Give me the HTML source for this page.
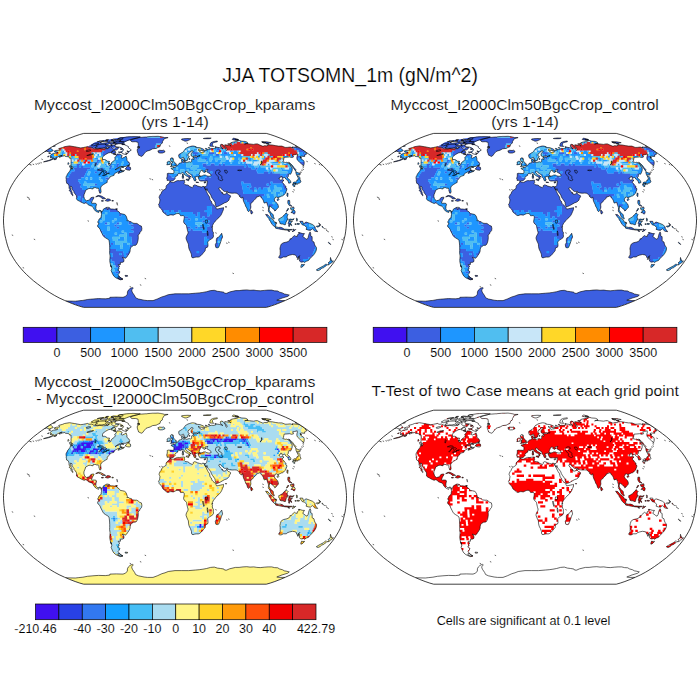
<!DOCTYPE html>
<html><head><meta charset="utf-8"><title>JJA TOTSOMN_1m</title>
<style>html,body{margin:0;padding:0;background:#fff}svg{display:block}</style></head>
<body><svg width="700" height="700" viewBox="0 0 700 700">
<rect width="700" height="700" fill="#fff"/>
<defs><clipPath id="lc"><path d="M-120.8 -69.3L-118.5 -70.0L-115.4 -70.2L-115.6 -70.8L-116.3 -71.8L-112.3 -72.9L-110.5 -73.7L-105.5 -74.5L-103.1 -74.1L-100.8 -73.7L-99.9 -73.6L-98.9 -73.4L-98.0 -73.2L-97.0 -73.0L-94.2 -72.5L-91.6 -72.9L-87.1 -73.8L-86.1 -72.9L-83.1 -73.1L-80.6 -71.6L-77.2 -71.4L-75.2 -72.0L-73.6 -71.6L-71.6 -71.4L-68.5 -71.7L-67.3 -71.6L-65.7 -73.4L-63.1 -75.2L-63.0 -73.8L-63.4 -72.9L-62.7 -72.0L-61.7 -71.6L-60.9 -71.1L-58.8 -73.0L-56.4 -73.0L-56.6 -72.0L-58.1 -70.6L-61.3 -70.1L-63.0 -68.8L-64.2 -68.0L-66.8 -67.4L-69.4 -65.9L-72.1 -63.9L-72.5 -62.7L-72.5 -60.9L-70.4 -60.9L-69.1 -60.4L-67.5 -59.2L-65.4 -59.0L-66.5 -56.8L-65.9 -55.1L-64.6 -55.3L-63.4 -57.9L-60.7 -59.9L-59.6 -61.4L-60.4 -62.7L-59.0 -63.9L-58.0 -66.3L-55.1 -66.2L-52.8 -64.9L-53.9 -62.7L-52.6 -62.2L-50.1 -63.4L-48.9 -64.3L-48.1 -61.9L-48.1 -59.9L-46.3 -58.4L-45.3 -56.8L-45.4 -55.8L-46.7 -55.2L-49.5 -53.9L-54.5 -53.9L-57.0 -52.7L-59.9 -50.6L-58.4 -51.3L-55.4 -52.7L-53.7 -52.7L-54.5 -51.6L-54.6 -50.6L-54.3 -49.5L-51.9 -49.1L-50.7 -50.4L-51.0 -49.2L-52.5 -48.6L-54.9 -47.7L-56.9 -46.9L-56.5 -47.9L-54.9 -49.0L-57.2 -48.5L-59.3 -47.4L-60.9 -46.3L-60.9 -45.1L-61.9 -44.7L-64.6 -43.9L-65.2 -42.6L-66.6 -41.4L-67.7 -39.9L-67.8 -38.8L-67.8 -38.0L-69.3 -37.2L-71.4 -35.9L-73.6 -34.3L-74.4 -32.4L-74.1 -30.2L-73.9 -28.6L-74.5 -27.2L-75.2 -27.2L-75.6 -28.4L-76.2 -30.2L-76.0 -31.3L-76.8 -32.4L-78.1 -32.0L-79.0 -32.8L-80.4 -32.7L-81.8 -32.6L-81.9 -31.5L-83.0 -31.5L-84.3 -31.9L-86.1 -31.9L-87.2 -31.3L-89.3 -30.2L-90.0 -28.0L-90.9 -25.9L-91.2 -24.1L-90.7 -22.1L-90.0 -20.7L-89.1 -20.1L-88.5 -19.6L-86.8 -20.1L-85.3 -20.5L-84.6 -22.1L-84.1 -22.7L-82.1 -23.2L-81.2 -23.2L-81.1 -22.4L-82.0 -21.0L-82.6 -20.0L-83.0 -18.9L-83.5 -17.3L-82.9 -17.0L-81.0 -17.2L-79.1 -17.0L-78.5 -16.2L-79.0 -14.0L-79.2 -11.9L-78.7 -10.8L-77.8 -9.7L-76.9 -9.5L-75.9 -9.9L-75.0 -10.2L-73.6 -9.4L-73.1 -8.6L-73.7 -7.8L-74.3 -9.1L-75.5 -9.6L-76.0 -8.8L-76.3 -7.9L-77.4 -8.3L-78.6 -8.8L-79.3 -9.2L-80.4 -10.6L-81.3 -11.3L-81.3 -12.1L-82.7 -13.9L-83.0 -14.3L-84.1 -14.5L-85.5 -15.0L-86.8 -15.6L-88.4 -17.3L-89.5 -17.5L-90.9 -16.9L-92.7 -17.7L-94.0 -18.3L-95.8 -19.4L-97.1 -20.0L-98.3 -21.0L-98.6 -22.1L-98.3 -23.2L-98.7 -24.8L-99.8 -26.4L-100.9 -27.6L-101.1 -28.8L-101.8 -29.7L-102.4 -30.7L-103.1 -31.8L-103.0 -33.4L-104.3 -34.2L-104.7 -32.9L-104.1 -31.3L-103.7 -29.7L-102.9 -28.0L-102.7 -26.4L-101.9 -25.0L-102.4 -24.7L-102.8 -25.4L-103.9 -26.6L-103.9 -28.0L-105.2 -29.1L-105.9 -30.0L-104.9 -30.7L-105.9 -32.1L-106.0 -34.0L-106.2 -35.2L-106.9 -36.5L-108.4 -37.2L-108.5 -38.3L-108.8 -39.7L-108.7 -40.8L-109.0 -42.6L-108.9 -43.6L-107.9 -45.3L-107.6 -46.3L-105.9 -48.5L-105.0 -49.8L-104.2 -52.1L-102.9 -52.0L-103.1 -50.9L-102.1 -52.7L-102.5 -53.7L-104.3 -54.8L-103.9 -56.3L-104.0 -58.2L-103.8 -59.4L-104.0 -60.9L-104.0 -62.2L-105.5 -62.2L-105.8 -63.1L-106.7 -63.7L-109.6 -63.9L-110.2 -64.7L-112.7 -64.2L-114.7 -63.4L-116.0 -63.2L-114.5 -64.5L-112.8 -65.1L-115.5 -64.4L-117.6 -63.2L-119.2 -62.4L-122.2 -61.1L-125.0 -59.9L-127.9 -59.1L-129.9 -58.7L-131.5 -58.5L-128.6 -59.5L-126.6 -59.9L-124.0 -60.9L-121.5 -62.4L-122.3 -62.6L-123.5 -62.7L-124.8 -62.6L-123.5 -63.7L-124.8 -63.9L-124.6 -64.9L-123.9 -65.9L-121.5 -67.0L-118.7 -67.3L-117.1 -68.3L-118.6 -68.2L-120.1 -68.3L-120.5 -68.8zM-44.5 -80.4L-40.3 -81.7L-35.6 -83.0L-34.4 -83.1L-33.2 -83.1L-32.0 -83.2L-30.8 -83.3L-29.6 -83.4L-28.4 -83.4L-27.2 -83.6L-26.0 -83.7L-24.8 -83.8L-23.6 -83.9L-22.4 -84.0L-21.3 -84.0L-20.1 -84.0L-19.0 -84.0L-17.9 -84.1L-16.8 -84.1L-15.7 -83.9L-14.6 -83.8L-13.6 -83.6L-12.5 -83.4L-10.4 -82.8L-6.9 -82.8L-10.7 -81.7L-11.6 -80.2L-12.6 -78.6L-12.6 -77.3L-14.5 -76.0L-15.0 -73.8L-17.2 -72.9L-18.8 -72.0L-22.4 -71.6L-24.9 -70.2L-27.3 -69.5L-29.0 -68.8L-30.7 -66.8L-32.6 -64.4L-33.9 -63.9L-34.8 -64.6L-36.4 -65.2L-36.9 -66.8L-37.5 -68.3L-37.8 -70.2L-37.5 -71.6L-35.1 -72.9L-36.8 -73.8L-36.7 -75.2L-36.8 -76.9L-37.2 -78.2L-39.7 -78.7L-43.0 -78.6L-44.2 -79.4zM-43.7 -70.4L-44.9 -71.4L-46.6 -72.8L-46.6 -73.8L-48.4 -74.7L-50.9 -75.9L-52.9 -76.6L-56.1 -76.7L-59.4 -76.0L-60.2 -74.3L-58.2 -73.4L-54.9 -73.2L-53.5 -72.3L-52.4 -71.8L-51.5 -70.9L-52.2 -69.2L-53.7 -68.5L-56.7 -68.4L-55.6 -67.8L-53.2 -68.1L-52.5 -66.8L-50.6 -66.2L-48.6 -65.7L-48.0 -66.8L-49.6 -67.4L-47.3 -66.8L-46.7 -68.8L-48.0 -69.7L-47.8 -68.8L-45.8 -69.0zM-79.3 -74.7L-75.2 -76.0L-74.0 -76.1L-72.7 -76.1L-71.5 -76.1L-70.3 -76.2L-69.1 -76.2L-68.7 -74.3L-70.2 -72.9L-72.9 -72.3L-76.5 -72.1L-78.7 -72.0L-80.2 -72.7L-77.6 -73.8zM-83.8 -75.2L-80.3 -77.1L-76.6 -77.1L-76.2 -76.3L-79.2 -75.4L-81.6 -74.5zM-50.4 -78.7L-51.5 -78.8L-52.6 -78.8L-53.6 -78.9L-54.7 -78.9L-55.8 -79.0L-53.9 -80.2L-54.7 -80.4L-55.5 -80.6L-56.4 -80.8L-57.2 -81.0L-56.4 -82.1L-52.0 -82.8L-48.3 -83.4L-47.0 -83.5L-45.8 -83.6L-44.6 -83.7L-43.4 -83.7L-42.2 -83.8L-41.1 -83.8L-40.0 -83.7L-38.9 -83.7L-37.8 -83.7L-36.7 -83.6L-34.7 -83.3L-37.8 -82.4L-41.4 -81.7L-43.9 -81.0L-46.5 -80.2L-48.5 -79.4zM-51.6 -77.4L-52.9 -77.4L-54.2 -77.4L-55.5 -77.4L-56.8 -77.4L-58.1 -77.4L-59.4 -77.4L-61.0 -78.2L-57.6 -79.1L-56.6 -79.0L-55.5 -79.0L-54.5 -78.9L-53.5 -78.8L-50.8 -78.3zM-63.8 -75.2L-59.7 -75.6L-58.6 -76.9L-62.1 -76.9zM-68.1 -75.2L-65.2 -74.7L-63.5 -76.5L-65.9 -76.7zM-75.0 -77.7L-72.5 -77.2L-68.0 -77.7L-66.8 -78.7L-68.9 -79.1L-72.8 -78.9zM-66.5 -77.9L-65.5 -77.9L-64.5 -77.8L-63.5 -77.8L-62.5 -77.7L-60.8 -79.0L-64.3 -79.2zM-77.7 -78.6L-73.9 -78.6L-71.2 -79.6L-74.3 -79.6zM-69.3 -72.5L-66.8 -72.1L-65.9 -73.2L-67.8 -73.4zM-62.6 -69.3L-60.2 -69.7L-59.1 -68.0L-61.3 -66.8L-63.9 -67.4zM-49.8 -51.3L-47.1 -54.6L-45.6 -55.4L-46.3 -53.7L-44.5 -53.0L-44.3 -51.1L-45.2 -50.2L-47.3 -50.4zM-105.6 -54.6L-103.2 -53.9L-103.2 -52.1L-104.7 -52.4zM-106.7 -57.9L-106.1 -56.8L-106.9 -55.8L-107.1 -56.8zM-120.3 -61.4L-118.1 -61.8L-119.3 -60.9L-121.0 -60.7zM-79.3 -23.6L-77.3 -24.8L-75.4 -24.9L-73.6 -24.3L-71.9 -23.3L-70.1 -22.3L-69.4 -21.8L-72.5 -21.5L-72.9 -22.3L-74.6 -23.4L-76.4 -24.2L-78.3 -23.7zM-69.8 -19.8L-68.1 -21.5L-65.5 -21.4L-64.2 -20.1L-65.7 -19.6L-67.2 -19.1zM-73.5 -19.8L-71.6 -19.7L-71.7 -19.2L-73.5 -19.2zM-63.0 -20.0L-61.6 -19.8L-61.7 -19.3L-63.1 -19.3zM-73.1 -8.6L-72.1 -10.0L-71.4 -11.5L-70.1 -12.1L-68.6 -12.9L-67.7 -13.4L-67.8 -11.9L-67.3 -10.8L-66.6 -12.3L-66.3 -13.2L-64.9 -12.1L-64.5 -11.3L-62.6 -11.4L-60.7 -11.1L-58.8 -11.5L-58.6 -10.8L-57.9 -10.2L-57.4 -9.2L-56.0 -8.6L-54.7 -6.8L-52.3 -6.4L-50.4 -5.9L-49.0 -4.7L-48.1 -2.2L-47.6 -0.5L-48.1 0.3L-46.2 0.3L-45.7 1.1L-43.8 1.3L-42.4 2.7L-40.0 3.0L-38.1 3.0L-36.6 4.0L-35.2 5.2L-33.6 5.7L-33.1 8.1L-33.4 10.2L-34.9 11.9L-35.5 13.5L-36.9 14.6L-36.7 17.3L-36.9 19.4L-37.4 21.6L-38.2 23.7L-39.1 24.8L-41.4 25.0L-43.2 26.1L-44.4 27.5L-44.8 29.1L-45.0 31.3L-46.0 33.4L-47.2 35.1L-48.2 36.7L-49.4 37.8L-50.8 37.5L-51.7 37.2L-52.7 36.9L-51.2 38.8L-51.0 41.0L-52.1 41.8L-54.7 42.1L-54.5 44.0L-56.8 44.2L-55.9 45.6L-55.2 46.0L-56.3 46.9L-55.9 48.5L-57.3 49.5L-55.7 50.6L-55.1 51.6L-56.0 53.2L-56.9 54.3L-55.7 56.1L-55.4 56.8L-53.5 58.4L-52.0 58.7L-52.8 59.1L-54.7 59.4L-57.1 58.4L-59.2 57.4L-61.1 55.8L-62.4 53.7L-63.3 51.6L-63.9 50.1L-63.2 48.5L-63.5 46.3L-64.3 45.3L-64.8 43.1L-65.2 41.0L-65.2 39.9L-65.1 38.3L-64.9 35.6L-65.4 32.4L-65.3 30.2L-65.3 27.5L-65.4 24.8L-65.7 21.6L-66.1 19.8L-67.2 18.7L-69.2 17.6L-71.2 16.2L-72.1 14.9L-73.1 12.9L-74.2 10.8L-75.0 8.8L-76.0 7.3L-77.2 6.5L-77.4 4.9L-76.4 3.7L-76.2 2.7L-77.1 2.4L-77.1 1.1L-76.3 0.0L-76.2 -0.9L-75.3 -1.3L-75.1 -2.2L-73.8 -2.8L-73.8 -4.3L-73.5 -5.9L-73.7 -7.6L-74.0 -7.9zM-50.0 55.0L-47.5 55.1L-47.3 55.8L-49.5 56.0zM-58.7 -11.7L-57.7 -11.7L-57.8 -10.9L-58.7 -10.9zM-5.3 -38.6L-4.7 -38.7L-2.7 -38.1L-1.8 -37.9L0.0 -38.7L1.3 -39.4L2.7 -39.8L4.5 -39.7L6.2 -39.9L8.0 -40.1L8.9 -40.2L9.8 -39.9L9.4 -38.8L9.7 -37.8L9.0 -37.0L9.9 -35.9L10.9 -35.5L12.2 -35.5L13.9 -34.8L14.3 -34.0L16.0 -33.3L17.4 -32.7L18.2 -33.4L18.2 -34.7L19.5 -35.5L20.9 -35.2L22.7 -34.3L24.6 -33.8L26.4 -33.3L27.8 -34.0L29.1 -33.8L29.7 -32.4L29.9 -31.8L30.8 -30.2L31.4 -28.9L32.4 -27.0L33.2 -25.4L34.4 -23.7L34.8 -22.1L35.0 -20.5L36.2 -19.4L37.0 -17.0L37.7 -16.2L39.2 -14.9L40.4 -13.7L41.0 -12.8L40.9 -12.4L41.7 -11.3L43.6 -11.7L45.5 -12.1L47.4 -12.5L48.5 -12.8L48.5 -11.3L48.2 -10.2L47.5 -8.6L46.6 -6.5L45.7 -4.9L43.8 -2.7L41.9 -1.1L40.5 0.5L39.5 1.9L38.6 2.8L38.1 3.8L37.4 5.4L36.9 7.0L37.5 8.1L37.3 9.7L37.7 11.1L38.4 11.9L38.3 14.0L38.5 16.0L38.0 17.3L36.2 18.7L34.7 19.4L33.2 21.0L32.6 21.6L32.9 23.2L33.0 25.4L32.5 26.8L30.6 27.5L30.3 28.6L30.2 30.2L29.4 31.3L28.4 32.4L27.3 33.8L25.8 35.3L24.4 36.4L23.2 36.7L21.2 36.7L19.8 36.9L18.0 37.5L16.9 37.0L16.5 35.9L16.5 34.5L16.0 32.9L15.4 31.3L14.5 29.7L13.9 28.0L13.5 25.9L13.4 23.7L12.6 22.1L11.7 20.0L11.1 18.3L11.1 17.0L11.8 15.1L12.8 13.5L13.1 11.9L12.5 10.2L12.3 9.2L11.7 6.5L11.6 5.4L10.8 4.3L9.0 2.7L8.6 1.1L8.9 -0.5L9.1 -1.6L9.3 -3.2L9.0 -4.2L8.4 -4.9L6.7 -4.7L5.7 -4.6L4.8 -5.9L4.3 -6.8L2.9 -6.9L1.4 -6.7L0.0 -6.1L-1.9 -5.2L-2.9 -5.5L-4.3 -5.6L-5.7 -5.2L-7.1 -4.7L-8.6 -5.4L-10.0 -6.7L-10.9 -7.4L-11.9 -8.1L-12.5 -9.2L-12.8 -10.2L-13.9 -11.7L-14.7 -12.4L-15.8 -13.5L-15.9 -14.6L-16.5 -15.9L-15.5 -17.3L-15.3 -18.9L-15.0 -20.5L-15.4 -21.6L-15.9 -22.7L-15.7 -23.9L-14.9 -25.6L-13.9 -26.8L-13.4 -28.3L-12.3 -29.7L-11.8 -30.2L-10.1 -31.1L-9.2 -31.8L-8.9 -32.9L-8.9 -34.0L-8.3 -35.1L-7.2 -36.1L-6.1 -36.9L-5.4 -38.1zM46.7 12.9L47.6 16.7L46.5 18.9L45.9 21.0L44.7 24.3L43.6 27.0L42.1 27.5L40.8 27.0L40.3 24.3L41.4 22.1L41.3 19.4L41.9 17.5L43.8 16.7L45.4 14.6zM-5.0 -38.8L-5.6 -39.6L-6.6 -40.1L-7.9 -39.9L-7.8 -41.5L-8.4 -41.8L-7.7 -44.2L-7.7 -45.8L-7.9 -46.6L-6.9 -47.1L-5.2 -47.0L-3.0 -46.9L-1.6 -46.8L-1.1 -47.9L-1.0 -49.5L-1.9 -50.8L-3.6 -51.4L-3.9 -52.2L-2.5 -52.5L-1.3 -52.4L-1.5 -53.4L-0.9 -53.1L0.2 -53.2L1.2 -53.9L1.4 -54.8L2.9 -55.2L3.4 -56.0L3.9 -56.8L4.8 -57.3L5.6 -57.5L6.8 -57.7L7.0 -58.4L6.5 -59.4L6.4 -60.9L7.4 -61.1L8.2 -61.6L8.1 -60.4L8.5 -60.2L7.9 -59.4L7.7 -58.9L8.0 -58.4L8.8 -57.9L9.6 -58.1L10.8 -58.3L11.5 -57.8L12.8 -58.2L14.3 -58.7L15.0 -58.3L15.8 -58.3L16.7 -58.9L16.6 -59.9L16.6 -60.9L16.9 -61.5L17.6 -61.6L18.2 -60.9L19.0 -61.1L18.9 -62.2L18.1 -62.6L18.0 -63.2L19.1 -63.4L21.4 -63.4L23.0 -63.8L21.6 -64.4L19.7 -64.3L17.5 -63.8L16.3 -64.4L16.0 -65.4L16.0 -66.4L16.5 -67.3L17.8 -68.6L18.2 -69.2L17.2 -69.5L16.0 -69.4L15.5 -68.3L14.0 -67.1L13.0 -66.4L13.0 -64.9L13.3 -64.4L14.3 -63.9L13.8 -62.9L13.0 -62.4L12.8 -61.4L12.6 -60.2L11.4 -59.9L11.3 -59.3L10.3 -59.3L10.0 -60.1L9.2 -61.4L8.6 -62.9L8.1 -63.2L7.7 -62.9L6.2 -62.0L5.0 -62.0L4.2 -62.7L3.8 -63.9L3.7 -65.4L4.1 -66.1L5.2 -66.6L6.2 -67.3L7.3 -67.8L8.3 -68.8L9.0 -69.7L9.9 -70.9L10.5 -71.8L11.8 -72.5L13.0 -73.2L14.3 -73.6L15.9 -74.1L17.4 -74.4L18.9 -74.3L21.1 -73.7L20.6 -73.1L22.8 -72.8L24.9 -72.7L28.1 -71.4L29.3 -70.5L28.6 -69.8L26.4 -69.9L24.6 -70.2L23.0 -70.7L24.8 -69.2L25.3 -68.3L26.7 -67.8L27.6 -68.3L29.5 -68.3L28.8 -69.2L30.0 -70.1L31.4 -69.9L31.0 -71.1L30.3 -72.0L32.2 -71.6L32.7 -70.5L33.8 -71.2L35.0 -71.6L36.9 -72.0L38.1 -71.7L39.7 -72.1L40.9 -72.5L41.5 -73.2L44.2 -72.8L46.6 -72.2L47.9 -71.7L46.1 -72.9L45.3 -74.3L45.5 -75.6L46.0 -76.2L48.1 -75.6L49.0 -74.3L50.4 -72.5L51.0 -70.6L51.5 -69.9L52.2 -70.5L51.6 -72.0L49.7 -74.3L49.8 -75.6L52.0 -75.3L54.3 -75.0L56.1 -74.3L54.8 -75.6L52.7 -76.5L56.0 -76.9L55.8 -77.7L58.3 -78.4L61.6 -78.8L64.0 -80.0L66.8 -79.2L70.2 -79.0L72.3 -78.2L72.9 -76.9L70.9 -76.9L69.6 -76.3L71.8 -76.7L74.4 -76.5L78.5 -76.0L80.9 -76.5L82.5 -76.5L84.3 -75.6L87.3 -74.3L88.6 -74.3L89.4 -74.7L92.3 -74.5L92.9 -75.6L97.2 -75.4L100.8 -74.7L103.5 -74.3L106.9 -74.3L110.1 -73.0L112.1 -73.0L115.2 -73.3L118.1 -72.5L117.1 -73.4L120.9 -73.1L124.8 -72.4L130.3 -68.8L129.9 -68.3L131.8 -66.4L130.6 -65.9L129.7 -65.4L129.7 -63.9L126.7 -64.2L125.0 -63.7L126.1 -62.1L125.8 -61.7L128.6 -59.9L129.1 -58.7L129.2 -57.0L129.0 -55.8L128.7 -54.8L126.6 -56.3L124.4 -58.4L122.3 -60.4L121.9 -61.7L121.9 -63.4L122.3 -64.4L122.3 -65.7L122.2 -66.4L119.6 -65.7L117.7 -65.4L118.5 -63.4L116.7 -62.9L114.6 -63.5L111.1 -63.2L109.2 -63.1L108.8 -61.6L108.5 -59.9L107.8 -58.7L110.3 -57.9L111.7 -58.1L114.1 -57.0L114.9 -55.8L115.8 -54.3L117.2 -52.2L117.2 -50.1L116.5 -47.9L115.5 -46.1L113.9 -46.6L113.4 -45.6L113.3 -44.2L113.1 -43.5L112.2 -42.6L113.7 -41.5L115.2 -39.9L116.0 -38.3L115.9 -37.8L114.7 -37.4L113.8 -37.1L113.2 -38.8L112.8 -39.9L111.4 -40.8L110.6 -41.5L110.3 -42.6L109.2 -43.0L107.7 -42.1L107.3 -41.8L106.9 -43.7L105.8 -44.1L104.9 -42.3L103.9 -42.1L104.6 -41.0L105.8 -40.2L107.2 -40.8L109.0 -40.1L108.0 -39.4L107.2 -38.1L108.4 -37.0L109.7 -35.1L110.9 -34.0L111.1 -33.3L110.5 -32.9L111.7 -32.1L111.8 -30.5L111.2 -29.1L110.8 -27.5L109.5 -26.3L108.8 -25.4L107.6 -24.5L106.2 -24.2L105.4 -23.7L104.1 -23.2L103.2 -22.9L103.2 -21.9L102.4 -23.2L101.2 -23.4L100.0 -22.7L99.7 -21.6L99.2 -20.5L100.1 -18.9L101.2 -17.8L102.6 -16.5L103.3 -14.6L103.4 -12.9L102.3 -11.9L101.4 -11.2L101.0 -10.2L99.7 -9.4L99.4 -10.8L98.1 -11.4L97.0 -12.9L95.5 -13.7L95.0 -14.6L94.5 -14.3L94.5 -12.9L94.1 -11.3L94.4 -9.9L95.2 -9.0L95.5 -7.8L96.5 -7.3L97.3 -6.7L98.3 -5.4L98.4 -3.8L99.1 -2.2L99.3 -1.5L98.6 -1.4L97.6 -2.2L96.5 -3.1L95.9 -4.3L95.4 -5.9L94.8 -7.3L93.6 -8.6L93.3 -9.7L93.5 -11.3L93.4 -12.9L92.6 -15.1L91.9 -17.3L91.2 -18.3L90.0 -17.3L89.0 -17.5L88.5 -19.4L87.9 -21.0L86.4 -22.4L85.6 -24.1L84.3 -24.3L83.0 -23.7L81.2 -23.2L81.2 -22.1L80.1 -21.3L78.8 -20.0L77.4 -18.1L75.8 -17.0L75.7 -15.1L75.9 -13.5L75.6 -11.9L75.1 -11.1L74.5 -9.7L73.6 -8.7L72.6 -9.7L71.8 -12.4L70.7 -14.0L70.0 -16.2L68.9 -18.3L68.2 -20.5L67.9 -22.7L67.6 -23.5L67.3 -22.7L66.2 -22.4L64.3 -24.1L65.2 -24.6L63.7 -25.4L62.5 -26.4L61.8 -27.2L59.8 -27.3L57.0 -27.2L54.6 -27.5L52.9 -28.0L52.4 -29.1L50.8 -28.8L49.4 -28.9L47.9 -30.0L46.6 -31.3L45.7 -32.6L44.8 -32.8L43.9 -32.4L44.0 -31.3L44.9 -30.2L45.6 -29.3L46.4 -28.6L46.8 -27.5L47.3 -27.0L47.4 -28.0L47.9 -26.4L49.2 -26.1L50.6 -26.2L51.4 -27.5L52.0 -28.3L52.4 -26.8L53.4 -25.7L54.6 -25.4L55.7 -24.3L55.1 -22.7L54.2 -22.0L54.1 -20.5L53.1 -19.4L51.7 -18.3L49.4 -17.5L47.2 -16.2L45.3 -15.1L42.7 -13.9L41.1 -13.7L40.6 -14.9L40.2 -16.7L40.0 -18.3L38.6 -20.2L37.4 -21.9L36.4 -23.5L35.8 -25.4L34.5 -27.2L33.3 -28.6L32.2 -30.2L31.9 -31.8L31.6 -30.1L30.6 -30.7L29.8 -32.4L29.6 -33.7L31.0 -33.8L31.6 -34.7L32.0 -36.5L32.3 -38.3L32.3 -39.6L31.2 -39.5L29.9 -39.1L28.6 -39.4L27.2 -39.4L25.9 -39.3L24.5 -39.9L23.9 -41.2L23.4 -42.4L23.1 -43.2L24.1 -43.6L25.4 -43.7L25.3 -44.3L27.1 -44.4L28.7 -45.3L30.4 -45.3L31.8 -44.5L33.6 -44.2L34.9 -44.2L36.2 -44.7L36.0 -45.8L34.5 -46.9L33.0 -47.8L31.8 -48.5L32.2 -50.1L32.9 -50.8L31.6 -50.6L30.0 -50.1L29.8 -49.1L31.1 -48.8L30.3 -48.5L29.1 -47.8L28.5 -48.5L27.7 -48.9L28.4 -49.6L27.1 -50.1L26.1 -50.1L25.3 -48.8L24.7 -47.4L24.2 -46.3L24.0 -45.8L24.4 -45.1L25.3 -44.4L24.3 -44.2L23.2 -43.7L22.7 -44.0L21.4 -44.0L20.9 -43.1L19.9 -43.7L20.1 -42.6L20.6 -41.8L21.3 -41.0L20.4 -40.8L20.7 -39.4L20.0 -39.4L19.3 -39.7L18.8 -40.8L18.5 -42.1L17.6 -42.8L17.0 -43.7L17.0 -45.0L16.0 -45.8L14.7 -46.6L13.3 -47.4L12.4 -48.7L11.7 -49.1L10.5 -48.8L10.6 -47.7L11.7 -46.9L12.3 -45.7L13.7 -45.2L14.1 -45.0L15.8 -43.8L16.2 -43.2L14.9 -43.7L14.6 -42.8L15.1 -42.1L14.6 -41.4L13.9 -41.0L14.1 -41.8L13.8 -43.1L12.7 -43.9L11.3 -44.5L10.4 -45.2L9.5 -45.8L8.9 -46.9L8.4 -47.5L7.5 -47.8L6.4 -47.2L5.6 -46.6L4.3 -46.8L3.4 -46.9L2.7 -46.3L2.8 -45.2L1.7 -44.5L0.7 -44.0L0.0 -42.8L-0.3 -42.4L0.2 -41.8L-0.5 -41.0L-1.4 -40.2L-2.0 -39.7L-3.9 -39.6zM-124.8 -72.4L-123.7 -71.7L-122.6 -70.6L-121.8 -69.7L-125.5 -68.3L-126.9 -68.6L-128.2 -69.2L-130.3 -68.8zM-4.7 -53.8L-2.9 -54.0L-0.8 -54.5L1.1 -55.0L1.4 -56.5L0.2 -56.8L-0.2 -57.9L-1.2 -58.9L-1.6 -59.9L-1.9 -61.4L-1.4 -61.5L-2.7 -61.6L-2.3 -62.5L-3.9 -62.5L-4.7 -61.4L-4.3 -59.9L-3.8 -58.9L-2.5 -58.8L-2.4 -57.4L-3.6 -57.2L-3.7 -55.8L-4.2 -55.6L-2.9 -55.2L-3.7 -54.8zM-8.2 -55.6L-5.1 -56.0L-4.8 -57.4L-4.5 -58.4L-5.2 -59.1L-6.5 -59.1L-8.0 -58.1L-7.7 -56.8zM-17.3 -69.2L-15.7 -70.1L-12.9 -69.9L-11.4 -70.2L-10.1 -69.2L-10.2 -68.3L-12.5 -67.4L-14.7 -67.3L-16.5 -67.7L-16.0 -68.5zM6.6 -81.4L8.9 -81.7L9.9 -81.8L10.9 -81.8L11.9 -81.9L13.0 -81.9L16.0 -81.7L14.6 -80.6L11.8 -79.4L10.0 -79.2L8.6 -79.8L6.7 -80.6zM34.8 -74.3L35.0 -76.0L35.9 -77.7L38.4 -78.8L39.4 -79.0L40.3 -79.1L41.3 -79.3L42.3 -79.4L42.3 -78.6L41.4 -78.4L40.4 -78.2L39.5 -78.0L38.5 -77.7L37.3 -76.5L37.4 -75.2L38.7 -74.0L36.6 -74.1zM57.2 -81.0L58.4 -82.3L63.2 -81.0L63.0 -80.2L60.6 -80.2zM28.3 -81.9L29.2 -82.1L30.2 -82.2L31.1 -82.3L32.0 -82.4L33.1 -82.4L34.1 -82.4L35.2 -82.3L36.2 -82.3L34.3 -81.7L33.1 -81.7L32.0 -81.7L30.8 -81.7L29.6 -81.7zM87.2 -78.2L88.3 -78.3L89.4 -78.4L90.5 -78.5L91.6 -78.6L96.2 -77.7L95.4 -77.6L94.5 -77.4L93.7 -77.2L92.8 -77.1L89.2 -77.3zM120.0 -74.7L121.0 -74.7L122.1 -74.1L121.0 -74.1zM-121.0 -74.7L-119.6 -74.5L-120.2 -74.2L-122.1 -74.1zM113.6 -58.2L115.6 -56.8L117.6 -54.8L118.8 -53.0L121.0 -50.6L120.5 -49.5L119.0 -51.6L117.3 -53.7L115.5 -55.8zM122.0 -44.7L121.2 -46.3L120.7 -48.9L122.5 -47.9L125.3 -46.7L124.7 -45.3L122.6 -45.8zM123.4 -44.5L125.0 -42.6L125.0 -41.0L125.9 -38.8L125.6 -38.1L124.8 -37.4L123.2 -37.3L122.7 -36.1L121.5 -37.2L119.8 -37.0L118.1 -36.7L117.9 -37.3L118.8 -38.3L120.9 -38.5L121.8 -39.4L122.0 -40.5L123.1 -40.5L123.4 -41.5L122.9 -43.1L122.3 -44.4zM117.5 -36.1L118.8 -36.2L119.9 -34.0L118.9 -33.7L117.6 -35.4zM119.5 -36.6L121.1 -37.0L121.3 -35.9L120.5 -35.4zM112.1 -27.2L113.1 -27.0L112.7 -23.7L111.9 -24.8zM101.9 -20.7L103.4 -21.7L104.0 -21.0L102.8 -19.6zM112.9 -20.0L114.6 -20.0L114.8 -17.8L114.6 -16.2L116.2 -14.9L117.3 -13.8L115.8 -14.6L114.3 -14.8L113.5 -16.0L112.8 -17.3zM116.0 -7.6L117.3 -9.3L119.0 -10.6L120.2 -8.6L119.8 -6.8L119.2 -6.3L117.9 -7.0L117.3 -8.1zM115.5 -12.7L117.0 -12.4L118.7 -13.5L119.1 -11.9L118.4 -10.8L117.2 -10.2L116.2 -10.6L115.7 -11.3zM111.4 -9.2L113.2 -12.2L113.6 -11.3L112.0 -9.2zM103.8 -1.6L104.8 -1.9L106.0 -2.7L107.6 -3.5L108.5 -4.9L109.9 -5.9L111.0 -7.6L112.0 -6.8L113.2 -5.6L112.3 -4.6L112.1 -3.2L112.4 -2.2L113.4 -1.1L112.2 -0.9L111.9 0.5L111.0 1.6L110.7 3.2L110.4 4.3L109.0 4.3L108.1 3.6L106.4 3.6L104.9 3.0L104.8 1.6L103.8 0.3zM90.6 -6.0L92.8 -5.6L94.0 -4.0L95.7 -2.4L97.2 -1.1L98.6 0.0L99.5 1.6L100.9 3.2L100.6 6.3L99.4 6.3L97.4 4.3L96.2 2.7L95.5 1.1L94.3 -0.5L93.8 -1.9L92.4 -3.5zM100.0 7.2L101.3 6.5L103.2 7.0L105.3 6.9L107.1 7.4L108.8 8.4L108.6 9.4L106.4 9.0L103.5 8.4L101.2 8.0zM109.2 8.8L111.1 8.8L113.0 9.0L114.9 9.1L116.8 9.0L116.8 9.6L113.9 9.7L111.1 9.7L109.2 9.5zM117.1 11.1L118.6 9.7L120.8 9.1L120.0 9.9L118.0 11.1zM114.1 -0.9L115.1 -1.4L117.2 -1.0L119.1 -1.7L118.1 -0.4L115.3 -0.4L114.6 1.0L115.7 1.0L117.5 1.0L116.2 1.9L115.7 3.0L116.9 4.9L116.3 5.4L115.2 3.6L115.0 2.9L114.5 5.2L114.5 6.0L113.7 5.9L113.8 3.8L113.1 2.9L113.8 1.1zM121.4 -2.2L122.4 -1.6L122.2 0.0L121.9 0.9L121.5 -0.5zM121.9 3.2L124.5 3.2L124.2 4.0L121.9 3.8zM124.8 0.9L127.7 0.9L128.5 3.6L131.0 1.6L134.3 2.8L137.6 4.1L140.3 6.5L139.9 7.6L141.0 9.2L142.7 11.3L139.9 10.8L137.3 8.3L135.7 9.9L133.8 9.8L131.1 9.0L131.7 7.0L129.4 5.0L127.1 4.3L126.2 3.0zM141.3 5.9L143.7 5.4L145.0 4.5L144.6 5.9L142.6 6.7zM75.7 -10.5L77.1 -9.2L77.7 -7.6L77.0 -6.7L76.1 -6.5L75.7 -8.6zM135.1 11.5L135.8 13.5L135.5 15.4L137.1 16.2L137.2 18.9L137.1 20.5L139.0 21.6L139.4 23.7L140.2 25.4L141.4 27.0L141.5 28.6L141.0 30.7L139.5 33.4L137.9 35.4L136.3 36.7L134.9 38.3L133.5 40.1L131.3 40.9L129.3 42.1L128.4 41.3L126.8 41.8L125.3 41.3L124.4 40.5L124.8 38.8L124.1 38.3L124.3 37.0L123.4 38.0L123.5 36.7L124.9 35.3L122.3 37.5L121.8 37.2L121.4 35.4L119.9 34.5L117.4 34.1L114.4 34.8L112.2 35.6L111.4 36.6L108.3 36.6L106.0 37.8L104.3 37.5L103.6 37.0L105.1 34.5L105.2 32.4L105.2 30.2L104.9 28.4L105.3 26.4L106.0 24.3L106.5 23.5L108.4 22.4L110.4 21.9L111.8 21.6L113.8 20.8L114.8 19.4L115.0 18.3L116.1 18.7L116.7 17.6L117.9 16.5L119.5 15.1L120.8 16.0L122.2 16.1L122.4 14.6L123.5 13.5L125.0 12.3L125.9 12.7L127.8 13.2L129.5 13.2L128.5 14.6L127.8 16.2L129.1 17.0L130.7 18.3L132.0 19.0L133.1 17.3L133.6 15.1L134.1 13.5zM126.6 43.9L127.9 44.3L129.6 44.1L128.2 45.8L126.6 46.9L125.8 46.9L126.0 45.5zM155.5 37.1L156.0 39.1L156.7 39.7L156.6 40.8L158.5 40.7L156.7 42.3L155.8 42.6L154.2 44.2L152.5 44.7L153.8 43.1L153.1 42.4L154.9 41.0L155.4 39.9L155.4 37.8zM151.3 43.7L152.0 44.4L151.2 45.3L149.3 46.6L148.5 47.3L146.8 47.8L145.1 49.4L143.3 50.2L142.1 50.1L141.3 49.5L143.2 48.3L145.4 47.1L148.3 45.6L150.4 44.0zM153.4 21.8L154.6 22.7L155.7 24.1L154.8 23.7L153.5 22.4zM-109.3 80.6L-108.1 80.6L-106.8 80.7L-105.6 80.7L-104.4 80.7L-103.2 80.7L-102.0 80.8L-100.8 80.8L-99.7 80.8L-98.8 80.7L-97.9 80.6L-97.1 80.5L-96.2 80.4L-95.2 80.3L-94.2 80.2L-93.1 80.1L-92.1 80.0L-91.2 79.9L-90.3 79.7L-89.5 79.5L-88.5 79.3L-87.6 79.1L-86.5 79.0L-85.5 78.9L-84.4 78.8L-83.2 78.7L-82.1 78.6L-81.0 78.5L-79.9 78.4L-78.7 78.3L-77.6 78.2L-76.4 78.2L-75.1 78.2L-73.7 78.3L-72.4 78.3L-71.0 78.4L-69.7 78.4L-68.6 78.3L-67.5 78.2L-66.4 78.0L-65.2 77.9L-65.1 76.9L-63.8 76.9L-62.5 76.8L-61.3 76.8L-60.0 76.8L-58.7 76.7L-57.4 76.8L-56.0 76.8L-54.7 76.8L-53.4 76.9L-52.0 76.9L-49.5 76.0L-47.6 73.8L-47.6 71.6L-46.6 69.7L-45.1 68.3L-42.7 67.1L-41.7 67.8L-43.2 69.2L-43.2 70.6L-42.3 72.5L-40.4 75.2L-39.4 77.3L-36.6 78.6L-35.2 78.9L-33.7 79.2L-32.3 79.5L-30.9 79.8L-27.5 80.2L-26.4 80.2L-25.3 80.2L-24.2 80.2L-23.1 80.2L-22.0 80.2L-21.0 79.8L-19.9 79.4L-18.8 79.0L-17.7 78.6L-16.6 78.1L-15.4 77.5L-14.3 77.0L-13.1 76.5L-10.0 75.6L-6.8 74.3L-5.4 74.1L-4.1 73.9L-2.7 73.7L-1.4 73.6L0.0 73.4L1.4 73.4L2.7 73.4L4.1 73.4L5.5 73.4L6.8 73.4L8.2 73.4L9.6 73.4L11.0 73.4L12.3 73.4L13.7 73.4L15.1 73.3L16.5 73.1L17.9 73.0L19.3 72.9L20.7 72.8L24.2 72.5L27.9 72.0L31.6 71.3L35.6 70.2L39.3 69.9L42.4 70.9L45.7 71.3L48.9 71.8L49.6 72.9L51.7 72.9L54.6 71.6L56.1 71.2L57.6 70.9L59.1 70.5L60.5 70.2L64.1 70.2L68.0 69.7L71.8 69.5L75.0 69.9L78.8 69.7L81.9 70.2L85.3 70.4L89.2 70.0L93.1 69.7L96.7 69.7L99.5 70.4L102.7 70.6L104.7 71.8L107.4 72.5L109.3 73.6L111.9 74.1L114.3 74.7L112.8 76.0L107.1 77.7L101.8 79.8L104.0 80.2L105.3 80.2L106.5 80.2L107.7 80.2L108.9 80.2L110.2 80.2L106.6 81.7L103.0 83.1L99.7 84.4L96.6 85.4L93.8 86.3L91.3 87.0L90.3 87.0L89.2 87.0L88.2 87.0L87.2 87.0L86.2 87.0L85.2 87.0L84.2 87.0L83.2 87.0L82.1 87.0L81.1 87.0L80.1 87.0L79.1 87.0L78.1 87.0L77.1 87.0L76.1 87.0L75.0 87.0L74.0 87.0L73.0 87.0L72.0 87.0L71.0 87.0L70.0 87.0L69.0 87.0L67.9 87.0L66.9 87.0L65.9 87.0L64.9 87.0L63.9 87.0L62.9 87.0L61.9 87.0L60.8 87.0L59.8 87.0L58.8 87.0L57.8 87.0L56.8 87.0L55.8 87.0L54.8 87.0L53.7 87.0L52.7 87.0L51.7 87.0L50.7 87.0L49.7 87.0L48.7 87.0L47.7 87.0L46.7 87.0L45.6 87.0L44.6 87.0L43.6 87.0L42.6 87.0L41.6 87.0L40.6 87.0L39.6 87.0L38.5 87.0L37.5 87.0L36.5 87.0L35.5 87.0L34.5 87.0L33.5 87.0L32.5 87.0L31.4 87.0L30.4 87.0L29.4 87.0L28.4 87.0L27.4 87.0L26.4 87.0L25.4 87.0L24.3 87.0L23.3 87.0L22.3 87.0L21.3 87.0L20.3 87.0L19.3 87.0L18.3 87.0L17.2 87.0L16.2 87.0L15.2 87.0L14.2 87.0L13.2 87.0L12.2 87.0L11.2 87.0L10.1 87.0L9.1 87.0L8.1 87.0L7.1 87.0L6.1 87.0L5.1 87.0L4.1 87.0L3.0 87.0L2.0 87.0L1.0 87.0L0.0 87.0L-1.0 87.0L-2.0 87.0L-3.0 87.0L-4.1 87.0L-5.1 87.0L-6.1 87.0L-7.1 87.0L-8.1 87.0L-9.1 87.0L-10.1 87.0L-11.2 87.0L-12.2 87.0L-13.2 87.0L-14.2 87.0L-15.2 87.0L-16.2 87.0L-17.2 87.0L-18.3 87.0L-19.3 87.0L-20.3 87.0L-21.3 87.0L-22.3 87.0L-23.3 87.0L-24.3 87.0L-25.4 87.0L-26.4 87.0L-27.4 87.0L-28.4 87.0L-29.4 87.0L-30.4 87.0L-31.4 87.0L-32.5 87.0L-33.5 87.0L-34.5 87.0L-35.5 87.0L-36.5 87.0L-37.5 87.0L-38.5 87.0L-39.6 87.0L-40.6 87.0L-41.6 87.0L-42.6 87.0L-43.6 87.0L-44.6 87.0L-45.6 87.0L-46.7 87.0L-47.7 87.0L-48.7 87.0L-49.7 87.0L-50.7 87.0L-51.7 87.0L-52.7 87.0L-53.7 87.0L-54.8 87.0L-55.8 87.0L-56.8 87.0L-57.8 87.0L-58.8 87.0L-59.8 87.0L-60.8 87.0L-61.9 87.0L-62.9 87.0L-63.9 87.0L-64.9 87.0L-65.9 87.0L-66.9 87.0L-67.9 87.0L-69.0 87.0L-70.0 87.0L-71.0 87.0L-72.0 87.0L-73.0 87.0L-74.0 87.0L-75.0 87.0L-76.1 87.0L-77.1 87.0L-78.1 87.0L-79.1 87.0L-80.1 87.0L-81.1 87.0L-82.1 87.0L-83.2 87.0L-84.2 87.0L-85.2 87.0L-86.2 87.0L-87.2 87.0L-88.2 87.0L-89.2 87.0L-90.3 87.0L-91.3 87.0L-93.7 86.4L-96.4 85.5L-99.3 84.5L-102.5 83.3L-105.8 82.0zM-54.6 -71.6L-52.4 -71.7L-52.6 -70.9L-54.4 -70.8zM-53.2 -76.3L-50.4 -76.6L-50.3 -75.9L-53.0 -75.7zM-61.9 -77.7L-59.8 -77.9L-60.3 -77.4L-61.9 -77.4zM-57.9 -80.4L-54.6 -80.6L-51.9 -81.4L-52.4 -82.4L-54.5 -82.6L-56.8 -81.7zM-64.0 -80.4L-61.2 -80.2L-59.6 -81.0L-61.7 -81.2zM-60.0 -80.2L-58.9 -80.0L-58.0 -80.8L-59.2 -80.8zM-68.9 -80.4L-67.1 -80.4L-66.4 -80.8L-68.2 -80.8zM-70.1 -79.6L-68.1 -79.6L-67.4 -80.1L-69.3 -80.1zM-63.6 -79.8L-61.7 -79.8L-61.2 -80.2L-63.0 -80.2zM-69.6 -76.3L-68.5 -76.5L-68.9 -76.0L-69.7 -75.9zM-61.5 -66.6L-59.2 -66.6L-59.5 -66.2L-61.8 -66.2zM-59.9 -66.2L-59.1 -66.1L-59.6 -65.5L-60.3 -65.6zM-66.3 -56.9L-65.0 -56.9L-65.2 -56.6L-66.4 -56.6zM-53.4 -53.6L-51.4 -53.2L-51.4 -52.8L-53.4 -53.2zM-54.3 -50.5L-52.5 -50.1L-52.9 -49.5L-54.4 -49.8zM-37.5 -73.7L-35.5 -73.7L-35.9 -72.8L-37.6 -72.8zM-126.9 -64.2L-125.8 -64.2L-126.4 -63.7L-127.5 -63.7zM-126.0 -67.5L-124.3 -67.1L-125.0 -66.8L-126.3 -67.1zM33.3 -72.9L34.5 -72.8L34.4 -72.2L33.7 -72.3zM39.9 -73.7L41.3 -73.4L40.9 -73.0L40.1 -73.2zM60.0 -81.1L63.4 -80.8L63.6 -80.2L60.9 -80.4zM86.6 -78.6L88.2 -78.7L91.0 -78.2L90.2 -77.5L88.2 -77.7zM91.2 -76.8L93.6 -76.7L94.1 -76.2L92.0 -76.3zM125.2 -63.1L126.3 -62.9L126.7 -62.3L125.9 -62.5zM14.1 -61.8L14.9 -61.8L14.7 -60.8L14.1 -61.0zM8.7 -59.8L9.9 -59.9L9.9 -58.9L8.7 -59.0zM7.2 -44.4L8.5 -44.4L8.6 -42.2L7.4 -42.1zM7.4 -46.3L8.2 -46.3L8.3 -44.6L7.6 -44.7zM11.0 -41.1L13.8 -41.3L13.6 -39.6L11.1 -40.6zM21.1 -38.4L23.6 -38.1L23.5 -37.8L21.1 -38.0zM29.0 -37.9L31.0 -38.5L30.6 -37.7L29.2 -37.3zM50.4 -13.7L51.6 -13.6L51.6 -13.3L50.4 -13.3zM117.8 8.8L118.7 8.7L118.7 9.1L117.7 9.2zM112.9 10.1L114.6 10.5L114.5 11.1L112.9 10.6zM120.0 3.3L121.1 3.5L121.1 4.1L119.9 3.9zM100.2 1.7L101.6 2.2L101.6 3.2L100.5 2.4zM143.5 2.8L145.2 3.8L145.6 5.0L144.9 4.0zM147.1 5.8L148.1 6.7L148.1 7.4L147.2 6.5zM122.4 38.4L123.6 38.5L123.4 38.8L122.2 38.8zM123.4 12.2L124.6 12.2L124.5 12.7L123.4 12.7zM-64.5 45.1L-63.9 45.1L-63.4 46.8L-64.2 46.6zM-57.1 56.5L-55.6 56.4L-52.3 58.5L-54.5 58.9L-57.0 57.9zM37.3 6.3L37.7 6.3L37.6 6.9L37.3 6.9zM-87.6 -73.4L-81.4 -77.3L-75.3 -79.8L-73.7 -80.0L-72.2 -80.2L-70.7 -80.4L-69.2 -80.6L-67.7 -80.8L-66.2 -81.0L-64.7 -81.2L-63.2 -81.4L-61.7 -81.7L-60.2 -81.9L-58.7 -82.1L-54.4 -83.1L-53.2 -83.2L-52.0 -83.3L-50.8 -83.4L-49.6 -83.5L-48.4 -83.6L-47.2 -83.7L-46.1 -83.8L-44.9 -83.9L-43.8 -83.9L-42.7 -83.9L-41.6 -83.8L-40.5 -83.8L-39.4 -83.8L-38.2 -83.8L-37.1 -83.8L-36.0 -83.8L-34.9 -83.8L-34.9 -83.1L-36.2 -82.8L-37.5 -82.4L-38.9 -82.1L-40.3 -81.7L-44.3 -80.6L-48.9 -79.0L-51.7 -77.3L-50.8 -76.0L-50.0 -75.6L-49.1 -75.2L-48.2 -74.7L-47.4 -74.3L-46.4 -72.5L-43.9 -70.6L-44.4 -69.7L-47.3 -66.8L-49.3 -65.9L-52.5 -66.8L-55.4 -68.1L-52.3 -69.7L-51.8 -71.6L-54.1 -73.4L-58.2 -73.4L-61.7 -72.5L-64.4 -73.4L-68.0 -71.6L-69.3 -71.7L-70.6 -71.8L-71.9 -71.9L-73.2 -72.0L-74.5 -72.0L-75.9 -72.0L-77.3 -72.0L-78.7 -72.0L-80.1 -72.0L-81.0 -72.4L-81.8 -72.7L-82.7 -73.0L-83.5 -73.4zM-146.5 -21.8h1.8v1.4h-1.8zM-147.1 -23.1h1.8v1.4h-1.8zM-148.3 -23.8h1.8v1.4h-1.8zM-87.6 -0.1h1.8v1.4h-1.8z"/></clipPath><clipPath id="fc"><path d="M91.3 87.0L95.2 85.9L99.9 84.3L105.1 82.3L110.5 80.0L115.9 77.5L120.7 74.9L125.2 72.2L129.5 69.3L133.6 66.4L137.6 63.4L141.5 60.4L145.1 57.2L148.5 54.1L151.6 50.9L154.4 47.7L157.1 44.4L159.5 41.1L161.6 37.8L163.5 34.6L165.2 31.3L166.5 28.0L167.6 24.7L168.5 21.4L169.3 18.1L170.1 14.8L170.6 11.5L171.0 8.2L171.3 4.9L171.5 1.6L171.5 -1.6L171.3 -4.9L171.0 -8.2L170.6 -11.5L170.1 -14.8L169.3 -18.1L168.5 -21.4L167.6 -24.7L166.5 -28.0L165.2 -31.3L163.5 -34.6L161.6 -37.8L159.5 -41.1L157.1 -44.4L154.4 -47.7L151.6 -50.9L148.5 -54.1L145.1 -57.2L141.5 -60.4L137.6 -63.4L133.6 -66.4L129.5 -69.3L125.2 -72.2L120.7 -74.9L115.9 -77.5L110.5 -80.0L105.1 -82.3L99.9 -84.3L95.2 -85.9L91.3 -87.0L-91.3 -87.0L-95.2 -85.9L-99.9 -84.3L-105.1 -82.3L-110.5 -80.0L-115.9 -77.5L-120.7 -74.9L-125.2 -72.2L-129.5 -69.3L-133.6 -66.4L-137.6 -63.4L-141.5 -60.4L-145.1 -57.2L-148.5 -54.1L-151.6 -50.9L-154.4 -47.7L-157.1 -44.4L-159.5 -41.1L-161.6 -37.8L-163.5 -34.6L-165.2 -31.3L-166.5 -28.0L-167.6 -24.7L-168.5 -21.4L-169.3 -18.1L-170.1 -14.8L-170.6 -11.5L-171.0 -8.2L-171.3 -4.9L-171.5 -1.6L-171.5 1.6L-171.3 4.9L-171.0 8.2L-170.6 11.5L-170.1 14.8L-169.3 18.1L-168.5 21.4L-167.6 24.7L-166.5 28.0L-165.2 31.3L-163.5 34.6L-161.6 37.8L-159.5 41.1L-157.1 44.4L-154.4 47.7L-151.6 50.9L-148.5 54.1L-145.1 57.2L-141.5 60.4L-137.6 63.4L-133.6 66.4L-129.5 69.3L-125.2 72.2L-120.7 74.9L-115.9 77.5L-110.5 80.0L-105.1 82.3L-99.9 84.3L-95.2 85.9L-91.3 87.0z"/></clipPath><path id="coast" fill="none" stroke="#000" stroke-width="0.6" stroke-linejoin="round" d="M-120.8 -69.3L-118.5 -70.0L-115.4 -70.2L-115.6 -70.8L-116.3 -71.8L-112.3 -72.9L-110.5 -73.7L-105.5 -74.5L-103.1 -74.1L-100.8 -73.7L-99.9 -73.6L-98.9 -73.4L-98.0 -73.2L-97.0 -73.0L-94.2 -72.5L-91.6 -72.9L-87.1 -73.8L-86.1 -72.9L-83.1 -73.1L-80.6 -71.6L-77.2 -71.4L-75.2 -72.0L-73.6 -71.6L-71.6 -71.4L-68.5 -71.7L-67.3 -71.6L-65.7 -73.4L-63.1 -75.2L-63.0 -73.8L-63.4 -72.9L-62.7 -72.0L-61.7 -71.6L-60.9 -71.1L-58.8 -73.0L-56.4 -73.0L-56.6 -72.0L-58.1 -70.6L-61.3 -70.1L-63.0 -68.8L-64.2 -68.0L-66.8 -67.4L-69.4 -65.9L-72.1 -63.9L-72.5 -62.7L-72.5 -60.9L-70.4 -60.9L-69.1 -60.4L-67.5 -59.2L-65.4 -59.0L-66.5 -56.8L-65.9 -55.1L-64.6 -55.3L-63.4 -57.9L-60.7 -59.9L-59.6 -61.4L-60.4 -62.7L-59.0 -63.9L-58.0 -66.3L-55.1 -66.2L-52.8 -64.9L-53.9 -62.7L-52.6 -62.2L-50.1 -63.4L-48.9 -64.3L-48.1 -61.9L-48.1 -59.9L-46.3 -58.4L-45.3 -56.8L-45.4 -55.8L-46.7 -55.2L-49.5 -53.9L-54.5 -53.9L-57.0 -52.7L-59.9 -50.6L-58.4 -51.3L-55.4 -52.7L-53.7 -52.7L-54.5 -51.6L-54.6 -50.6L-54.3 -49.5L-51.9 -49.1L-50.7 -50.4L-51.0 -49.2L-52.5 -48.6L-54.9 -47.7L-56.9 -46.9L-56.5 -47.9L-54.9 -49.0L-57.2 -48.5L-59.3 -47.4L-60.9 -46.3L-60.9 -45.1L-61.9 -44.7L-64.6 -43.9L-65.2 -42.6L-66.6 -41.4L-67.7 -39.9L-67.8 -38.8L-67.8 -38.0L-69.3 -37.2L-71.4 -35.9L-73.6 -34.3L-74.4 -32.4L-74.1 -30.2L-73.9 -28.6L-74.5 -27.2L-75.2 -27.2L-75.6 -28.4L-76.2 -30.2L-76.0 -31.3L-76.8 -32.4L-78.1 -32.0L-79.0 -32.8L-80.4 -32.7L-81.8 -32.6L-81.9 -31.5L-83.0 -31.5L-84.3 -31.9L-86.1 -31.9L-87.2 -31.3L-89.3 -30.2L-90.0 -28.0L-90.9 -25.9L-91.2 -24.1L-90.7 -22.1L-90.0 -20.7L-89.1 -20.1L-88.5 -19.6L-86.8 -20.1L-85.3 -20.5L-84.6 -22.1L-84.1 -22.7L-82.1 -23.2L-81.2 -23.2L-81.1 -22.4L-82.0 -21.0L-82.6 -20.0L-83.0 -18.9L-83.5 -17.3L-82.9 -17.0L-81.0 -17.2L-79.1 -17.0L-78.5 -16.2L-79.0 -14.0L-79.2 -11.9L-78.7 -10.8L-77.8 -9.7L-76.9 -9.5L-75.9 -9.9L-75.0 -10.2L-73.6 -9.4L-73.1 -8.6L-73.7 -7.8L-74.3 -9.1L-75.5 -9.6L-76.0 -8.8L-76.3 -7.9L-77.4 -8.3L-78.6 -8.8L-79.3 -9.2L-80.4 -10.6L-81.3 -11.3L-81.3 -12.1L-82.7 -13.9L-83.0 -14.3L-84.1 -14.5L-85.5 -15.0L-86.8 -15.6L-88.4 -17.3L-89.5 -17.5L-90.9 -16.9L-92.7 -17.7L-94.0 -18.3L-95.8 -19.4L-97.1 -20.0L-98.3 -21.0L-98.6 -22.1L-98.3 -23.2L-98.7 -24.8L-99.8 -26.4L-100.9 -27.6L-101.1 -28.8L-101.8 -29.7L-102.4 -30.7L-103.1 -31.8L-103.0 -33.4L-104.3 -34.2L-104.7 -32.9L-104.1 -31.3L-103.7 -29.7L-102.9 -28.0L-102.7 -26.4L-101.9 -25.0L-102.4 -24.7L-102.8 -25.4L-103.9 -26.6L-103.9 -28.0L-105.2 -29.1L-105.9 -30.0L-104.9 -30.7L-105.9 -32.1L-106.0 -34.0L-106.2 -35.2L-106.9 -36.5L-108.4 -37.2L-108.5 -38.3L-108.8 -39.7L-108.7 -40.8L-109.0 -42.6L-108.9 -43.6L-107.9 -45.3L-107.6 -46.3L-105.9 -48.5L-105.0 -49.8L-104.2 -52.1L-102.9 -52.0L-103.1 -50.9L-102.1 -52.7L-102.5 -53.7L-104.3 -54.8L-103.9 -56.3L-104.0 -58.2L-103.8 -59.4L-104.0 -60.9L-104.0 -62.2L-105.5 -62.2L-105.8 -63.1L-106.7 -63.7L-109.6 -63.9L-110.2 -64.7L-112.7 -64.2L-114.7 -63.4L-116.0 -63.2L-114.5 -64.5L-112.8 -65.1L-115.5 -64.4L-117.6 -63.2L-119.2 -62.4L-122.2 -61.1L-125.0 -59.9L-127.9 -59.1L-129.9 -58.7L-131.5 -58.5L-128.6 -59.5L-126.6 -59.9L-124.0 -60.9L-121.5 -62.4L-122.3 -62.6L-123.5 -62.7L-124.8 -62.6L-123.5 -63.7L-124.8 -63.9L-124.6 -64.9L-123.9 -65.9L-121.5 -67.0L-118.7 -67.3L-117.1 -68.3L-118.6 -68.2L-120.1 -68.3L-120.5 -68.8zM-44.5 -80.4L-40.3 -81.7L-35.6 -83.0L-34.4 -83.1L-33.2 -83.1L-32.0 -83.2L-30.8 -83.3L-29.6 -83.4L-28.4 -83.4L-27.2 -83.6L-26.0 -83.7L-24.8 -83.8L-23.6 -83.9L-22.4 -84.0L-21.3 -84.0L-20.1 -84.0L-19.0 -84.0L-17.9 -84.1L-16.8 -84.1L-15.7 -83.9L-14.6 -83.8L-13.6 -83.6L-12.5 -83.4L-10.4 -82.8L-6.9 -82.8L-10.7 -81.7L-11.6 -80.2L-12.6 -78.6L-12.6 -77.3L-14.5 -76.0L-15.0 -73.8L-17.2 -72.9L-18.8 -72.0L-22.4 -71.6L-24.9 -70.2L-27.3 -69.5L-29.0 -68.8L-30.7 -66.8L-32.6 -64.4L-33.9 -63.9L-34.8 -64.6L-36.4 -65.2L-36.9 -66.8L-37.5 -68.3L-37.8 -70.2L-37.5 -71.6L-35.1 -72.9L-36.8 -73.8L-36.7 -75.2L-36.8 -76.9L-37.2 -78.2L-39.7 -78.7L-43.0 -78.6L-44.2 -79.4zM-43.7 -70.4L-44.9 -71.4L-46.6 -72.8L-46.6 -73.8L-48.4 -74.7L-50.9 -75.9L-52.9 -76.6L-56.1 -76.7L-59.4 -76.0L-60.2 -74.3L-58.2 -73.4L-54.9 -73.2L-53.5 -72.3L-52.4 -71.8L-51.5 -70.9L-52.2 -69.2L-53.7 -68.5L-56.7 -68.4L-55.6 -67.8L-53.2 -68.1L-52.5 -66.8L-50.6 -66.2L-48.6 -65.7L-48.0 -66.8L-49.6 -67.4L-47.3 -66.8L-46.7 -68.8L-48.0 -69.7L-47.8 -68.8L-45.8 -69.0zM-79.3 -74.7L-75.2 -76.0L-74.0 -76.1L-72.7 -76.1L-71.5 -76.1L-70.3 -76.2L-69.1 -76.2L-68.7 -74.3L-70.2 -72.9L-72.9 -72.3L-76.5 -72.1L-78.7 -72.0L-80.2 -72.7L-77.6 -73.8zM-83.8 -75.2L-80.3 -77.1L-76.6 -77.1L-76.2 -76.3L-79.2 -75.4L-81.6 -74.5zM-50.4 -78.7L-51.5 -78.8L-52.6 -78.8L-53.6 -78.9L-54.7 -78.9L-55.8 -79.0L-53.9 -80.2L-54.7 -80.4L-55.5 -80.6L-56.4 -80.8L-57.2 -81.0L-56.4 -82.1L-52.0 -82.8L-48.3 -83.4L-47.0 -83.5L-45.8 -83.6L-44.6 -83.7L-43.4 -83.7L-42.2 -83.8L-41.1 -83.8L-40.0 -83.7L-38.9 -83.7L-37.8 -83.7L-36.7 -83.6L-34.7 -83.3L-37.8 -82.4L-41.4 -81.7L-43.9 -81.0L-46.5 -80.2L-48.5 -79.4zM-51.6 -77.4L-52.9 -77.4L-54.2 -77.4L-55.5 -77.4L-56.8 -77.4L-58.1 -77.4L-59.4 -77.4L-61.0 -78.2L-57.6 -79.1L-56.6 -79.0L-55.5 -79.0L-54.5 -78.9L-53.5 -78.8L-50.8 -78.3zM-63.8 -75.2L-59.7 -75.6L-58.6 -76.9L-62.1 -76.9zM-68.1 -75.2L-65.2 -74.7L-63.5 -76.5L-65.9 -76.7zM-75.0 -77.7L-72.5 -77.2L-68.0 -77.7L-66.8 -78.7L-68.9 -79.1L-72.8 -78.9zM-66.5 -77.9L-65.5 -77.9L-64.5 -77.8L-63.5 -77.8L-62.5 -77.7L-60.8 -79.0L-64.3 -79.2zM-77.7 -78.6L-73.9 -78.6L-71.2 -79.6L-74.3 -79.6zM-69.3 -72.5L-66.8 -72.1L-65.9 -73.2L-67.8 -73.4zM-62.6 -69.3L-60.2 -69.7L-59.1 -68.0L-61.3 -66.8L-63.9 -67.4zM-49.8 -51.3L-47.1 -54.6L-45.6 -55.4L-46.3 -53.7L-44.5 -53.0L-44.3 -51.1L-45.2 -50.2L-47.3 -50.4zM-105.6 -54.6L-103.2 -53.9L-103.2 -52.1L-104.7 -52.4zM-106.7 -57.9L-106.1 -56.8L-106.9 -55.8L-107.1 -56.8zM-120.3 -61.4L-118.1 -61.8L-119.3 -60.9L-121.0 -60.7zM-79.3 -23.6L-77.3 -24.8L-75.4 -24.9L-73.6 -24.3L-71.9 -23.3L-70.1 -22.3L-69.4 -21.8L-72.5 -21.5L-72.9 -22.3L-74.6 -23.4L-76.4 -24.2L-78.3 -23.7zM-69.8 -19.8L-68.1 -21.5L-65.5 -21.4L-64.2 -20.1L-65.7 -19.6L-67.2 -19.1zM-73.5 -19.8L-71.6 -19.7L-71.7 -19.2L-73.5 -19.2zM-63.0 -20.0L-61.6 -19.8L-61.7 -19.3L-63.1 -19.3zM-73.1 -8.6L-72.1 -10.0L-71.4 -11.5L-70.1 -12.1L-68.6 -12.9L-67.7 -13.4L-67.8 -11.9L-67.3 -10.8L-66.6 -12.3L-66.3 -13.2L-64.9 -12.1L-64.5 -11.3L-62.6 -11.4L-60.7 -11.1L-58.8 -11.5L-58.6 -10.8L-57.9 -10.2L-57.4 -9.2L-56.0 -8.6L-54.7 -6.8L-52.3 -6.4L-50.4 -5.9L-49.0 -4.7L-48.1 -2.2L-47.6 -0.5L-48.1 0.3L-46.2 0.3L-45.7 1.1L-43.8 1.3L-42.4 2.7L-40.0 3.0L-38.1 3.0L-36.6 4.0L-35.2 5.2L-33.6 5.7L-33.1 8.1L-33.4 10.2L-34.9 11.9L-35.5 13.5L-36.9 14.6L-36.7 17.3L-36.9 19.4L-37.4 21.6L-38.2 23.7L-39.1 24.8L-41.4 25.0L-43.2 26.1L-44.4 27.5L-44.8 29.1L-45.0 31.3L-46.0 33.4L-47.2 35.1L-48.2 36.7L-49.4 37.8L-50.8 37.5L-51.7 37.2L-52.7 36.9L-51.2 38.8L-51.0 41.0L-52.1 41.8L-54.7 42.1L-54.5 44.0L-56.8 44.2L-55.9 45.6L-55.2 46.0L-56.3 46.9L-55.9 48.5L-57.3 49.5L-55.7 50.6L-55.1 51.6L-56.0 53.2L-56.9 54.3L-55.7 56.1L-55.4 56.8L-53.5 58.4L-52.0 58.7L-52.8 59.1L-54.7 59.4L-57.1 58.4L-59.2 57.4L-61.1 55.8L-62.4 53.7L-63.3 51.6L-63.9 50.1L-63.2 48.5L-63.5 46.3L-64.3 45.3L-64.8 43.1L-65.2 41.0L-65.2 39.9L-65.1 38.3L-64.9 35.6L-65.4 32.4L-65.3 30.2L-65.3 27.5L-65.4 24.8L-65.7 21.6L-66.1 19.8L-67.2 18.7L-69.2 17.6L-71.2 16.2L-72.1 14.9L-73.1 12.9L-74.2 10.8L-75.0 8.8L-76.0 7.3L-77.2 6.5L-77.4 4.9L-76.4 3.7L-76.2 2.7L-77.1 2.4L-77.1 1.1L-76.3 0.0L-76.2 -0.9L-75.3 -1.3L-75.1 -2.2L-73.8 -2.8L-73.8 -4.3L-73.5 -5.9L-73.7 -7.6L-74.0 -7.9zM-50.0 55.0L-47.5 55.1L-47.3 55.8L-49.5 56.0zM-58.7 -11.7L-57.7 -11.7L-57.8 -10.9L-58.7 -10.9zM-5.3 -38.6L-4.7 -38.7L-2.7 -38.1L-1.8 -37.9L0.0 -38.7L1.3 -39.4L2.7 -39.8L4.5 -39.7L6.2 -39.9L8.0 -40.1L8.9 -40.2L9.8 -39.9L9.4 -38.8L9.7 -37.8L9.0 -37.0L9.9 -35.9L10.9 -35.5L12.2 -35.5L13.9 -34.8L14.3 -34.0L16.0 -33.3L17.4 -32.7L18.2 -33.4L18.2 -34.7L19.5 -35.5L20.9 -35.2L22.7 -34.3L24.6 -33.8L26.4 -33.3L27.8 -34.0L29.1 -33.8L29.7 -32.4L29.9 -31.8L30.8 -30.2L31.4 -28.9L32.4 -27.0L33.2 -25.4L34.4 -23.7L34.8 -22.1L35.0 -20.5L36.2 -19.4L37.0 -17.0L37.7 -16.2L39.2 -14.9L40.4 -13.7L41.0 -12.8L40.9 -12.4L41.7 -11.3L43.6 -11.7L45.5 -12.1L47.4 -12.5L48.5 -12.8L48.5 -11.3L48.2 -10.2L47.5 -8.6L46.6 -6.5L45.7 -4.9L43.8 -2.7L41.9 -1.1L40.5 0.5L39.5 1.9L38.6 2.8L38.1 3.8L37.4 5.4L36.9 7.0L37.5 8.1L37.3 9.7L37.7 11.1L38.4 11.9L38.3 14.0L38.5 16.0L38.0 17.3L36.2 18.7L34.7 19.4L33.2 21.0L32.6 21.6L32.9 23.2L33.0 25.4L32.5 26.8L30.6 27.5L30.3 28.6L30.2 30.2L29.4 31.3L28.4 32.4L27.3 33.8L25.8 35.3L24.4 36.4L23.2 36.7L21.2 36.7L19.8 36.9L18.0 37.5L16.9 37.0L16.5 35.9L16.5 34.5L16.0 32.9L15.4 31.3L14.5 29.7L13.9 28.0L13.5 25.9L13.4 23.7L12.6 22.1L11.7 20.0L11.1 18.3L11.1 17.0L11.8 15.1L12.8 13.5L13.1 11.9L12.5 10.2L12.3 9.2L11.7 6.5L11.6 5.4L10.8 4.3L9.0 2.7L8.6 1.1L8.9 -0.5L9.1 -1.6L9.3 -3.2L9.0 -4.2L8.4 -4.9L6.7 -4.7L5.7 -4.6L4.8 -5.9L4.3 -6.8L2.9 -6.9L1.4 -6.7L0.0 -6.1L-1.9 -5.2L-2.9 -5.5L-4.3 -5.6L-5.7 -5.2L-7.1 -4.7L-8.6 -5.4L-10.0 -6.7L-10.9 -7.4L-11.9 -8.1L-12.5 -9.2L-12.8 -10.2L-13.9 -11.7L-14.7 -12.4L-15.8 -13.5L-15.9 -14.6L-16.5 -15.9L-15.5 -17.3L-15.3 -18.9L-15.0 -20.5L-15.4 -21.6L-15.9 -22.7L-15.7 -23.9L-14.9 -25.6L-13.9 -26.8L-13.4 -28.3L-12.3 -29.7L-11.8 -30.2L-10.1 -31.1L-9.2 -31.8L-8.9 -32.9L-8.9 -34.0L-8.3 -35.1L-7.2 -36.1L-6.1 -36.9L-5.4 -38.1zM46.7 12.9L47.6 16.7L46.5 18.9L45.9 21.0L44.7 24.3L43.6 27.0L42.1 27.5L40.8 27.0L40.3 24.3L41.4 22.1L41.3 19.4L41.9 17.5L43.8 16.7L45.4 14.6zM-5.0 -38.8L-5.6 -39.6L-6.6 -40.1L-7.9 -39.9L-7.8 -41.5L-8.4 -41.8L-7.7 -44.2L-7.7 -45.8L-7.9 -46.6L-6.9 -47.1L-5.2 -47.0L-3.0 -46.9L-1.6 -46.8L-1.1 -47.9L-1.0 -49.5L-1.9 -50.8L-3.6 -51.4L-3.9 -52.2L-2.5 -52.5L-1.3 -52.4L-1.5 -53.4L-0.9 -53.1L0.2 -53.2L1.2 -53.9L1.4 -54.8L2.9 -55.2L3.4 -56.0L3.9 -56.8L4.8 -57.3L5.6 -57.5L6.8 -57.7L7.0 -58.4L6.5 -59.4L6.4 -60.9L7.4 -61.1L8.2 -61.6L8.1 -60.4L8.5 -60.2L7.9 -59.4L7.7 -58.9L8.0 -58.4L8.8 -57.9L9.6 -58.1L10.8 -58.3L11.5 -57.8L12.8 -58.2L14.3 -58.7L15.0 -58.3L15.8 -58.3L16.7 -58.9L16.6 -59.9L16.6 -60.9L16.9 -61.5L17.6 -61.6L18.2 -60.9L19.0 -61.1L18.9 -62.2L18.1 -62.6L18.0 -63.2L19.1 -63.4L21.4 -63.4L23.0 -63.8L21.6 -64.4L19.7 -64.3L17.5 -63.8L16.3 -64.4L16.0 -65.4L16.0 -66.4L16.5 -67.3L17.8 -68.6L18.2 -69.2L17.2 -69.5L16.0 -69.4L15.5 -68.3L14.0 -67.1L13.0 -66.4L13.0 -64.9L13.3 -64.4L14.3 -63.9L13.8 -62.9L13.0 -62.4L12.8 -61.4L12.6 -60.2L11.4 -59.9L11.3 -59.3L10.3 -59.3L10.0 -60.1L9.2 -61.4L8.6 -62.9L8.1 -63.2L7.7 -62.9L6.2 -62.0L5.0 -62.0L4.2 -62.7L3.8 -63.9L3.7 -65.4L4.1 -66.1L5.2 -66.6L6.2 -67.3L7.3 -67.8L8.3 -68.8L9.0 -69.7L9.9 -70.9L10.5 -71.8L11.8 -72.5L13.0 -73.2L14.3 -73.6L15.9 -74.1L17.4 -74.4L18.9 -74.3L21.1 -73.7L20.6 -73.1L22.8 -72.8L24.9 -72.7L28.1 -71.4L29.3 -70.5L28.6 -69.8L26.4 -69.9L24.6 -70.2L23.0 -70.7L24.8 -69.2L25.3 -68.3L26.7 -67.8L27.6 -68.3L29.5 -68.3L28.8 -69.2L30.0 -70.1L31.4 -69.9L31.0 -71.1L30.3 -72.0L32.2 -71.6L32.7 -70.5L33.8 -71.2L35.0 -71.6L36.9 -72.0L38.1 -71.7L39.7 -72.1L40.9 -72.5L41.5 -73.2L44.2 -72.8L46.6 -72.2L47.9 -71.7L46.1 -72.9L45.3 -74.3L45.5 -75.6L46.0 -76.2L48.1 -75.6L49.0 -74.3L50.4 -72.5L51.0 -70.6L51.5 -69.9L52.2 -70.5L51.6 -72.0L49.7 -74.3L49.8 -75.6L52.0 -75.3L54.3 -75.0L56.1 -74.3L54.8 -75.6L52.7 -76.5L56.0 -76.9L55.8 -77.7L58.3 -78.4L61.6 -78.8L64.0 -80.0L66.8 -79.2L70.2 -79.0L72.3 -78.2L72.9 -76.9L70.9 -76.9L69.6 -76.3L71.8 -76.7L74.4 -76.5L78.5 -76.0L80.9 -76.5L82.5 -76.5L84.3 -75.6L87.3 -74.3L88.6 -74.3L89.4 -74.7L92.3 -74.5L92.9 -75.6L97.2 -75.4L100.8 -74.7L103.5 -74.3L106.9 -74.3L110.1 -73.0L112.1 -73.0L115.2 -73.3L118.1 -72.5L117.1 -73.4L120.9 -73.1L124.8 -72.4L130.3 -68.8L129.9 -68.3L131.8 -66.4L130.6 -65.9L129.7 -65.4L129.7 -63.9L126.7 -64.2L125.0 -63.7L126.1 -62.1L125.8 -61.7L128.6 -59.9L129.1 -58.7L129.2 -57.0L129.0 -55.8L128.7 -54.8L126.6 -56.3L124.4 -58.4L122.3 -60.4L121.9 -61.7L121.9 -63.4L122.3 -64.4L122.3 -65.7L122.2 -66.4L119.6 -65.7L117.7 -65.4L118.5 -63.4L116.7 -62.9L114.6 -63.5L111.1 -63.2L109.2 -63.1L108.8 -61.6L108.5 -59.9L107.8 -58.7L110.3 -57.9L111.7 -58.1L114.1 -57.0L114.9 -55.8L115.8 -54.3L117.2 -52.2L117.2 -50.1L116.5 -47.9L115.5 -46.1L113.9 -46.6L113.4 -45.6L113.3 -44.2L113.1 -43.5L112.2 -42.6L113.7 -41.5L115.2 -39.9L116.0 -38.3L115.9 -37.8L114.7 -37.4L113.8 -37.1L113.2 -38.8L112.8 -39.9L111.4 -40.8L110.6 -41.5L110.3 -42.6L109.2 -43.0L107.7 -42.1L107.3 -41.8L106.9 -43.7L105.8 -44.1L104.9 -42.3L103.9 -42.1L104.6 -41.0L105.8 -40.2L107.2 -40.8L109.0 -40.1L108.0 -39.4L107.2 -38.1L108.4 -37.0L109.7 -35.1L110.9 -34.0L111.1 -33.3L110.5 -32.9L111.7 -32.1L111.8 -30.5L111.2 -29.1L110.8 -27.5L109.5 -26.3L108.8 -25.4L107.6 -24.5L106.2 -24.2L105.4 -23.7L104.1 -23.2L103.2 -22.9L103.2 -21.9L102.4 -23.2L101.2 -23.4L100.0 -22.7L99.7 -21.6L99.2 -20.5L100.1 -18.9L101.2 -17.8L102.6 -16.5L103.3 -14.6L103.4 -12.9L102.3 -11.9L101.4 -11.2L101.0 -10.2L99.7 -9.4L99.4 -10.8L98.1 -11.4L97.0 -12.9L95.5 -13.7L95.0 -14.6L94.5 -14.3L94.5 -12.9L94.1 -11.3L94.4 -9.9L95.2 -9.0L95.5 -7.8L96.5 -7.3L97.3 -6.7L98.3 -5.4L98.4 -3.8L99.1 -2.2L99.3 -1.5L98.6 -1.4L97.6 -2.2L96.5 -3.1L95.9 -4.3L95.4 -5.9L94.8 -7.3L93.6 -8.6L93.3 -9.7L93.5 -11.3L93.4 -12.9L92.6 -15.1L91.9 -17.3L91.2 -18.3L90.0 -17.3L89.0 -17.5L88.5 -19.4L87.9 -21.0L86.4 -22.4L85.6 -24.1L84.3 -24.3L83.0 -23.7L81.2 -23.2L81.2 -22.1L80.1 -21.3L78.8 -20.0L77.4 -18.1L75.8 -17.0L75.7 -15.1L75.9 -13.5L75.6 -11.9L75.1 -11.1L74.5 -9.7L73.6 -8.7L72.6 -9.7L71.8 -12.4L70.7 -14.0L70.0 -16.2L68.9 -18.3L68.2 -20.5L67.9 -22.7L67.6 -23.5L67.3 -22.7L66.2 -22.4L64.3 -24.1L65.2 -24.6L63.7 -25.4L62.5 -26.4L61.8 -27.2L59.8 -27.3L57.0 -27.2L54.6 -27.5L52.9 -28.0L52.4 -29.1L50.8 -28.8L49.4 -28.9L47.9 -30.0L46.6 -31.3L45.7 -32.6L44.8 -32.8L43.9 -32.4L44.0 -31.3L44.9 -30.2L45.6 -29.3L46.4 -28.6L46.8 -27.5L47.3 -27.0L47.4 -28.0L47.9 -26.4L49.2 -26.1L50.6 -26.2L51.4 -27.5L52.0 -28.3L52.4 -26.8L53.4 -25.7L54.6 -25.4L55.7 -24.3L55.1 -22.7L54.2 -22.0L54.1 -20.5L53.1 -19.4L51.7 -18.3L49.4 -17.5L47.2 -16.2L45.3 -15.1L42.7 -13.9L41.1 -13.7L40.6 -14.9L40.2 -16.7L40.0 -18.3L38.6 -20.2L37.4 -21.9L36.4 -23.5L35.8 -25.4L34.5 -27.2L33.3 -28.6L32.2 -30.2L31.9 -31.8L31.6 -30.1L30.6 -30.7L29.8 -32.4L29.6 -33.7L31.0 -33.8L31.6 -34.7L32.0 -36.5L32.3 -38.3L32.3 -39.6L31.2 -39.5L29.9 -39.1L28.6 -39.4L27.2 -39.4L25.9 -39.3L24.5 -39.9L23.9 -41.2L23.4 -42.4L23.1 -43.2L24.1 -43.6L25.4 -43.7L25.3 -44.3L27.1 -44.4L28.7 -45.3L30.4 -45.3L31.8 -44.5L33.6 -44.2L34.9 -44.2L36.2 -44.7L36.0 -45.8L34.5 -46.9L33.0 -47.8L31.8 -48.5L32.2 -50.1L32.9 -50.8L31.6 -50.6L30.0 -50.1L29.8 -49.1L31.1 -48.8L30.3 -48.5L29.1 -47.8L28.5 -48.5L27.7 -48.9L28.4 -49.6L27.1 -50.1L26.1 -50.1L25.3 -48.8L24.7 -47.4L24.2 -46.3L24.0 -45.8L24.4 -45.1L25.3 -44.4L24.3 -44.2L23.2 -43.7L22.7 -44.0L21.4 -44.0L20.9 -43.1L19.9 -43.7L20.1 -42.6L20.6 -41.8L21.3 -41.0L20.4 -40.8L20.7 -39.4L20.0 -39.4L19.3 -39.7L18.8 -40.8L18.5 -42.1L17.6 -42.8L17.0 -43.7L17.0 -45.0L16.0 -45.8L14.7 -46.6L13.3 -47.4L12.4 -48.7L11.7 -49.1L10.5 -48.8L10.6 -47.7L11.7 -46.9L12.3 -45.7L13.7 -45.2L14.1 -45.0L15.8 -43.8L16.2 -43.2L14.9 -43.7L14.6 -42.8L15.1 -42.1L14.6 -41.4L13.9 -41.0L14.1 -41.8L13.8 -43.1L12.7 -43.9L11.3 -44.5L10.4 -45.2L9.5 -45.8L8.9 -46.9L8.4 -47.5L7.5 -47.8L6.4 -47.2L5.6 -46.6L4.3 -46.8L3.4 -46.9L2.7 -46.3L2.8 -45.2L1.7 -44.5L0.7 -44.0L0.0 -42.8L-0.3 -42.4L0.2 -41.8L-0.5 -41.0L-1.4 -40.2L-2.0 -39.7L-3.9 -39.6zM-124.8 -72.4L-123.7 -71.7L-122.6 -70.6L-121.8 -69.7L-125.5 -68.3L-126.9 -68.6L-128.2 -69.2L-130.3 -68.8zM-4.7 -53.8L-2.9 -54.0L-0.8 -54.5L1.1 -55.0L1.4 -56.5L0.2 -56.8L-0.2 -57.9L-1.2 -58.9L-1.6 -59.9L-1.9 -61.4L-1.4 -61.5L-2.7 -61.6L-2.3 -62.5L-3.9 -62.5L-4.7 -61.4L-4.3 -59.9L-3.8 -58.9L-2.5 -58.8L-2.4 -57.4L-3.6 -57.2L-3.7 -55.8L-4.2 -55.6L-2.9 -55.2L-3.7 -54.8zM-8.2 -55.6L-5.1 -56.0L-4.8 -57.4L-4.5 -58.4L-5.2 -59.1L-6.5 -59.1L-8.0 -58.1L-7.7 -56.8zM-17.3 -69.2L-15.7 -70.1L-12.9 -69.9L-11.4 -70.2L-10.1 -69.2L-10.2 -68.3L-12.5 -67.4L-14.7 -67.3L-16.5 -67.7L-16.0 -68.5zM6.6 -81.4L8.9 -81.7L9.9 -81.8L10.9 -81.8L11.9 -81.9L13.0 -81.9L16.0 -81.7L14.6 -80.6L11.8 -79.4L10.0 -79.2L8.6 -79.8L6.7 -80.6zM34.8 -74.3L35.0 -76.0L35.9 -77.7L38.4 -78.8L39.4 -79.0L40.3 -79.1L41.3 -79.3L42.3 -79.4L42.3 -78.6L41.4 -78.4L40.4 -78.2L39.5 -78.0L38.5 -77.7L37.3 -76.5L37.4 -75.2L38.7 -74.0L36.6 -74.1zM57.2 -81.0L58.4 -82.3L63.2 -81.0L63.0 -80.2L60.6 -80.2zM28.3 -81.9L29.2 -82.1L30.2 -82.2L31.1 -82.3L32.0 -82.4L33.1 -82.4L34.1 -82.4L35.2 -82.3L36.2 -82.3L34.3 -81.7L33.1 -81.7L32.0 -81.7L30.8 -81.7L29.6 -81.7zM87.2 -78.2L88.3 -78.3L89.4 -78.4L90.5 -78.5L91.6 -78.6L96.2 -77.7L95.4 -77.6L94.5 -77.4L93.7 -77.2L92.8 -77.1L89.2 -77.3zM120.0 -74.7L121.0 -74.7L122.1 -74.1L121.0 -74.1zM-121.0 -74.7L-119.6 -74.5L-120.2 -74.2L-122.1 -74.1zM113.6 -58.2L115.6 -56.8L117.6 -54.8L118.8 -53.0L121.0 -50.6L120.5 -49.5L119.0 -51.6L117.3 -53.7L115.5 -55.8zM122.0 -44.7L121.2 -46.3L120.7 -48.9L122.5 -47.9L125.3 -46.7L124.7 -45.3L122.6 -45.8zM123.4 -44.5L125.0 -42.6L125.0 -41.0L125.9 -38.8L125.6 -38.1L124.8 -37.4L123.2 -37.3L122.7 -36.1L121.5 -37.2L119.8 -37.0L118.1 -36.7L117.9 -37.3L118.8 -38.3L120.9 -38.5L121.8 -39.4L122.0 -40.5L123.1 -40.5L123.4 -41.5L122.9 -43.1L122.3 -44.4zM117.5 -36.1L118.8 -36.2L119.9 -34.0L118.9 -33.7L117.6 -35.4zM119.5 -36.6L121.1 -37.0L121.3 -35.9L120.5 -35.4zM112.1 -27.2L113.1 -27.0L112.7 -23.7L111.9 -24.8zM101.9 -20.7L103.4 -21.7L104.0 -21.0L102.8 -19.6zM112.9 -20.0L114.6 -20.0L114.8 -17.8L114.6 -16.2L116.2 -14.9L117.3 -13.8L115.8 -14.6L114.3 -14.8L113.5 -16.0L112.8 -17.3zM116.0 -7.6L117.3 -9.3L119.0 -10.6L120.2 -8.6L119.8 -6.8L119.2 -6.3L117.9 -7.0L117.3 -8.1zM115.5 -12.7L117.0 -12.4L118.7 -13.5L119.1 -11.9L118.4 -10.8L117.2 -10.2L116.2 -10.6L115.7 -11.3zM111.4 -9.2L113.2 -12.2L113.6 -11.3L112.0 -9.2zM103.8 -1.6L104.8 -1.9L106.0 -2.7L107.6 -3.5L108.5 -4.9L109.9 -5.9L111.0 -7.6L112.0 -6.8L113.2 -5.6L112.3 -4.6L112.1 -3.2L112.4 -2.2L113.4 -1.1L112.2 -0.9L111.9 0.5L111.0 1.6L110.7 3.2L110.4 4.3L109.0 4.3L108.1 3.6L106.4 3.6L104.9 3.0L104.8 1.6L103.8 0.3zM90.6 -6.0L92.8 -5.6L94.0 -4.0L95.7 -2.4L97.2 -1.1L98.6 0.0L99.5 1.6L100.9 3.2L100.6 6.3L99.4 6.3L97.4 4.3L96.2 2.7L95.5 1.1L94.3 -0.5L93.8 -1.9L92.4 -3.5zM100.0 7.2L101.3 6.5L103.2 7.0L105.3 6.9L107.1 7.4L108.8 8.4L108.6 9.4L106.4 9.0L103.5 8.4L101.2 8.0zM109.2 8.8L111.1 8.8L113.0 9.0L114.9 9.1L116.8 9.0L116.8 9.6L113.9 9.7L111.1 9.7L109.2 9.5zM117.1 11.1L118.6 9.7L120.8 9.1L120.0 9.9L118.0 11.1zM114.1 -0.9L115.1 -1.4L117.2 -1.0L119.1 -1.7L118.1 -0.4L115.3 -0.4L114.6 1.0L115.7 1.0L117.5 1.0L116.2 1.9L115.7 3.0L116.9 4.9L116.3 5.4L115.2 3.6L115.0 2.9L114.5 5.2L114.5 6.0L113.7 5.9L113.8 3.8L113.1 2.9L113.8 1.1zM121.4 -2.2L122.4 -1.6L122.2 0.0L121.9 0.9L121.5 -0.5zM121.9 3.2L124.5 3.2L124.2 4.0L121.9 3.8zM124.8 0.9L127.7 0.9L128.5 3.6L131.0 1.6L134.3 2.8L137.6 4.1L140.3 6.5L139.9 7.6L141.0 9.2L142.7 11.3L139.9 10.8L137.3 8.3L135.7 9.9L133.8 9.8L131.1 9.0L131.7 7.0L129.4 5.0L127.1 4.3L126.2 3.0zM141.3 5.9L143.7 5.4L145.0 4.5L144.6 5.9L142.6 6.7zM75.7 -10.5L77.1 -9.2L77.7 -7.6L77.0 -6.7L76.1 -6.5L75.7 -8.6zM135.1 11.5L135.8 13.5L135.5 15.4L137.1 16.2L137.2 18.9L137.1 20.5L139.0 21.6L139.4 23.7L140.2 25.4L141.4 27.0L141.5 28.6L141.0 30.7L139.5 33.4L137.9 35.4L136.3 36.7L134.9 38.3L133.5 40.1L131.3 40.9L129.3 42.1L128.4 41.3L126.8 41.8L125.3 41.3L124.4 40.5L124.8 38.8L124.1 38.3L124.3 37.0L123.4 38.0L123.5 36.7L124.9 35.3L122.3 37.5L121.8 37.2L121.4 35.4L119.9 34.5L117.4 34.1L114.4 34.8L112.2 35.6L111.4 36.6L108.3 36.6L106.0 37.8L104.3 37.5L103.6 37.0L105.1 34.5L105.2 32.4L105.2 30.2L104.9 28.4L105.3 26.4L106.0 24.3L106.5 23.5L108.4 22.4L110.4 21.9L111.8 21.6L113.8 20.8L114.8 19.4L115.0 18.3L116.1 18.7L116.7 17.6L117.9 16.5L119.5 15.1L120.8 16.0L122.2 16.1L122.4 14.6L123.5 13.5L125.0 12.3L125.9 12.7L127.8 13.2L129.5 13.2L128.5 14.6L127.8 16.2L129.1 17.0L130.7 18.3L132.0 19.0L133.1 17.3L133.6 15.1L134.1 13.5zM126.6 43.9L127.9 44.3L129.6 44.1L128.2 45.8L126.6 46.9L125.8 46.9L126.0 45.5zM155.5 37.1L156.0 39.1L156.7 39.7L156.6 40.8L158.5 40.7L156.7 42.3L155.8 42.6L154.2 44.2L152.5 44.7L153.8 43.1L153.1 42.4L154.9 41.0L155.4 39.9L155.4 37.8zM151.3 43.7L152.0 44.4L151.2 45.3L149.3 46.6L148.5 47.3L146.8 47.8L145.1 49.4L143.3 50.2L142.1 50.1L141.3 49.5L143.2 48.3L145.4 47.1L148.3 45.6L150.4 44.0zM153.4 21.8L154.6 22.7L155.7 24.1L154.8 23.7L153.5 22.4zM-54.6 -71.6L-52.4 -71.7L-52.6 -70.9L-54.4 -70.8zM-53.2 -76.3L-50.4 -76.6L-50.3 -75.9L-53.0 -75.7zM-61.9 -77.7L-59.8 -77.9L-60.3 -77.4L-61.9 -77.4zM-57.9 -80.4L-54.6 -80.6L-51.9 -81.4L-52.4 -82.4L-54.5 -82.6L-56.8 -81.7zM-64.0 -80.4L-61.2 -80.2L-59.6 -81.0L-61.7 -81.2zM-60.0 -80.2L-58.9 -80.0L-58.0 -80.8L-59.2 -80.8zM-68.9 -80.4L-67.1 -80.4L-66.4 -80.8L-68.2 -80.8zM-70.1 -79.6L-68.1 -79.6L-67.4 -80.1L-69.3 -80.1zM-63.6 -79.8L-61.7 -79.8L-61.2 -80.2L-63.0 -80.2zM-69.6 -76.3L-68.5 -76.5L-68.9 -76.0L-69.7 -75.9zM-61.5 -66.6L-59.2 -66.6L-59.5 -66.2L-61.8 -66.2zM-59.9 -66.2L-59.1 -66.1L-59.6 -65.5L-60.3 -65.6zM-66.3 -56.9L-65.0 -56.9L-65.2 -56.6L-66.4 -56.6zM-53.4 -53.6L-51.4 -53.2L-51.4 -52.8L-53.4 -53.2zM-54.3 -50.5L-52.5 -50.1L-52.9 -49.5L-54.4 -49.8zM-37.5 -73.7L-35.5 -73.7L-35.9 -72.8L-37.6 -72.8zM-126.9 -64.2L-125.8 -64.2L-126.4 -63.7L-127.5 -63.7zM-126.0 -67.5L-124.3 -67.1L-125.0 -66.8L-126.3 -67.1zM33.3 -72.9L34.5 -72.8L34.4 -72.2L33.7 -72.3zM39.9 -73.7L41.3 -73.4L40.9 -73.0L40.1 -73.2zM60.0 -81.1L63.4 -80.8L63.6 -80.2L60.9 -80.4zM86.6 -78.6L88.2 -78.7L91.0 -78.2L90.2 -77.5L88.2 -77.7zM91.2 -76.8L93.6 -76.7L94.1 -76.2L92.0 -76.3zM125.2 -63.1L126.3 -62.9L126.7 -62.3L125.9 -62.5zM14.1 -61.8L14.9 -61.8L14.7 -60.8L14.1 -61.0zM8.7 -59.8L9.9 -59.9L9.9 -58.9L8.7 -59.0zM7.2 -44.4L8.5 -44.4L8.6 -42.2L7.4 -42.1zM7.4 -46.3L8.2 -46.3L8.3 -44.6L7.6 -44.7zM11.0 -41.1L13.8 -41.3L13.6 -39.6L11.1 -40.6zM21.1 -38.4L23.6 -38.1L23.5 -37.8L21.1 -38.0zM29.0 -37.9L31.0 -38.5L30.6 -37.7L29.2 -37.3zM50.4 -13.7L51.6 -13.6L51.6 -13.3L50.4 -13.3zM117.8 8.8L118.7 8.7L118.7 9.1L117.7 9.2zM112.9 10.1L114.6 10.5L114.5 11.1L112.9 10.6zM120.0 3.3L121.1 3.5L121.1 4.1L119.9 3.9zM100.2 1.7L101.6 2.2L101.6 3.2L100.5 2.4zM143.5 2.8L145.2 3.8L145.6 5.0L144.9 4.0zM147.1 5.8L148.1 6.7L148.1 7.4L147.2 6.5zM122.4 38.4L123.6 38.5L123.4 38.8L122.2 38.8zM123.4 12.2L124.6 12.2L124.5 12.7L123.4 12.7zM-64.5 45.1L-63.9 45.1L-63.4 46.8L-64.2 46.6zM-57.1 56.5L-55.6 56.4L-52.3 58.5L-54.5 58.9L-57.0 57.9zM37.3 6.3L37.7 6.3L37.6 6.9L37.3 6.9zM-109.3 80.6L-99.7 80.8L-96.2 80.4L-92.1 80.0L-87.6 79.1L-82.1 78.6L-76.4 78.2L-69.7 78.4L-65.2 77.9L-65.1 76.9L-58.7 76.7L-52.0 76.9L-49.5 76.0L-47.6 73.8L-47.6 71.6L-46.6 69.7L-45.1 68.3L-42.7 67.1L-41.7 67.8L-43.2 69.2L-43.2 70.6L-42.3 72.5L-40.4 75.2L-39.4 77.3L-36.6 78.6L-30.9 79.8L-27.5 80.2L-22.0 80.2L-17.7 78.6L-13.1 76.5L-10.0 75.6L-6.8 74.3L0.0 73.4L6.8 73.4L13.7 73.4L20.7 72.8L24.2 72.5L27.9 72.0L31.6 71.3L35.6 70.2L39.3 69.9L42.4 70.9L45.7 71.3L48.9 71.8L49.6 72.9L51.7 72.9L54.6 71.6L60.5 70.2L64.1 70.2L68.0 69.7L71.8 69.5L75.0 69.9L78.8 69.7L81.9 70.2L85.3 70.4L89.2 70.0L93.1 69.7L96.7 69.7L99.5 70.4L102.7 70.6L104.7 71.8L107.4 72.5L109.3 73.6L111.9 74.1L114.3 74.7L112.8 76.0L107.1 77.7L101.8 79.8L104.0 80.2L110.2 80.2M41.5 -50.1L43.5 -50.4L44.8 -50.1L45.3 -48.5L43.7 -47.9L43.6 -46.3L45.6 -45.3L46.9 -43.7L46.8 -42.1L48.0 -40.5L46.4 -39.7L44.5 -40.2L43.3 -41.5L43.4 -43.5L41.7 -45.3L40.5 -46.9L40.6 -48.5zM49.5 -50.1L51.6 -50.1L52.5 -48.5L51.6 -47.1L50.1 -47.9zM85.1 -55.3L86.0 -56.3L87.0 -57.9L86.8 -59.6L86.4 -59.4L86.6 -57.4L86.0 -55.8zM62.6 -50.1L64.2 -50.4L66.8 -50.1L64.4 -49.7zM30.5 -0.3L32.4 -0.3L32.4 2.2L30.9 3.0L30.3 1.1zM27.9 3.8L28.4 5.4L29.3 8.6L28.8 9.2L27.8 5.9zM32.3 10.5L32.9 12.4L33.1 15.1L32.6 15.1L32.2 12.4zM-77.7 -50.4L-74.6 -51.6L-72.3 -51.1L-71.5 -50.4L-73.6 -50.1L-76.1 -50.3zM-76.3 -45.3L-74.9 -46.9L-73.2 -49.0L-72.2 -49.3L-74.3 -46.9L-75.4 -45.3zM-71.7 -49.5L-69.6 -49.5L-68.3 -48.5L-69.8 -47.9L-70.8 -46.6L-71.4 -47.2L-71.3 -48.5zM-72.5 -45.0L-70.2 -45.8L-68.3 -46.1L-68.4 -45.8L-71.0 -44.7zM-68.7 -46.7L-67.1 -47.1L-65.5 -47.4L-65.9 -46.9L-67.7 -46.7zM-79.6 -57.6L-78.8 -56.8L-79.5 -54.3L-80.1 -54.3L-79.9 -56.1zM-88.8 -69.7L-85.7 -70.6L-84.1 -70.2L-86.2 -69.0L-88.5 -68.9zM-88.2 -64.9L-84.8 -66.2L-81.4 -66.6L-83.4 -65.7L-86.8 -64.8zM23.2 -64.1L24.4 -65.4L25.0 -64.4L24.0 -63.9zM-146.3 -21.4l1.4 0.6M-146.9 -22.7l1.4 0.6M-148.1 -23.4l1.4 0.6M-87.4 0.3l1.4 0.6M-163.2 14.5l1.4 0.6M-141.2 18.7l1.4 0.6M166.5 18.9l1.4 0.6M168.1 17.5l1.4 0.6M156.3 16.2l1.4 0.6M157.4 18.8l1.4 0.6M151.1 9.9l1.4 0.6M150.3 8.3l1.4 0.6M152.4 10.9l1.4 0.6M148.5 7.8l1.4 0.6M-152.3 47.1l1.4 0.6M-23.3 -41.1l1.4 0.6M-25.5 -41.8l1.4 0.6M-15.9 -30.8l1.4 0.6M-13.6 -31.0l1.4 0.6M-30.3 57.9l1.4 0.6M-35.1 64.3l1.4 0.6M-45.3 66.1l1.4 0.6M53.1 21.6l1.4 0.6M51.1 22.5l1.4 0.6M57.5 52.7l1.4 0.6M40.3 12.3l1.4 0.6M87.3 -13.2l1.4 0.6M87.4 -10.2l1.4 0.6M-6.1 -74.6l1.4 0.6M11.6 -77.5l1.4 0.6M117.4 -28.9l1.4 0.6M118.4 -30.8l1.4 0.6M-58.3 -15.9l1.4 0.6M-58.5 -16.9l1.4 0.6M-58.6 -17.8l1.4 0.6M-145.8 -56.1l1.4 0.6M-144.8 -55.9l1.4 0.6M-142.3 -56.3l1.4 0.6M-139.5 -56.6l1.4 0.6M-137.6 -56.9l1.4 0.6M-136.2 -57.5l1.4 0.6M-134.5 -58.0l1.4 0.6M139.3 -57.0l1.4 0.6M143.9 -56.1l1.4 0.6M146.2 -55.5l1.4 0.6M131.4 -59.2l1.4 0.6M-133.6 -61.4l1.4 0.6M126.2 -50.4l1.4 0.6M127.5 -51.4l1.4 0.6M127.5 -53.5l1.4 0.6M125.4 -48.6l1.4 0.6M124.6 -47.9l1.4 0.6M127.7 -54.7l1.4 0.6"/><path id="frame" fill="none" stroke="#000" stroke-width="0.75" d="M91.3 87.0L95.2 85.9L99.9 84.3L105.1 82.3L110.5 80.0L115.9 77.5L120.7 74.9L125.2 72.2L129.5 69.3L133.6 66.4L137.6 63.4L141.5 60.4L145.1 57.2L148.5 54.1L151.6 50.9L154.4 47.7L157.1 44.4L159.5 41.1L161.6 37.8L163.5 34.6L165.2 31.3L166.5 28.0L167.6 24.7L168.5 21.4L169.3 18.1L170.1 14.8L170.6 11.5L171.0 8.2L171.3 4.9L171.5 1.6L171.5 -1.6L171.3 -4.9L171.0 -8.2L170.6 -11.5L170.1 -14.8L169.3 -18.1L168.5 -21.4L167.6 -24.7L166.5 -28.0L165.2 -31.3L163.5 -34.6L161.6 -37.8L159.5 -41.1L157.1 -44.4L154.4 -47.7L151.6 -50.9L148.5 -54.1L145.1 -57.2L141.5 -60.4L137.6 -63.4L133.6 -66.4L129.5 -69.3L125.2 -72.2L120.7 -74.9L115.9 -77.5L110.5 -80.0L105.1 -82.3L99.9 -84.3L95.2 -85.9L91.3 -87.0L-91.3 -87.0L-95.2 -85.9L-99.9 -84.3L-105.1 -82.3L-110.5 -80.0L-115.9 -77.5L-120.7 -74.9L-125.2 -72.2L-129.5 -69.3L-133.6 -66.4L-137.6 -63.4L-141.5 -60.4L-145.1 -57.2L-148.5 -54.1L-151.6 -50.9L-154.4 -47.7L-157.1 -44.4L-159.5 -41.1L-161.6 -37.8L-163.5 -34.6L-165.2 -31.3L-166.5 -28.0L-167.6 -24.7L-168.5 -21.4L-169.3 -18.1L-170.1 -14.8L-170.6 -11.5L-171.0 -8.2L-171.3 -4.9L-171.5 -1.6L-171.5 1.6L-171.3 4.9L-171.0 8.2L-170.6 11.5L-170.1 14.8L-169.3 18.1L-168.5 21.4L-167.6 24.7L-166.5 28.0L-165.2 31.3L-163.5 34.6L-161.6 37.8L-159.5 41.1L-157.1 44.4L-154.4 47.7L-151.6 50.9L-148.5 54.1L-145.1 57.2L-141.5 60.4L-137.6 63.4L-133.6 66.4L-129.5 69.3L-125.2 72.2L-120.7 74.9L-115.9 77.5L-110.5 80.0L-105.1 82.3L-99.9 84.3L-95.2 85.9L-91.3 87.0z"/></defs>
<g transform="translate(175.0 220.4)"><g clip-path="url(#fc)"><g clip-path="url(#lc)"><g id="som"><path fill="#4010F0" d="M128.9 -55.1H133.3V-52.8H128.9zM129.0 -62.8H131.2V-60.6H129.0zM117.2 -64.7H119.4V-62.5H117.2z"/>
<path fill="#3C5FE1" d="M90.5 86.6H91.4V87.1H90.5zM-91.4 86.6H90.8V87.1H-91.4zM92.9 85.9H93.8V86.8H92.9zM-93.8 85.9H93.1V86.8H-93.8zM95.5 84.9H96.4V86.1H95.5zM-96.4 84.9H95.7V86.1H-96.4zM98.4 83.9H99.3V85.2H98.4zM-99.3 83.9H98.6V85.2H-99.3zM101.5 82.6H102.5V84.1H101.5zM-102.5 82.6H101.7V84.1H-102.5zM104.8 81.3H105.7V82.9H104.8zM-105.7 81.3H105.0V82.9H-105.7zM108.1 79.8H109.1V81.5H108.1zM-109.1 79.8H108.4V81.5H-109.1zM111.5 78.3H112.6V80.1H111.5zM-112.6 78.3H111.8V80.1H-112.6zM-95.7 76.7H-31.2V78.5H-95.7zM-21.8 76.7H110.2V78.5H-21.8zM-81.8 75.0H-76.6V76.9H-81.8zM-71.9 75.0H-37.0V76.9H-71.9zM-19.1 75.0H114.8V76.9H-19.1zM-53.4 73.4H-37.9V75.3H-53.4zM-14.5 73.4H117.6V75.3H-14.5zM-51.1 71.6H-38.8V73.6H-51.1zM-9.6 71.6H118.5V73.6H-9.6zM-50.5 69.9H-39.6V71.9H-50.5zM14.9 69.9H112.3V71.9H14.9zM-49.7 68.1H-38.6V70.1H-49.7zM29.6 68.1H49.7V70.1H29.6zM54.9 68.1H107.4V70.1H54.9zM-48.8 66.3H-39.4V68.3H-48.8zM68.8 66.3H81.9V68.3H68.8zM92.7 66.3H100.3V68.3H92.7zM-46.0 64.4H-42.0V66.5H-46.0zM-55.4 60.6H-51.3V62.8H-55.4zM-56.4 58.7H-50.2V60.9H-56.4zM-57.3 56.8H-45.0V59.0H-57.3zM-64.2 54.8H-62.0V57.0H-64.2zM-56.1 54.8H-43.6V57.0H-56.1zM-54.8 52.8H-52.5V55.1H-54.8zM-50.7 52.8H-46.3V55.1H-50.7zM-59.7 50.9H-51.1V53.1H-59.7zM138.9 50.9H141.3V53.1H138.9zM-56.2 48.8H-51.7V51.1H-56.2zM-56.8 46.8H-52.3V49.1H-56.8zM123.0 46.8H127.5V49.1H123.0zM142.2 46.8H144.6V49.1H142.2zM-59.6 44.8H-52.9V47.1H-59.6zM122.2 44.8H124.6V47.1H122.2zM128.7 44.8H131.1V47.1H128.7zM143.8 44.8H146.2V47.1H143.8zM-60.3 42.8H-49.1V45.1H-60.3zM123.4 42.8H125.9V45.1H123.4zM130.0 42.8H132.4V45.1H130.0zM-60.8 40.8H-47.3V43.0H-60.8zM122.4 40.8H129.3V43.0H122.4zM159.1 38.7H160.5V41.0H159.1zM-160.5 38.7H-159.1V41.0H-160.5zM-63.6 38.7H-47.8V41.0H-63.6zM16.6 38.7H21.3V41.0H16.6zM101.2 38.7H108.1V41.0H101.2zM119.0 38.7H128.2V41.0H119.0zM160.4 36.7H161.8V39.0H160.4zM-161.8 36.7H-160.4V39.0H-161.8zM-68.6 36.7H-45.9V39.0H-68.6zM14.5 36.7H25.9V39.0H14.5zM99.8 36.7H113.5V39.0H99.8zM117.7 36.7H133.7V39.0H117.7zM135.7 36.7H138.2V39.0H135.7zM153.7 36.7H160.6V39.0H153.7zM-66.8 34.6H-64.3V36.9H-66.8zM-62.3 34.6H-50.8V36.9H-62.3zM-48.7 34.6H-44.0V36.9H-48.7zM12.3 34.6H28.4V36.9H12.3zM100.5 34.6H141.5V36.9H100.5zM-69.6 32.6H-67.1V34.9H-69.6zM-62.7 32.6H-55.7V34.9H-62.7zM-53.6 32.6H-51.1V34.9H-53.6zM-49.1 32.6H-42.0V34.9H-49.1zM12.4 32.6H30.9V34.9H12.4zM101.2 32.6H137.9V34.9H101.2zM139.9 32.6H142.4V34.9H139.9zM-70.0 30.5H-67.5V32.8H-70.0zM-65.4 30.5H-51.4V32.8H-65.4zM-47.1 30.5H-42.3V32.8H-47.1zM12.5 30.5H21.9V32.8H12.5zM23.9 30.5H31.1V32.8H23.9zM101.8 30.5H138.7V32.8H101.8zM-68.1 28.5H-58.6V30.8H-68.1zM-45.0 28.5H-40.2V30.8H-45.0zM10.2 28.5H33.5V30.8H10.2zM40.2 28.5H42.7V30.8H40.2zM102.4 28.5H139.5V30.8H102.4zM141.6 28.5H144.1V30.8H141.6zM-68.4 26.5H-65.8V28.7H-68.4zM-42.9 26.5H-38.1V28.7H-42.9zM10.3 26.5H36.0V28.7H10.3zM38.1 26.5H40.6V28.7H38.1zM45.0 26.5H47.6V28.7H45.0zM102.9 26.5H140.2V28.7H102.9zM142.2 26.5H144.8V28.7H142.2zM-68.7 24.4H-63.8V26.7H-68.7zM-45.4 24.4H-42.9V26.7H-45.4zM-40.8 24.4H-35.9V26.7H-40.8zM10.3 24.4H43.1V26.7H10.3zM103.3 24.4H140.7V26.7H103.3zM-64.3 22.4H-61.7V24.6H-64.3zM-43.3 22.4H-33.7V24.6H-43.3zM10.4 22.4H29.3V24.6H10.4zM33.7 22.4H43.3V24.6H33.7zM45.4 22.4H47.9V24.6H45.4zM103.7 22.4H141.2V24.6H103.7zM155.0 22.4H157.5V24.6H155.0zM-43.4 20.3H-33.8V22.6H-43.4zM8.1 20.3H29.4V22.6H8.1zM33.8 20.3H36.4V22.6H33.8zM38.5 20.3H41.1V22.6H38.5zM47.8 20.3H50.4V22.6H47.8zM106.3 20.3H141.7V22.6H106.3zM150.8 20.3H155.7V22.6H150.8zM-71.7 18.3H-66.8V20.6H-71.7zM-43.5 18.3H-33.9V20.6H-43.5zM8.1 18.3H29.5V20.6H8.1zM33.9 18.3H43.5V20.6H33.9zM48.0 18.3H50.6V20.6H48.0zM109.0 18.3H139.8V20.6H109.0zM-74.3 16.2H-69.3V18.5H-74.3zM-43.7 16.2H-34.0V18.5H-43.7zM8.1 16.2H29.6V18.5H8.1zM31.7 16.2H43.7V18.5H31.7zM45.8 16.2H50.7V18.5H45.8zM114.1 16.2H140.2V18.5H114.1zM-74.5 14.2H-69.5V16.5H-74.5zM-46.2 14.2H-34.1V16.5H-46.2zM8.1 14.2H43.8V16.5H8.1zM48.3 14.2H50.9V16.5H48.3zM114.4 14.2H140.6V16.5H114.4zM-77.0 12.1H-74.4V14.4H-77.0zM-46.3 12.1H-31.8V14.4H-46.3zM8.2 12.1H43.9V14.4H8.2zM46.0 12.1H51.0V14.4H46.0zM112.3 12.1H114.9V14.4H112.3zM117.0 12.1H143.2V14.4H117.0zM-77.1 10.1H-72.2V12.4H-77.1zM-41.6 10.1H-29.5V12.4H-41.6zM8.2 10.1H27.4V12.4H8.2zM31.9 10.1H41.6V12.4H31.9zM43.7 10.1H48.7V12.4H43.7zM103.0 10.1H145.9V12.4H103.0zM-79.6 8.1H-74.7V10.3H-79.6zM-44.0 8.1H-29.6V10.3H-44.0zM8.2 8.1H13.2V10.3H8.2zM15.3 8.1H17.9V10.3H15.3zM31.9 8.1H41.7V10.3H31.9zM98.4 8.1H110.5V10.3H98.4zM115.0 8.1H124.7V10.3H115.0zM129.2 8.1H131.9V10.3H129.2zM134.0 8.1H136.6V10.3H134.0zM141.1 8.1H148.5V10.3H141.1zM-79.7 6.0H-77.1V8.3H-79.7zM-58.3 6.0H-55.7V8.3H-58.3zM-41.7 6.0H-29.6V8.3H-41.7zM8.2 6.0H15.6V8.3H8.2zM20.1 6.0H22.7V8.3H20.1zM24.8 6.0H29.8V8.3H24.8zM32.0 6.0H41.7V8.3H32.0zM96.1 6.0H98.8V8.3H96.1zM103.3 6.0H108.3V8.3H103.3zM138.9 6.0H141.5V8.3H138.9zM143.7 6.0H146.3V8.3H143.7zM148.4 6.0H151.0V8.3H148.4zM-79.8 4.0H-77.2V6.3H-79.8zM-60.8 4.0H-58.2V6.3H-60.8zM-44.1 4.0H-29.6V6.3H-44.1zM8.2 4.0H10.8V6.3H8.2zM34.4 4.0H41.8V6.3H34.4zM96.2 4.0H98.8V6.3H96.2zM112.9 4.0H115.5V6.3H112.9zM143.8 4.0H148.8V6.3H143.8zM-70.3 1.9H-67.7V4.2H-70.3zM-58.4 1.9H-55.8V4.2H-58.4zM-46.5 1.9H-43.9V4.2H-46.5zM-41.8 1.9H-32.0V4.2H-41.8zM5.8 1.9H10.8V4.2H5.8zM32.0 1.9H41.8V4.2H32.0zM113.0 1.9H115.6V4.2H113.0zM129.6 1.9H132.2V4.2H129.6zM141.5 1.9H148.9V4.2H141.5zM-46.6 -0.1H-36.8V2.2H-46.6zM5.8 -0.1H8.5V2.2H5.8zM27.3 -0.1H29.9V2.2H27.3zM34.4 -0.1H44.2V2.2H34.4zM91.6 -0.1H94.2V2.2H91.6zM124.9 -0.1H132.3V2.2H124.9zM144.0 -0.1H146.6V2.2H144.0zM-44.2 -2.2H-41.6V0.1H-44.2zM5.8 -2.2H8.5V0.1H5.8zM13.0 -2.2H15.6V0.1H13.0zM32.0 -2.2H46.6V0.1H32.0zM124.9 -2.2H132.3V0.1H124.9zM-10.8 -4.2H1.3V-1.9H-10.8zM3.5 -4.2H13.2V-1.9H3.5zM24.9 -4.2H27.5V-1.9H24.9zM29.6 -4.2H48.9V-1.9H29.6zM113.0 -4.2H115.6V-1.9H113.0zM-77.4 -6.3H-74.8V-4.0H-77.4zM-56.0 -6.3H-53.4V-4.0H-56.0zM-13.2 -6.3H-8.2V-4.0H-13.2zM-6.1 -6.3H-1.1V-4.0H-6.1zM20.1 -6.3H22.7V-4.0H20.1zM24.9 -6.3H32.2V-4.0H24.9zM34.4 -6.3H48.9V-4.0H34.4zM74.8 -6.3H79.8V-4.0H74.8zM86.7 -6.3H96.5V-4.0H86.7zM-82.1 -8.3H-79.5V-6.0H-82.1zM-56.0 -8.3H-48.6V-6.0H-56.0zM-15.6 -8.3H-13.0V-6.0H-15.6zM-10.8 -8.3H-8.2V-6.0H-10.8zM17.7 -8.3H22.7V-6.0H17.7zM24.8 -8.3H32.2V-6.0H24.8zM36.7 -8.3H51.2V-6.0H36.7zM74.7 -8.3H82.1V-6.0H74.7zM89.0 -8.3H94.0V-6.0H89.0zM117.5 -8.3H122.5V-6.0H117.5zM-65.4 -10.3H-50.9V-8.1H-65.4zM-15.5 -10.3H-10.6V-8.1H-15.5zM-6.1 -10.3H-3.4V-8.1H-6.1zM-1.3 -10.3H3.7V-8.1H-1.3zM5.8 -10.3H29.8V-8.1H5.8zM36.7 -10.3H51.2V-8.1H36.7zM74.7 -10.3H79.6V-8.1H74.7zM91.3 -10.3H93.9V-8.1H91.3zM96.0 -10.3H103.4V-8.1H96.0zM107.9 -10.3H112.9V-8.1H107.9zM119.8 -10.3H122.4V-8.1H119.8zM-77.1 -12.4H-74.5V-10.1H-77.1zM-70.0 -12.4H-53.2V-10.1H-70.0zM-17.9 -12.4H32.1V-10.1H-17.9zM36.6 -12.4H53.4V-10.1H36.6zM67.4 -12.4H70.0V-10.1H67.4zM74.5 -12.4H79.5V-10.1H74.5zM91.1 -12.4H93.7V-10.1H91.1zM95.9 -12.4H98.5V-10.1H95.9zM107.7 -12.4H112.7V-10.1H107.7zM119.6 -12.4H122.2V-10.1H119.6zM-69.9 -14.4H-55.5V-12.1H-69.9zM-20.2 -14.4H32.1V-12.1H-20.2zM36.5 -14.4H55.7V-12.1H36.5zM67.3 -14.4H69.9V-12.1H67.3zM74.4 -14.4H79.4V-12.1H74.4zM109.9 -14.4H112.5V-12.1H109.9zM117.0 -14.4H122.0V-12.1H117.0zM-93.4 -16.5H-90.8V-14.2H-93.4zM-69.8 -16.5H-64.8V-14.2H-69.8zM-20.2 -16.5H53.2V-14.2H-20.2zM67.2 -16.5H69.8V-14.2H67.2zM74.2 -16.5H79.2V-14.2H74.2zM93.1 -16.5H98.1V-14.2H93.1zM102.6 -16.5H107.5V-14.2H102.6zM114.4 -16.5H119.3V-14.2H114.4zM-97.8 -18.5H-92.9V-16.2H-97.8zM-90.8 -18.5H-88.2V-16.2H-90.8zM-74.3 -18.5H-59.9V-16.2H-74.3zM-20.1 -18.5H55.4V-16.2H-20.1zM64.6 -18.5H69.6V-16.2H64.6zM74.0 -18.5H81.3V-16.2H74.0zM85.8 -18.5H88.4V-16.2H85.8zM90.5 -18.5H93.1V-16.2H90.5zM109.4 -18.5H112.0V-16.2H109.4zM116.4 -18.5H119.0V-16.2H116.4zM-95.2 -20.6H-92.6V-18.3H-95.2zM-85.8 -20.6H-83.2V-18.3H-85.8zM-76.4 -20.6H-57.4V-18.3H-76.4zM-17.7 -20.6H57.6V-18.3H-17.7zM64.4 -20.6H69.4V-18.3H64.4zM71.5 -20.6H83.5V-18.3H71.5zM85.6 -20.6H88.1V-18.3H85.6zM99.6 -20.6H104.6V-18.3H99.6zM109.0 -20.6H114.0V-18.3H109.0zM116.1 -20.6H118.7V-18.3H116.1zM-101.9 -22.6H-99.3V-20.3H-101.9zM-94.9 -22.6H-92.3V-20.3H-94.9zM-85.5 -22.6H-59.5V-20.3H-85.5zM-20.0 -22.6H57.4V-20.3H-20.0zM64.2 -22.6H87.9V-20.3H64.2zM111.0 -22.6H113.6V-20.3H111.0zM-106.2 -24.6H-96.7V-22.4H-106.2zM-94.6 -24.6H-64.0V-22.4H-94.6zM-19.9 -24.6H59.6V-22.4H-19.9zM61.7 -24.6H87.6V-22.4H61.7zM110.7 -24.6H113.2V-22.4H110.7zM-108.2 -26.7H-87.0V-24.4H-108.2zM-84.9 -26.7H-68.4V-24.4H-84.9zM-17.6 -26.7H89.6V-24.4H-17.6zM112.6 -26.7H117.5V-24.4H112.6zM-107.7 -28.7H-86.7V-26.5H-107.7zM-80.0 -28.7H-70.5V-26.5H-80.0zM-17.5 -28.7H68.4V-26.5H-17.5zM112.1 -28.7H117.0V-26.5H112.1zM-109.5 -30.8H-86.3V-28.5H-109.5zM-79.6 -30.8H-74.7V-28.5H-79.6zM-72.7 -30.8H-70.1V-28.5H-72.7zM-17.4 -30.8H68.1V-28.5H-17.4zM77.1 -30.8H79.6V-28.5H77.1zM113.9 -30.8H116.5V-28.5H113.9zM-109.0 -32.8H-92.7V-30.5H-109.0zM-15.0 -32.8H67.7V-30.5H-15.0zM74.3 -32.8H79.2V-30.5H74.3zM81.2 -32.8H83.7V-30.5H81.2zM85.8 -32.8H88.3V-30.5H85.8zM108.7 -32.8H115.8V-30.5H108.7zM-110.6 -34.9H-94.4V-32.6H-110.6zM-12.6 -34.9H67.3V-32.6H-12.6zM71.6 -34.9H74.1V-32.6H71.6zM76.2 -34.9H94.6V-32.6H76.2zM108.0 -34.9H112.8V-32.6H108.0zM-109.8 -36.9H-93.7V-34.6H-109.8zM-80.4 -36.9H-77.9V-34.6H-80.4zM-12.6 -36.9H66.8V-34.6H-12.6zM75.6 -36.9H91.7V-34.6H75.6zM93.7 -36.9H96.2V-34.6H93.7zM107.3 -36.9H112.1V-34.6H107.3zM-111.2 -39.0H-95.3V-36.7H-111.2zM-10.2 -39.0H14.7V-36.7H-10.2zM16.7 -39.0H66.3V-36.7H16.7zM68.4 -39.0H95.5V-36.7H68.4zM97.5 -39.0H109.0V-36.7H97.5zM111.0 -39.0H113.5V-36.7H111.0zM-112.6 -41.0H-96.8V-38.7H-112.6zM-10.1 -41.0H19.1V-38.7H-10.1zM23.3 -41.0H110.4V-38.7H23.3zM-111.6 -43.0H-93.7V-40.8H-111.6zM-69.7 -43.0H-65.0V-40.8H-69.7zM-12.3 -43.0H12.3V-40.8H-12.3zM14.2 -43.0H18.9V-40.8H14.2zM29.7 -43.0H109.4V-40.8H29.7zM126.8 -43.0H129.3V-40.8H126.8zM-106.2 -45.1H-90.6V-42.8H-106.2zM-12.1 -45.1H-3.2V-42.8H-12.1zM1.0 -45.1H3.4V-42.8H1.0zM11.9 -45.1H16.5V-42.8H11.9zM31.6 -45.1H34.0V-42.8H31.6zM36.0 -45.1H108.4V-42.8H36.0zM110.3 -45.1H112.7V-42.8H110.3zM123.4 -45.1H128.1V-42.8H123.4zM-111.6 -47.1H-109.2V-44.8H-111.6zM-105.1 -47.1H-89.7V-44.8H-105.1zM-57.5 -47.1H-55.1V-44.8H-57.5zM-12.0 -47.1H-5.3V-44.8H-12.0zM33.4 -47.1H105.1V-44.8H33.4zM111.3 -47.1H113.7V-44.8H111.3zM124.3 -47.1H128.9V-44.8H124.3zM-103.9 -49.1H-88.7V-46.8H-103.9zM-80.4 -49.1H-78.0V-46.8H-80.4zM-69.7 -49.1H-67.3V-46.8H-69.7zM-56.8 -49.1H-54.5V-46.8H-56.8zM-52.6 -49.1H-43.8V-46.8H-52.6zM-7.6 -49.1H-5.2V-46.8H-7.6zM33.1 -49.1H35.4V-46.8H33.1zM37.3 -49.1H82.5V-46.8H37.3zM88.7 -49.1H93.2V-46.8H88.7zM95.1 -49.1H97.5V-46.8H95.1zM123.0 -49.1H127.5V-46.8H123.0zM-100.6 -51.1H-87.7V-48.8H-100.6zM-77.4 -51.1H-72.9V-48.8H-77.4zM-56.2 -51.1H-53.8V-48.8H-56.2zM-49.9 -51.1H-41.1V-48.8H-49.9zM30.6 -51.1H81.6V-48.8H30.6zM-101.5 -53.1H-84.6V-50.9H-101.5zM-74.4 -53.1H-72.0V-50.9H-74.4zM-66.0 -53.1H-63.7V-50.9H-66.0zM-51.4 -53.1H-40.7V-50.9H-51.4zM30.2 -53.1H76.4V-50.9H30.2zM80.4 -53.1H82.7V-50.9H80.4zM118.0 -53.1H122.4V-50.9H118.0zM-110.6 -55.1H-106.2V-52.8H-110.6zM-98.2 -55.1H-95.9V-52.8H-98.2zM-94.0 -55.1H-91.7V-52.8H-94.0zM-65.1 -55.1H-62.8V-52.8H-65.1zM-59.0 -55.1H-56.6V-52.8H-59.0zM-48.6 -55.1H-42.2V-52.8H-48.6zM27.7 -55.1H69.3V-52.8H27.7zM71.1 -55.1H73.4V-52.8H71.1zM126.8 -55.1H129.1V-52.8H126.8zM-135.5 -57.0H-131.2V-54.8H-135.5zM-111.1 -57.0H-108.8V-54.8H-111.1zM-98.8 -57.0H-94.5V-54.8H-98.8zM-80.5 -57.0H-78.3V-54.8H-80.5zM-58.1 -57.0H-55.9V-54.8H-58.1zM-45.9 -57.0H-41.6V-54.8H-45.9zM27.4 -57.0H31.7V-54.8H27.4zM35.5 -57.0H39.8V-54.8H35.5zM43.6 -57.0H45.9V-54.8H43.6zM47.7 -57.0H50.0V-54.8H47.7zM70.1 -57.0H72.4V-54.8H70.1zM123.0 -57.0H131.4V-54.8H123.0zM-135.5 -59.0H-125.2V-56.8H-135.5zM-109.4 -59.0H-107.2V-56.8H-109.4zM-79.3 -59.0H-77.1V-56.8H-79.3zM-47.2 -59.0H-43.0V-56.8H-47.2zM6.9 -59.0H9.1V-56.8H6.9zM115.2 -59.0H117.4V-56.8H115.2zM121.2 -59.0H131.5V-56.8H121.2zM-131.4 -60.9H-119.3V-58.7H-131.4zM-109.7 -60.9H-103.5V-58.7H-109.7zM-78.1 -60.9H-75.9V-58.7H-78.1zM-46.5 -60.9H-44.3V-58.7H-46.5zM129.2 -60.9H131.4V-58.7H129.2zM-131.2 -62.8H-125.1V-60.6H-131.2zM-121.5 -62.8H-113.5V-60.6H-121.5zM-111.7 -62.8H-109.6V-60.6H-111.7zM-71.0 -62.8H-68.8V-60.6H-71.0zM-47.7 -62.8H-45.5V-60.6H-47.7zM-36.0 -62.8H-31.9V-60.6H-36.0zM20.3 -62.8H22.4V-60.6H20.3zM30.0 -62.8H32.2V-60.6H30.0zM119.3 -62.8H123.4V-60.6H119.3zM130.9 -62.8H133.1V-60.6H130.9zM136.3 -64.7H137.5V-62.5H136.3zM-137.5 -64.7H-136.3V-62.5H-137.5zM-130.8 -64.7H-124.8V-62.5H-130.8zM-113.6 -64.7H-111.5V-62.5H-113.6zM-64.0 -64.7H-60.0V-62.5H-64.0zM-54.5 -64.7H-52.3V-62.5H-54.5zM-46.9 -64.7H-44.7V-62.5H-46.9zM-39.2 -64.7H-29.5V-62.5H-39.2zM-4.9 -64.7H-0.8V-62.5H-4.9zM19.9 -64.7H22.1V-62.5H19.9zM119.1 -64.7H125.1V-62.5H119.1zM126.8 -64.7H128.9V-62.5H126.8zM130.6 -64.7H136.5V-62.5H130.6zM133.8 -66.5H135.0V-64.4H133.8zM-135.0 -66.5H-133.8V-64.4H-135.0zM-130.3 -66.5H-126.3V-64.4H-130.3zM-72.3 -66.5H-55.1V-64.4H-72.3zM-53.5 -66.5H-45.8V-64.4H-53.5zM-40.4 -66.5H-28.9V-64.4H-40.4zM-17.9 -66.5H-10.2V-64.4H-17.9zM0.8 -66.5H4.8V-64.4H0.8zM19.6 -66.5H21.7V-64.4H19.6zM40.2 -66.5H44.1V-64.4H40.2zM128.2 -66.5H134.1V-64.4H128.2zM-129.7 -68.3H-125.8V-66.3H-129.7zM-72.7 -68.3H-44.9V-66.3H-72.7zM-39.6 -68.3H-26.5V-66.3H-39.6zM-19.4 -68.3H-8.2V-66.3H-19.4zM17.3 -68.3H23.1V-66.3H17.3zM33.9 -68.3H39.6V-66.3H33.9zM48.6 -68.3H52.5V-66.3H48.6zM127.6 -68.3H129.7V-66.3H127.6zM-129.0 -70.1H-125.2V-68.1H-129.0zM-71.3 -70.1H-53.1V-68.1H-71.3zM-51.5 -70.1H-45.8V-68.1H-51.5zM-44.3 -70.1H-42.2V-68.1H-44.3zM-40.7 -70.1H-22.4V-68.1H-40.7zM-19.0 -70.1H-8.0V-68.1H-19.0zM123.4 -70.1H129.0V-68.1H123.4zM126.2 -71.9H127.3V-69.9H126.2zM-127.3 -71.9H-124.4V-69.9H-127.3zM-69.9 -71.9H-41.4V-69.9H-69.9zM-39.9 -71.9H-9.6V-69.9H-39.9zM27.3 -71.9H29.3V-69.9H27.3zM41.4 -71.9H45.2V-69.9H41.4zM120.9 -71.9H126.4V-69.9H120.9zM123.5 -73.6H124.6V-71.6H123.5zM-124.6 -73.6H-123.5V-71.6H-124.6zM-84.0 -73.6H-42.2V-71.6H-84.0zM-40.7 -73.6H-19.8V-71.6H-40.7zM-16.5 -73.6H-14.6V-71.6H-16.5zM26.7 -73.6H28.6V-71.6H26.7zM37.0 -73.6H39.0V-71.6H37.0zM42.2 -73.6H44.2V-71.6H42.2zM118.3 -73.6H123.7V-71.6H118.3zM120.7 -75.3H121.8V-73.4H120.7zM-121.8 -75.3H-120.7V-73.4H-121.8zM-87.2 -75.3H-43.0V-73.4H-87.2zM-39.8 -75.3H-19.3V-73.4H-39.8zM-14.5 -75.3H-12.6V-73.4H-14.5zM15.9 -75.3H17.9V-73.4H15.9zM24.4 -75.3H26.3V-73.4H24.4zM32.8 -75.3H38.1V-73.4H32.8zM39.6 -75.3H41.5V-73.4H39.6zM114.0 -75.3H121.0V-73.4H114.0zM117.8 -76.9H118.9V-75.0H117.8zM-118.9 -76.9H-116.2V-75.0H-118.9zM-98.3 -76.9H-96.4V-75.0H-98.3zM-85.1 -76.9H-43.6V-75.0H-85.1zM-40.5 -76.9H-18.9V-75.0H-40.5zM-14.1 -76.9H-10.6V-75.0H-14.1zM13.9 -76.9H15.8V-75.0H13.9zM32.1 -76.9H38.9V-75.0H32.1zM116.2 -76.9H118.1V-75.0H116.2zM-82.9 -78.5H-50.5V-76.7H-82.9zM-49.1 -78.5H-10.3V-76.7H-49.1zM11.9 -78.5H13.8V-76.7H11.9zM34.4 -78.5H44.3V-76.7H34.4zM48.9 -78.5H50.7V-76.7H48.9zM87.5 -78.5H95.7V-76.7H87.5zM-79.0 -80.1H-10.0V-78.3H-79.0zM6.9 -80.1H16.5V-78.3H6.9zM33.5 -80.1H44.6V-78.3H33.5zM53.8 -80.1H58.7V-78.3H53.8zM83.4 -80.1H93.0V-78.3H83.4zM-75.1 -81.5H-6.7V-79.8H-75.1zM5.2 -81.5H17.5V-79.8H5.2zM29.4 -81.5H41.8V-79.8H29.4zM55.1 -81.5H63.0V-79.8H55.1zM64.2 -81.5H66.0V-79.8H64.2zM82.4 -81.5H85.7V-79.8H82.4zM86.9 -81.5H88.7V-79.8H86.9zM-66.9 -82.9H-63.7V-81.3H-66.9zM-62.5 -82.9H-5.0V-81.3H-62.5zM5.0 -82.9H18.5V-81.3H5.0zM27.0 -82.9H37.5V-81.3H27.0zM54.9 -82.9H62.5V-81.3H54.9zM-54.8 -84.1H-27.6V-82.6H-54.8zM-12.2 -84.1H-6.3V-82.6H-12.2zM6.3 -84.1H16.5V-82.6H6.3zM27.6 -84.1H34.9V-82.6H27.6zM54.6 -84.1H59.1V-82.6H54.6zM-50.4 -85.2H-10.2V-83.9H-50.4z"/>
<path fill="#1E96FF" d="M-58.4 58.7H-56.1V60.9H-58.4zM-61.3 56.8H-57.0V59.0H-61.3zM-62.2 54.8H-55.9V57.0H-62.2zM-65.1 52.8H-54.6V55.1H-65.1zM-66.0 50.9H-59.5V53.1H-66.0zM141.0 50.9H143.4V53.1H141.0zM-66.8 48.8H-64.4V51.1H-66.8zM-60.4 48.8H-56.0V51.1H-60.4zM138.5 48.8H143.0V51.1H138.5zM144.9 48.8H147.2V51.1H144.9zM-67.6 46.8H-65.2V49.1H-67.6zM-61.1 46.8H-56.6V49.1H-61.1zM140.1 46.8H142.5V49.1H140.1zM144.4 46.8H148.9V49.1H144.4zM154.6 44.8H156.0V47.1H154.6zM-156.0 44.8H-154.6V47.1H-156.0zM-68.3 44.8H-63.7V47.1H-68.3zM126.5 44.8H128.9V47.1H126.5zM148.1 44.8H152.7V47.1H148.1zM156.2 42.8H157.6V45.1H156.2zM-157.6 42.8H-156.2V45.1H-157.6zM-62.4 42.8H-60.0V45.1H-62.4zM125.6 42.8H130.2V45.1H125.6zM147.5 42.8H156.5V45.1H147.5zM157.7 40.8H159.1V43.0H157.7zM-159.1 40.8H-157.7V43.0H-159.1zM-67.5 40.8H-60.6V43.0H-67.5zM129.0 40.8H133.7V43.0H129.0zM151.1 40.8H158.0V43.0H151.1zM-68.0 38.7H-63.4V41.0H-68.0zM127.9 38.7H137.1V41.0H127.9zM152.4 38.7H159.4V41.0H152.4zM133.5 36.7H135.9V39.0H133.5zM151.4 36.7H153.9V39.0H151.4zM-69.1 34.6H-66.6V36.9H-69.1zM-64.6 34.6H-62.1V36.9H-64.6zM-51.0 34.6H-48.5V36.9H-51.0zM154.8 34.6H159.6V36.9H154.8zM-67.3 32.6H-62.5V34.9H-67.3zM-55.9 32.6H-53.4V34.9H-55.9zM-51.4 32.6H-48.8V34.9H-51.4zM137.6 32.6H140.2V34.9H137.6zM-67.7 30.5H-65.2V32.8H-67.7zM-51.7 30.5H-46.8V32.8H-51.7zM21.6 30.5H24.2V32.8H21.6zM30.8 30.5H33.3V32.8H30.8zM138.5 30.5H143.3V32.8H138.5zM-58.9 28.5H-44.8V30.8H-58.9zM42.5 28.5H45.0V30.8H42.5zM139.3 28.5H141.8V30.8H139.3zM-66.1 26.5H-54.3V28.7H-66.1zM-52.2 26.5H-42.7V28.7H-52.2zM40.4 26.5H45.3V28.7H40.4zM139.9 26.5H142.5V28.7H139.9zM-64.0 24.4H-54.5V26.7H-64.0zM-52.4 24.4H-45.2V26.7H-52.4zM-43.1 24.4H-40.6V26.7H-43.1zM42.9 24.4H47.8V26.7H42.9zM140.5 24.4H145.4V26.7H140.5zM152.1 24.4H154.7V26.7H152.1zM-68.9 22.4H-64.0V24.6H-68.9zM-61.9 22.4H-59.4V24.6H-61.9zM-52.6 22.4H-47.7V24.6H-52.6zM-45.6 22.4H-43.0V24.6H-45.6zM29.0 22.4H33.9V24.6H29.0zM43.0 22.4H45.6V24.6H43.0zM141.0 22.4H143.6V24.6H141.0zM150.3 22.4H155.2V24.6H150.3zM-69.1 20.3H-59.5V22.6H-69.1zM-48.1 20.3H-43.2V22.6H-48.1zM29.1 20.3H34.0V22.6H29.1zM40.8 20.3H43.4V22.6H40.8zM45.5 20.3H48.1V22.6H45.5zM155.5 20.3H158.1V22.6H155.5zM-67.0 18.3H-62.1V20.6H-67.0zM-57.6 18.3H-50.3V20.6H-57.6zM-48.2 18.3H-43.3V20.6H-48.2zM29.2 18.3H34.2V20.6H29.2zM43.3 18.3H48.2V20.6H43.3zM153.6 18.3H156.2V20.6H153.6zM-69.6 16.2H-62.3V18.5H-69.6zM-55.4 16.2H-50.5V18.5H-55.4zM-48.4 16.2H-43.4V18.5H-48.4zM29.3 16.2H31.9V18.5H29.3zM43.4 16.2H46.0V18.5H43.4zM-69.8 14.2H-55.4V16.5H-69.8zM-48.5 14.2H-45.9V16.5H-48.5zM43.6 14.2H48.5V16.5H43.6zM-74.6 12.1H-60.2V14.4H-74.6zM-58.1 12.1H-50.7V14.4H-58.1zM-48.6 12.1H-46.0V14.4H-48.6zM43.6 12.1H46.3V14.4H43.6zM-72.4 10.1H-53.2V12.4H-72.4zM-51.1 10.1H-41.4V12.4H-51.1zM27.1 10.1H32.1V12.4H27.1zM-74.9 8.1H-67.5V10.3H-74.9zM-65.4 8.1H-43.8V10.3H-65.4zM12.9 8.1H15.5V10.3H12.9zM17.7 8.1H32.2V10.3H17.7zM110.3 8.1H115.2V10.3H110.3zM126.9 8.1H129.5V10.3H126.9zM131.6 8.1H134.2V10.3H131.6zM136.4 8.1H141.4V10.3H136.4zM-77.4 6.0H-67.6V8.3H-77.4zM-65.5 6.0H-58.1V8.3H-65.5zM-56.0 6.0H-41.5V8.3H-56.0zM15.3 6.0H20.3V8.3H15.3zM22.5 6.0H25.1V8.3H22.5zM29.6 6.0H32.2V8.3H29.6zM98.5 6.0H103.5V8.3H98.5zM108.0 6.0H122.5V8.3H108.0zM124.7 6.0H139.2V8.3H124.7zM141.3 6.0H143.9V8.3H141.3zM146.0 6.0H148.7V8.3H146.0zM-77.4 4.0H-60.5V6.3H-77.4zM-58.4 4.0H-43.9V6.3H-58.4zM10.6 4.0H22.7V6.3H10.6zM24.9 4.0H34.6V6.3H24.9zM93.8 4.0H96.5V6.3H93.8zM98.6 4.0H113.1V6.3H98.6zM115.3 4.0H134.5V6.3H115.3zM141.4 4.0H144.0V6.3H141.4zM-79.9 1.9H-70.1V4.2H-79.9zM-65.6 1.9H-58.2V4.2H-65.6zM-53.7 1.9H-46.3V4.2H-53.7zM-44.2 1.9H-41.5V4.2H-44.2zM10.6 1.9H20.4V4.2H10.6zM27.3 1.9H32.3V4.2H27.3zM91.5 1.9H113.2V4.2H91.5zM115.3 1.9H129.9V4.2H115.3zM132.0 1.9H134.6V4.2H132.0zM136.8 1.9H141.8V4.2H136.8zM-79.9 -0.1H-74.9V2.2H-79.9zM-72.8 -0.1H-63.0V2.2H-72.8zM-60.9 -0.1H-46.3V2.2H-60.9zM8.2 -0.1H27.5V2.2H8.2zM29.7 -0.1H34.7V2.2H29.7zM94.0 -0.1H99.0V2.2H94.0zM103.5 -0.1H125.2V2.2H103.5zM132.1 -0.1H137.1V2.2H132.1zM-79.9 -2.2H-72.5V0.1H-79.9zM-70.4 -2.2H-60.6V0.1H-70.4zM-58.5 -2.2H-43.9V0.1H-58.5zM8.2 -2.2H13.2V0.1H8.2zM15.4 -2.2H20.4V0.1H15.4zM22.5 -2.2H32.3V0.1H22.5zM91.6 -2.2H96.6V0.1H91.6zM108.2 -2.2H125.2V0.1H108.2zM-77.5 -4.2H-72.5V-1.9H-77.5zM-70.3 -4.2H-43.9V-1.9H-70.3zM13.0 -4.2H25.1V-1.9H13.0zM27.3 -4.2H29.9V-1.9H27.3zM89.2 -4.2H103.7V-1.9H89.2zM108.2 -4.2H113.2V-1.9H108.2zM115.3 -4.2H122.7V-1.9H115.3zM-75.1 -6.3H-72.4V-4.0H-75.1zM-70.3 -6.3H-55.8V-4.0H-70.3zM-53.6 -6.3H-46.3V-4.0H-53.6zM-8.4 -6.3H-5.8V-4.0H-8.4zM-1.3 -6.3H20.3V-4.0H-1.3zM22.5 -6.3H25.1V-4.0H22.5zM32.0 -6.3H34.6V-4.0H32.0zM96.2 -6.3H101.2V-4.0H96.2zM103.4 -6.3H120.3V-4.0H103.4zM-79.7 -8.3H-70.0V-6.0H-79.7zM-67.9 -8.3H-55.7V-6.0H-67.9zM-13.2 -8.3H-10.6V-6.0H-13.2zM-8.4 -8.3H1.3V-6.0H-8.4zM3.4 -8.3H17.9V-6.0H3.4zM22.5 -8.3H25.1V-6.0H22.5zM32.0 -8.3H37.0V-6.0H32.0zM72.4 -8.3H75.0V-6.0H72.4zM93.8 -8.3H101.1V-6.0H93.8zM105.6 -8.3H113.0V-6.0H105.6zM115.1 -8.3H117.8V-6.0H115.1zM-84.4 -10.3H-65.2V-8.1H-84.4zM-10.8 -10.3H-5.8V-8.1H-10.8zM-3.7 -10.3H-1.1V-8.1H-3.7zM3.4 -10.3H6.1V-8.1H3.4zM29.6 -10.3H36.9V-8.1H29.6zM69.9 -10.3H74.9V-8.1H69.9zM88.9 -10.3H91.5V-8.1H88.9zM93.6 -10.3H96.3V-8.1H93.6zM112.6 -10.3H120.0V-8.1H112.6zM-84.3 -12.4H-76.9V-10.1H-84.3zM-74.8 -12.4H-69.8V-10.1H-74.8zM31.9 -12.4H36.9V-10.1H31.9zM69.8 -12.4H74.8V-10.1H69.8zM88.8 -12.4H91.4V-10.1H88.8zM93.5 -12.4H96.1V-10.1H93.5zM98.2 -12.4H105.6V-10.1H98.2zM112.5 -12.4H115.1V-10.1H112.5zM117.2 -12.4H119.8V-10.1H117.2zM-88.8 -14.4H-83.9V-12.1H-88.8zM-81.7 -14.4H-74.4V-12.1H-81.7zM-72.3 -14.4H-69.7V-12.1H-72.3zM31.8 -14.4H36.8V-12.1H31.8zM69.7 -14.4H74.6V-12.1H69.7zM88.6 -14.4H107.8V-12.1H88.6zM112.3 -14.4H114.9V-12.1H112.3zM-95.7 -16.5H-93.1V-14.2H-95.7zM-91.0 -16.5H-74.2V-14.2H-91.0zM69.5 -16.5H74.5V-14.2H69.5zM88.4 -16.5H93.4V-14.2H88.4zM97.8 -16.5H102.8V-14.2H97.8zM109.6 -16.5H114.6V-14.2H109.6zM-93.1 -18.5H-90.5V-16.2H-93.1zM-88.4 -18.5H-76.4V-16.2H-88.4zM69.3 -18.5H74.3V-16.2H69.3zM88.2 -18.5H90.8V-16.2H88.2zM92.9 -18.5H97.8V-16.2H92.9zM99.9 -18.5H104.9V-16.2H99.9zM111.7 -18.5H116.7V-16.2H111.7zM-99.9 -20.6H-95.0V-18.3H-99.9zM-92.8 -20.6H-85.6V-18.3H-92.8zM-83.5 -20.6H-78.5V-18.3H-83.5zM69.1 -20.6H71.7V-18.3H69.1zM87.9 -20.6H99.9V-18.3H87.9zM104.3 -20.6H106.9V-18.3H104.3zM113.7 -20.6H116.3V-18.3H113.7zM-99.6 -22.6H-94.6V-20.3H-99.6zM-92.5 -22.6H-85.3V-20.3H-92.5zM87.6 -22.6H108.9V-20.3H87.6zM113.4 -22.6H115.9V-20.3H113.4zM-96.9 -24.6H-94.3V-22.4H-96.9zM87.3 -24.6H92.2V-22.4H87.3zM94.3 -24.6H99.2V-22.4H94.3zM101.3 -24.6H106.2V-22.4H101.3zM108.3 -24.6H110.9V-22.4H108.3zM113.0 -24.6H115.6V-22.4H113.0zM89.4 -26.7H91.9V-24.4H89.4zM94.0 -26.7H98.9V-24.4H94.0zM101.0 -26.7H103.5V-24.4H101.0zM107.9 -26.7H112.8V-24.4H107.9zM68.2 -28.7H96.2V-26.5H68.2zM100.6 -28.7H105.4V-26.5H100.6zM107.5 -28.7H112.4V-26.5H107.5zM-86.5 -30.8H-81.7V-28.5H-86.5zM-75.0 -30.8H-72.4V-28.5H-75.0zM67.8 -30.8H77.3V-28.5H67.8zM81.7 -30.8H93.4V-28.5H81.7zM95.5 -30.8H98.0V-28.5H95.5zM104.7 -30.8H114.2V-28.5H104.7zM-92.9 -32.8H-83.5V-30.5H-92.9zM-81.5 -32.8H-69.8V-30.5H-81.5zM67.5 -32.8H74.6V-30.5H67.5zM78.9 -32.8H81.5V-30.5H78.9zM83.5 -32.8H86.0V-30.5H83.5zM88.1 -32.8H92.9V-30.5H88.1zM95.0 -32.8H99.8V-30.5H95.0zM106.4 -32.8H109.0V-30.5H106.4zM117.9 -32.8H122.7V-30.5H117.9zM-94.6 -34.9H-87.6V-32.6H-94.6zM-85.5 -34.9H-69.3V-32.6H-85.5zM67.1 -34.9H71.9V-32.6H67.1zM73.9 -34.9H76.4V-32.6H73.9zM94.4 -34.9H99.2V-32.6H94.4zM101.2 -34.9H108.3V-32.6H101.2zM112.6 -34.9H124.2V-32.6H112.6zM-94.0 -36.9H-91.5V-34.6H-94.0zM-78.1 -36.9H-66.6V-34.6H-78.1zM66.6 -36.9H75.9V-34.6H66.6zM91.5 -36.9H94.0V-34.6H91.5zM96.0 -36.9H107.6V-34.6H96.0zM114.1 -36.9H121.1V-34.6H114.1zM123.1 -36.9H127.9V-34.6H123.1zM-95.5 -39.0H-90.8V-36.7H-95.5zM-88.8 -39.0H-63.9V-36.7H-88.8zM66.1 -39.0H68.6V-36.7H66.1zM95.3 -39.0H97.8V-36.7H95.3zM108.8 -39.0H111.2V-36.7H108.8zM113.3 -39.0H129.2V-36.7H113.3zM-97.0 -41.0H-74.5V-38.7H-97.0zM-72.5 -41.0H-65.6V-38.7H-72.5zM18.8 -41.0H23.5V-38.7H18.8zM110.1 -41.0H114.8V-38.7H110.1zM116.8 -41.0H119.3V-38.7H116.8zM121.3 -41.0H128.2V-38.7H121.3zM-94.0 -43.0H-89.3V-40.8H-94.0zM-87.3 -43.0H-84.9V-40.8H-87.3zM-82.9 -43.0H-76.0V-40.8H-82.9zM-74.1 -43.0H-69.4V-40.8H-74.1zM-65.2 -43.0H-62.8V-40.8H-65.2zM12.0 -43.0H14.5V-40.8H12.0zM18.6 -43.0H29.9V-40.8H18.6zM109.2 -43.0H116.0V-40.8H109.2zM118.0 -43.0H127.1V-40.8H118.0zM-112.7 -45.1H-105.9V-42.8H-112.7zM-90.9 -45.1H-66.6V-42.8H-90.9zM-62.4 -45.1H-60.0V-42.8H-62.4zM-3.4 -45.1H1.2V-42.8H-3.4zM3.2 -45.1H12.1V-42.8H3.2zM16.3 -45.1H31.8V-42.8H16.3zM33.8 -45.1H36.2V-42.8H33.8zM108.1 -45.1H110.6V-42.8H108.1zM112.5 -45.1H121.5V-42.8H112.5zM-109.4 -47.1H-104.9V-44.8H-109.4zM-89.9 -47.1H-87.5V-44.8H-89.9zM-85.6 -47.1H-68.1V-44.8H-85.6zM-66.1 -47.1H-57.2V-44.8H-66.1zM-55.3 -47.1H-52.9V-44.8H-55.3zM-5.5 -47.1H9.9V-44.8H-5.5zM11.8 -47.1H18.5V-44.8H11.8zM20.4 -47.1H25.0V-44.8H20.4zM29.1 -47.1H33.7V-44.8H29.1zM104.9 -47.1H111.6V-44.8H104.9zM113.5 -47.1H124.6V-44.8H113.5zM-110.4 -49.1H-103.7V-46.8H-110.4zM-89.0 -49.1H-86.6V-46.8H-89.0zM-84.7 -49.1H-80.2V-46.8H-84.7zM-78.3 -49.1H-69.5V-46.8H-78.3zM-67.6 -49.1H-56.6V-46.8H-67.6zM-54.7 -49.1H-52.3V-46.8H-54.7zM-9.8 -49.1H-7.4V-46.8H-9.8zM-5.5 -49.1H-1.0V-46.8H-5.5zM3.1 -49.1H5.5V-46.8H3.1zM7.4 -49.1H11.9V-46.8H7.4zM24.5 -49.1H26.9V-46.8H24.5zM28.8 -49.1H33.3V-46.8H28.8zM35.2 -49.1H37.6V-46.8H35.2zM82.3 -49.1H89.0V-46.8H82.3zM93.0 -49.1H95.4V-46.8H93.0zM97.3 -49.1H99.7V-46.8H97.3zM112.3 -49.1H118.9V-46.8H112.3zM120.8 -49.1H123.2V-46.8H120.8zM-109.1 -51.1H-100.4V-48.8H-109.1zM-87.9 -51.1H-77.1V-48.8H-87.9zM-73.1 -51.1H-68.7V-48.8H-73.1zM-66.8 -51.1H-56.0V-48.8H-66.8zM-54.1 -51.1H-49.6V-48.8H-54.1zM-3.3 -51.1H5.4V-48.8H-3.3zM9.4 -51.1H11.8V-48.8H9.4zM13.6 -51.1H18.1V-48.8H13.6zM20.0 -51.1H22.3V-48.8H20.0zM26.3 -51.1H30.8V-48.8H26.3zM81.4 -51.1H92.2V-48.8H81.4zM94.1 -51.1H96.4V-48.8H94.1zM106.8 -51.1H117.6V-48.8H106.8zM119.5 -51.1H123.9V-48.8H119.5zM-107.8 -53.1H-105.5V-50.9H-107.8zM-103.6 -53.1H-101.3V-50.9H-103.6zM-84.8 -53.1H-80.4V-50.9H-84.8zM-78.5 -53.1H-76.2V-50.9H-78.5zM-72.3 -53.1H-69.9V-50.9H-72.3zM-63.9 -53.1H-51.1V-50.9H-63.9zM-7.4 -53.1H-5.1V-50.9H-7.4zM-1.2 -53.1H1.2V-50.9H-1.2zM3.0 -53.1H15.8V-50.9H3.0zM21.8 -53.1H30.4V-50.9H21.8zM76.2 -53.1H80.6V-50.9H76.2zM82.5 -53.1H91.1V-50.9H82.5zM92.9 -53.1H95.3V-50.9H92.9zM105.5 -53.1H107.8V-50.9H105.5zM113.8 -53.1H118.3V-50.9H113.8zM-106.4 -55.1H-104.1V-52.8H-106.4zM-102.3 -55.1H-97.9V-52.8H-102.3zM-96.1 -55.1H-93.8V-52.8H-96.1zM-92.0 -55.1H-83.5V-52.8H-92.0zM-81.7 -55.1H-79.4V-52.8H-81.7zM-69.3 -55.1H-67.0V-52.8H-69.3zM-61.0 -55.1H-58.7V-52.8H-61.0zM-56.9 -55.1H-48.4V-52.8H-56.9zM-9.4 -55.1H-7.1V-52.8H-9.4zM-1.2 -55.1H11.5V-52.8H-1.2zM15.4 -55.1H17.7V-52.8H15.4zM23.6 -55.1H28.0V-52.8H23.6zM69.0 -55.1H71.3V-52.8H69.0zM73.2 -55.1H79.6V-52.8H73.2zM83.5 -55.1H85.8V-52.8H83.5zM116.5 -55.1H120.9V-52.8H116.5zM-109.0 -57.0H-104.7V-54.8H-109.0zM-94.8 -57.0H-92.5V-54.8H-94.8zM-90.7 -57.0H-82.3V-54.8H-90.7zM-78.5 -57.0H-76.2V-54.8H-78.5zM-70.3 -57.0H-68.1V-54.8H-70.3zM-66.3 -57.0H-57.9V-54.8H-66.3zM-56.1 -57.0H-53.8V-54.8H-56.1zM-52.0 -57.0H-45.7V-54.8H-52.0zM-11.3 -57.0H11.3V-54.8H-11.3zM17.2 -57.0H27.6V-54.8H17.2zM31.4 -57.0H35.7V-54.8H31.4zM39.6 -57.0H43.9V-54.8H39.6zM45.7 -57.0H48.0V-54.8H45.7zM49.8 -57.0H70.3V-54.8H49.8zM72.1 -57.0H76.5V-54.8H72.1zM92.5 -57.0H94.8V-54.8H92.5zM108.8 -57.0H113.1V-54.8H108.8zM116.9 -57.0H119.2V-54.8H116.9zM131.2 -57.0H133.5V-54.8H131.2zM-107.4 -59.0H-101.2V-56.8H-107.4zM-95.4 -59.0H-93.1V-56.8H-95.4zM-85.3 -59.0H-79.1V-56.8H-85.3zM-77.3 -59.0H-75.1V-56.8H-77.3zM-67.3 -59.0H-63.1V-56.8H-67.3zM-59.3 -59.0H-53.0V-56.8H-59.3zM-51.3 -59.0H-47.0V-56.8H-51.3zM-11.1 -59.0H-6.9V-56.8H-11.1zM-5.1 -59.0H-2.9V-56.8H-5.1zM-1.1 -59.0H7.1V-56.8H-1.1zM8.9 -59.0H11.1V-56.8H8.9zM16.9 -59.0H31.2V-56.8H16.9zM33.0 -59.0H45.2V-56.8H33.0zM47.0 -59.0H55.3V-56.8H47.0zM57.0 -59.0H63.3V-56.8H57.0zM65.1 -59.0H67.3V-56.8H65.1zM69.1 -59.0H71.3V-56.8H69.1zM97.1 -59.0H103.4V-56.8H97.1zM111.2 -59.0H115.4V-56.8H111.2zM131.2 -59.0H133.5V-56.8H131.2zM-91.9 -60.9H-89.7V-58.7H-91.9zM-76.1 -60.9H-73.9V-58.7H-76.1zM-66.2 -60.9H-62.1V-58.7H-66.2zM-60.3 -60.9H-46.3V-58.7H-60.3zM-9.0 -60.9H-4.8V-58.7H-9.0zM-1.1 -60.9H1.1V-58.7H-1.1zM2.8 -60.9H22.8V-58.7H2.8zM30.5 -60.9H34.7V-58.7H30.5zM36.4 -60.9H40.6V-58.7H36.4zM42.3 -60.9H46.5V-58.7H42.3zM50.2 -60.9H54.4V-58.7H50.2zM58.1 -60.9H64.3V-58.7H58.1zM73.9 -60.9H76.1V-58.7H73.9zM77.8 -60.9H82.0V-58.7H77.8zM107.5 -60.9H109.7V-58.7H107.5zM121.3 -60.9H129.4V-58.7H121.3zM-125.3 -62.8H-121.2V-60.6H-125.3zM-113.7 -62.8H-111.5V-60.6H-113.7zM-109.8 -62.8H-105.7V-60.6H-109.8zM-80.7 -62.8H-76.6V-60.6H-80.7zM-72.9 -62.8H-70.7V-60.6H-72.9zM-69.0 -62.8H-59.1V-60.6H-69.0zM-57.4 -62.8H-47.4V-60.6H-57.4zM-6.9 -62.8H10.8V-60.6H-6.9zM14.4 -62.8H20.5V-60.6H14.4zM22.2 -62.8H24.4V-60.6H22.2zM26.1 -62.8H30.2V-60.6H26.1zM31.9 -62.8H34.1V-60.6H31.9zM37.7 -62.8H39.9V-60.6H37.7zM59.1 -62.8H63.2V-60.6H59.1zM64.9 -62.8H67.1V-60.6H64.9zM72.7 -62.8H76.8V-60.6H72.7zM88.2 -62.8H90.4V-60.6H88.2zM109.6 -62.8H113.7V-60.6H109.6zM123.2 -62.8H129.2V-60.6H123.2zM-125.1 -64.7H-121.0V-62.5H-125.1zM-119.4 -64.7H-117.2V-62.5H-119.4zM-115.5 -64.7H-113.4V-62.5H-115.5zM-111.7 -64.7H-109.6V-62.5H-111.7zM-104.1 -64.7H-102.0V-62.5H-104.1zM-71.7 -64.7H-69.5V-62.5H-71.7zM-60.2 -64.7H-54.3V-62.5H-60.2zM-52.6 -64.7H-46.6V-62.5H-52.6zM0.8 -64.7H6.8V-62.5H0.8zM10.4 -64.7H12.5V-62.5H10.4zM14.2 -64.7H20.2V-62.5H14.2zM21.8 -64.7H35.4V-62.5H21.8zM37.1 -64.7H45.0V-62.5H37.1zM48.5 -64.7H50.7V-62.5H48.5zM54.3 -64.7H67.9V-62.5H54.3zM82.9 -64.7H85.0V-62.5H82.9zM88.6 -64.7H90.7V-62.5H88.6zM94.3 -64.7H96.5V-62.5H94.3zM107.7 -64.7H113.6V-62.5H107.7zM115.3 -64.7H117.5V-62.5H115.3zM124.8 -64.7H127.0V-62.5H124.8zM128.7 -64.7H130.8V-62.5H128.7zM-124.7 -66.5H-120.7V-64.4H-124.7zM-113.5 -66.5H-111.4V-64.4H-113.5zM-77.9 -66.5H-75.8V-64.4H-77.9zM-74.1 -66.5H-72.0V-64.4H-74.1zM-55.4 -66.5H-53.3V-64.4H-55.4zM4.6 -66.5H6.7V-64.4H4.6zM10.2 -66.5H12.3V-64.4H10.2zM17.7 -66.5H19.8V-64.4H17.7zM21.4 -66.5H27.3V-64.4H21.4zM32.7 -66.5H38.5V-64.4H32.7zM45.8 -66.5H55.4V-64.4H45.8zM60.8 -66.5H66.6V-64.4H60.8zM115.1 -66.5H117.2V-64.4H115.1zM124.5 -66.5H128.5V-64.4H124.5zM131.3 -68.3H132.5V-66.3H131.3zM-132.5 -68.3H-129.5V-66.3H-132.5zM-126.0 -68.3H-120.3V-66.3H-126.0zM-113.2 -68.3H-111.1V-66.3H-113.2zM-74.6 -68.3H-72.5V-66.3H-74.6zM2.6 -68.3H6.6V-66.3H2.6zM22.9 -68.3H24.9V-66.3H22.9zM39.4 -68.3H41.5V-66.3H39.4zM46.8 -68.3H48.8V-66.3H46.8zM52.3 -68.3H54.4V-66.3H52.3zM57.8 -68.3H63.5V-66.3H57.8zM124.0 -68.3H127.9V-66.3H124.0zM129.5 -68.3H131.6V-66.3H129.5zM128.8 -70.1H129.9V-68.1H128.8zM-129.9 -70.1H-128.8V-68.1H-129.9zM-125.4 -70.1H-117.9V-68.1H-125.4zM-112.8 -70.1H-110.7V-68.1H-112.8zM-73.1 -70.1H-71.1V-68.1H-73.1zM-53.3 -70.1H-51.3V-68.1H-53.3zM-46.1 -70.1H-44.0V-68.1H-46.1zM4.4 -70.1H8.2V-68.1H4.4zM11.6 -70.1H20.8V-68.1H11.6zM27.8 -70.1H29.9V-68.1H27.8zM31.4 -70.1H33.5V-68.1H31.4zM40.4 -70.1H44.3V-68.1H40.4zM47.6 -70.1H51.5V-68.1H47.6zM54.9 -70.1H56.9V-68.1H54.9zM58.5 -70.1H62.3V-68.1H58.5zM-124.6 -71.9H-120.9V-69.9H-124.6zM6.1 -71.9H11.6V-69.9H6.1zM18.4 -71.9H22.2V-69.9H18.4zM25.5 -71.9H27.5V-69.9H25.5zM29.0 -71.9H36.3V-69.9H29.0zM39.6 -71.9H41.6V-69.9H39.6zM46.7 -71.9H48.7V-69.9H46.7zM50.2 -71.9H52.2V-69.9H50.2zM119.1 -71.9H121.1V-69.9H119.1zM-123.7 -73.6H-120.0V-71.6H-123.7zM7.7 -73.6H11.4V-71.6H7.7zM12.8 -73.6H14.8V-71.6H12.8zM21.5 -73.6H26.9V-71.6H21.5zM30.1 -73.6H32.1V-71.6H30.1zM33.6 -73.6H37.3V-71.6H33.6zM38.8 -73.6H42.5V-71.6H38.8zM45.7 -73.6H47.7V-71.6H45.7zM116.6 -73.6H118.5V-71.6H116.6zM-121.0 -75.3H-117.3V-73.4H-121.0zM9.2 -75.3H16.2V-73.4H9.2zM17.6 -75.3H24.6V-73.4H17.6zM31.1 -75.3H33.1V-73.4H31.1zM37.9 -75.3H39.8V-73.4H37.9zM43.0 -75.3H46.6V-73.4H43.0zM-101.6 -76.9H-98.1V-75.0H-101.6zM15.6 -76.9H20.7V-75.0H15.6zM38.7 -76.9H43.8V-75.0H38.7zM91.5 -76.9H93.3V-75.0H91.5zM94.8 -76.9H96.6V-75.0H94.8zM-50.7 -78.5H-48.9V-76.7H-50.7zM8.7 -78.5H12.2V-76.7H8.7zM32.8 -78.5H34.7V-76.7H32.8zM44.1 -78.5H45.9V-76.7H44.1zM58.5 -78.5H60.4V-76.7H58.5zM65.0 -78.5H66.8V-76.7H65.0zM68.2 -78.5H71.6V-76.7H68.2zM73.0 -78.5H74.9V-76.7H73.0zM76.2 -78.5H78.1V-76.7H76.2zM81.0 -78.5H82.9V-76.7H81.0zM85.9 -78.5H87.7V-76.7H85.9zM95.5 -78.5H97.4V-76.7H95.5zM58.4 -80.1H60.2V-78.3H58.4zM64.7 -80.1H69.6V-78.3H64.7zM62.7 -81.5H64.5V-79.8H62.7zM65.7 -81.5H69.0V-79.8H65.7z"/>
<path fill="#50BEF0" d="M-64.7 48.8H-60.2V51.1H-64.7zM142.7 48.8H145.1V51.1H142.7zM-65.4 46.8H-60.9V49.1H-65.4zM148.7 46.8H151.0V49.1H148.7zM-64.0 44.8H-59.4V47.1H-64.0zM124.3 44.8H126.7V47.1H124.3zM146.0 44.8H148.4V47.1H146.0zM152.5 44.8H154.9V47.1H152.5zM-66.8 42.8H-62.2V45.1H-66.8zM-54.5 26.5H-52.0V28.7H-54.5zM-54.7 24.4H-52.2V26.7H-54.7zM-59.6 22.4H-52.4V24.6H-59.6zM-47.9 22.4H-45.4V24.6H-47.9zM-59.8 20.3H-47.8V22.6H-59.8zM43.2 20.3H45.7V22.6H43.2zM-62.3 18.3H-57.4V20.6H-62.3zM-50.6 18.3H-48.0V20.6H-50.6zM-62.5 16.2H-55.2V18.5H-62.5zM-50.7 16.2H-48.1V18.5H-50.7zM-55.6 14.2H-48.3V16.5H-55.6zM-60.4 12.1H-57.8V14.4H-60.4zM-51.0 12.1H-48.4V14.4H-51.0zM-53.4 10.1H-50.8V12.4H-53.4zM-67.8 8.1H-65.2V10.3H-67.8zM-67.9 6.0H-65.2V8.3H-67.9zM22.5 4.0H25.1V6.3H22.5zM134.3 4.0H141.7V6.3H134.3zM-68.0 1.9H-65.3V4.2H-68.0zM-56.1 1.9H-53.4V4.2H-56.1zM20.1 1.9H27.5V4.2H20.1zM134.4 1.9H137.0V4.2H134.4zM-75.1 -0.1H-72.5V2.2H-75.1zM-63.2 -0.1H-60.6V2.2H-63.2zM98.7 -0.1H103.7V2.2H98.7zM-72.8 -2.2H-70.1V0.1H-72.8zM-60.9 -2.2H-58.2V0.1H-60.9zM20.1 -2.2H22.7V0.1H20.1zM96.3 -2.2H108.5V0.1H96.3zM-72.7 -4.2H-70.1V-1.9H-72.7zM103.4 -4.2H108.4V-1.9H103.4zM-72.7 -6.3H-70.1V-4.0H-72.7zM-70.2 -8.3H-67.6V-6.0H-70.2zM1.1 -8.3H3.7V-6.0H1.1zM112.8 -8.3H115.4V-6.0H112.8zM114.8 -12.4H117.4V-10.1H114.8zM-84.1 -14.4H-81.5V-12.1H-84.1zM114.6 -14.4H117.2V-12.1H114.6zM97.6 -18.5H100.2V-16.2H97.6zM92.0 -24.6H94.6V-22.4H92.0zM99.0 -24.6H101.6V-22.4H99.0zM106.0 -24.6H108.6V-22.4H106.0zM91.7 -26.7H94.2V-24.4H91.7zM98.7 -26.7H101.2V-24.4H98.7zM103.3 -26.7H108.2V-24.4H103.3zM95.9 -28.7H100.8V-26.5H95.9zM105.2 -28.7H107.7V-26.5H105.2zM79.4 -30.8H81.9V-28.5H79.4zM93.2 -30.8H95.7V-28.5H93.2zM97.8 -30.8H104.9V-28.5H97.8zM-83.7 -32.8H-81.2V-30.5H-83.7zM92.7 -32.8H95.2V-30.5H92.7zM99.5 -32.8H106.7V-30.5H99.5zM-87.8 -34.9H-85.3V-32.6H-87.8zM98.9 -34.9H101.5V-32.6H98.9zM-91.7 -36.9H-80.2V-34.6H-91.7zM120.9 -36.9H123.4V-34.6H120.9zM-91.0 -39.0H-88.6V-36.7H-91.0zM-74.7 -41.0H-72.3V-38.7H-74.7zM-65.8 -41.0H-63.4V-38.7H-65.8zM114.6 -41.0H117.0V-38.7H114.6zM119.0 -41.0H121.5V-38.7H119.0zM-89.5 -43.0H-87.1V-40.8H-89.5zM-85.1 -43.0H-82.7V-40.8H-85.1zM-76.3 -43.0H-73.8V-40.8H-76.3zM-66.8 -45.1H-62.2V-42.8H-66.8zM121.3 -45.1H123.7V-42.8H121.3zM-87.8 -47.1H-85.4V-44.8H-87.8zM-68.3 -47.1H-65.9V-44.8H-68.3zM9.6 -47.1H12.0V-44.8H9.6zM18.3 -47.1H20.7V-44.8H18.3zM24.8 -47.1H29.3V-44.8H24.8zM-86.8 -49.1H-84.4V-46.8H-86.8zM-1.2 -49.1H3.3V-46.8H-1.2zM5.2 -49.1H7.6V-46.8H5.2zM11.7 -49.1H24.7V-46.8H11.7zM26.6 -49.1H29.0V-46.8H26.6zM99.4 -49.1H112.5V-46.8H99.4zM118.7 -49.1H121.1V-46.8H118.7zM-68.9 -51.1H-66.5V-48.8H-68.9zM-5.4 -51.1H-3.1V-48.8H-5.4zM5.2 -51.1H9.6V-48.8H5.2zM11.5 -51.1H13.9V-48.8H11.5zM17.9 -51.1H20.2V-48.8H17.9zM22.1 -51.1H26.6V-48.8H22.1zM91.9 -51.1H94.3V-48.8H91.9zM96.2 -51.1H98.5V-48.8H96.2zM102.5 -51.1H107.0V-48.8H102.5zM117.3 -51.1H119.7V-48.8H117.3zM-105.7 -53.1H-103.4V-50.9H-105.7zM-80.6 -53.1H-78.3V-50.9H-80.6zM-76.4 -53.1H-74.1V-50.9H-76.4zM-70.2 -53.1H-65.7V-50.9H-70.2zM-5.3 -53.1H-0.9V-50.9H-5.3zM0.9 -53.1H3.3V-50.9H0.9zM15.6 -53.1H22.1V-50.9H15.6zM97.1 -53.1H105.7V-50.9H97.1zM107.6 -53.1H109.9V-50.9H107.6zM-104.4 -55.1H-102.1V-52.8H-104.4zM-83.7 -55.1H-81.4V-52.8H-83.7zM-79.6 -55.1H-77.3V-52.8H-79.6zM-75.5 -55.1H-69.0V-52.8H-75.5zM-67.2 -55.1H-64.9V-52.8H-67.2zM-63.1 -55.1H-60.8V-52.8H-63.1zM-7.3 -55.1H-0.9V-52.8H-7.3zM11.2 -55.1H15.6V-52.8H11.2zM17.4 -55.1H23.9V-52.8H17.4zM79.4 -55.1H83.7V-52.8H79.4zM85.5 -55.1H96.1V-52.8H85.5zM112.4 -55.1H116.7V-52.8H112.4zM-105.0 -57.0H-98.6V-54.8H-105.0zM-82.6 -57.0H-80.3V-54.8H-82.6zM-74.4 -57.0H-70.1V-54.8H-74.4zM-54.1 -57.0H-51.8V-54.8H-54.1zM11.1 -57.0H17.4V-54.8H11.1zM76.2 -57.0H78.5V-54.8H76.2zM82.3 -57.0H84.6V-54.8H82.3zM96.6 -57.0H105.0V-54.8H96.6zM106.7 -57.0H109.0V-54.8H106.7zM112.9 -57.0H117.2V-54.8H112.9zM-97.4 -59.0H-95.1V-56.8H-97.4zM-93.4 -59.0H-91.1V-56.8H-93.4zM-75.3 -59.0H-73.1V-56.8H-75.3zM-71.3 -59.0H-67.1V-56.8H-71.3zM-63.3 -59.0H-59.0V-56.8H-63.3zM-53.3 -59.0H-51.0V-56.8H-53.3zM-7.1 -59.0H-4.9V-56.8H-7.1zM-3.1 -59.0H-0.9V-56.8H-3.1zM10.9 -59.0H17.2V-56.8H10.9zM31.0 -59.0H33.2V-56.8H31.0zM45.0 -59.0H47.2V-56.8H45.0zM55.0 -59.0H57.3V-56.8H55.0zM63.1 -59.0H65.3V-56.8H63.1zM67.1 -59.0H69.3V-56.8H67.1zM77.1 -59.0H79.3V-56.8H77.1zM95.1 -59.0H97.4V-56.8H95.1zM105.2 -59.0H109.4V-56.8H105.2zM-101.8 -60.9H-99.6V-58.7H-101.8zM-95.9 -60.9H-93.6V-58.7H-95.9zM-88.0 -60.9H-83.8V-58.7H-88.0zM-82.0 -60.9H-77.8V-58.7H-82.0zM-70.2 -60.9H-66.0V-58.7H-70.2zM-62.3 -60.9H-60.1V-58.7H-62.3zM-5.1 -60.9H-0.9V-58.7H-5.1zM22.6 -60.9H30.7V-58.7H22.6zM34.4 -60.9H36.6V-58.7H34.4zM40.3 -60.9H42.6V-58.7H40.3zM46.3 -60.9H50.5V-58.7H46.3zM56.1 -60.9H58.4V-58.7H56.1zM64.0 -60.9H66.2V-58.7H64.0zM71.9 -60.9H74.1V-58.7H71.9zM75.9 -60.9H78.1V-58.7H75.9zM81.8 -60.9H84.0V-58.7H81.8zM103.5 -60.9H105.7V-58.7H103.5zM111.4 -60.9H113.6V-58.7H111.4zM119.3 -60.9H121.5V-58.7H119.3zM-104.0 -62.8H-96.0V-60.6H-104.0zM-82.6 -62.8H-80.4V-60.6H-82.6zM-59.3 -62.8H-57.2V-60.6H-59.3zM10.6 -62.8H14.7V-60.6H10.6zM24.1 -62.8H26.3V-60.6H24.1zM33.9 -62.8H38.0V-60.6H33.9zM39.7 -62.8H51.6V-60.6H39.7zM53.3 -62.8H55.4V-60.6H53.3zM63.0 -62.8H65.2V-60.6H63.0zM76.6 -62.8H78.7V-60.6H76.6zM86.3 -62.8H88.5V-60.6H86.3zM105.7 -62.8H107.9V-60.6H105.7zM113.5 -62.8H115.6V-60.6H113.5zM117.3 -62.8H119.5V-60.6H117.3zM-121.3 -64.7H-119.1V-62.5H-121.3zM-117.5 -64.7H-115.3V-62.5H-117.5zM-107.9 -64.7H-105.8V-62.5H-107.9zM-102.2 -64.7H-100.0V-62.5H-102.2zM-79.3 -64.7H-71.4V-62.5H-79.3zM6.6 -64.7H10.6V-62.5H6.6zM12.3 -64.7H14.4V-62.5H12.3zM35.2 -64.7H37.3V-62.5H35.2zM46.6 -64.7H48.8V-62.5H46.6zM52.3 -64.7H54.5V-62.5H52.3zM67.6 -64.7H75.5V-62.5H67.6zM96.2 -64.7H98.4V-62.5H96.2zM-126.6 -66.5H-124.5V-64.4H-126.6zM-117.2 -66.5H-113.2V-64.4H-117.2zM-106.0 -66.5H-103.9V-64.4H-106.0zM-100.4 -66.5H-98.2V-64.4H-100.4zM-81.6 -66.5H-79.5V-64.4H-81.6zM6.4 -66.5H10.4V-64.4H6.4zM12.1 -66.5H17.9V-64.4H12.1zM27.0 -66.5H32.9V-64.4H27.0zM38.3 -66.5H40.4V-64.4H38.3zM43.9 -66.5H46.0V-64.4H43.9zM55.1 -66.5H59.1V-64.4H55.1zM83.3 -66.5H85.4V-64.4H83.3zM87.0 -66.5H89.1V-64.4H87.0zM92.6 -66.5H94.7V-64.4H92.6zM122.6 -66.5H124.7V-64.4H122.6zM-115.0 -68.3H-112.9V-66.3H-115.0zM-111.3 -68.3H-109.3V-66.3H-111.3zM-83.8 -68.3H-81.7V-66.3H-83.8zM-80.1 -68.3H-78.0V-66.3H-80.1zM6.3 -68.3H17.6V-66.3H6.3zM24.7 -68.3H26.8V-66.3H24.7zM30.2 -68.3H34.1V-66.3H30.2zM89.0 -68.3H93.0V-66.3H89.0zM-114.6 -70.1H-112.5V-68.1H-114.6zM8.0 -70.1H10.0V-68.1H8.0zM20.6 -70.1H22.7V-68.1H20.6zM29.6 -70.1H31.7V-68.1H29.6zM33.2 -70.1H35.3V-68.1H33.2zM38.6 -70.1H40.7V-68.1H38.6zM45.8 -70.1H47.9V-68.1H45.8zM56.7 -70.1H58.7V-68.1H56.7zM62.1 -70.1H64.1V-68.1H62.1zM121.6 -70.1H123.6V-68.1H121.6zM-121.1 -71.9H-119.1V-69.9H-121.1zM-114.0 -71.9H-112.0V-69.9H-114.0zM11.4 -71.9H13.4V-69.9H11.4zM14.9 -71.9H18.7V-69.9H14.9zM37.8 -71.9H39.9V-69.9H37.8zM44.9 -71.9H46.9V-69.9H44.9zM48.4 -71.9H50.5V-69.9H48.4zM-20.0 -73.6H-16.3V-71.6H-20.0zM11.1 -73.6H13.1V-71.6H11.1zM14.6 -73.6H21.7V-71.6H14.6zM31.9 -73.6H33.8V-71.6H31.9zM44.0 -73.6H45.9V-71.6H44.0zM-19.6 -75.3H-17.6V-73.4H-19.6zM41.3 -75.3H43.2V-73.4H41.3zM112.3 -75.3H114.2V-73.4H112.3zM-19.1 -76.9H-13.9V-75.0H-19.1zM56.8 -76.9H58.7V-75.0H56.8zM93.1 -76.9H95.0V-75.0H93.1zM98.1 -76.9H99.9V-75.0H98.1zM104.6 -76.9H106.5V-75.0H104.6zM55.3 -78.5H58.8V-76.7H55.3zM60.2 -78.5H62.0V-76.7H60.2zM71.4 -78.5H73.2V-76.7H71.4zM60.0 -80.1H61.8V-78.3H60.0zM69.4 -80.1H72.7V-78.3H69.4zM-27.8 -84.1H-14.8V-82.6H-27.8z"/>
<path fill="#C8E6F8" d="M100.4 -51.1H102.8V-48.8H100.4zM90.8 -53.1H93.2V-50.9H90.8zM95.0 -53.1H97.4V-50.9H95.0zM109.7 -53.1H114.1V-50.9H109.7zM-77.5 -55.1H-75.2V-52.8H-77.5zM97.9 -55.1H102.3V-52.8H97.9zM-92.7 -57.0H-90.5V-54.8H-92.7zM-76.5 -57.0H-74.2V-54.8H-76.5zM-68.3 -57.0H-66.0V-54.8H-68.3zM78.3 -57.0H82.6V-54.8H78.3zM84.4 -57.0H86.6V-54.8H84.4zM90.5 -57.0H92.7V-54.8H90.5zM94.5 -57.0H96.8V-54.8H94.5zM104.7 -57.0H107.0V-54.8H104.7zM-89.4 -59.0H-87.1V-56.8H-89.4zM71.1 -59.0H77.3V-56.8H71.1zM79.1 -59.0H85.3V-56.8H79.1zM91.1 -59.0H95.4V-56.8H91.1zM109.2 -59.0H111.4V-56.8H109.2zM-103.8 -60.9H-101.5V-58.7H-103.8zM-99.8 -60.9H-97.6V-58.7H-99.8zM-72.2 -60.9H-70.0V-58.7H-72.2zM54.2 -60.9H56.4V-58.7H54.2zM66.0 -60.9H68.2V-58.7H66.0zM70.0 -60.9H72.2V-58.7H70.0zM83.8 -60.9H88.0V-58.7H83.8zM93.6 -60.9H99.8V-58.7H93.6zM105.5 -60.9H107.7V-58.7H105.5zM109.4 -60.9H111.6V-58.7H109.4zM-105.9 -62.8H-103.7V-60.6H-105.9zM-76.8 -62.8H-74.6V-60.6H-76.8zM51.3 -62.8H53.5V-60.6H51.3zM55.2 -62.8H57.4V-60.6H55.2zM80.4 -62.8H82.6V-60.6H80.4zM84.3 -62.8H86.5V-60.6H84.3zM115.4 -62.8H117.6V-60.6H115.4zM-109.8 -64.7H-107.7V-62.5H-109.8zM-81.2 -64.7H-79.1V-62.5H-81.2zM44.7 -64.7H46.9V-62.5H44.7zM50.4 -64.7H52.6V-62.5H50.4zM79.1 -64.7H81.2V-62.5H79.1zM84.8 -64.7H86.9V-62.5H84.8zM90.5 -64.7H92.7V-62.5H90.5zM-109.7 -66.5H-107.6V-64.4H-109.7zM-79.7 -66.5H-77.6V-64.4H-79.7zM-76.0 -66.5H-73.9V-64.4H-76.0zM58.9 -66.5H61.0V-64.4H58.9zM66.4 -66.5H68.5V-64.4H66.4zM75.8 -66.5H77.9V-64.4H75.8zM79.5 -66.5H83.5V-64.4H79.5zM88.9 -66.5H92.9V-64.4H88.9zM109.5 -66.5H111.6V-64.4H109.5zM-120.5 -68.3H-118.5V-66.3H-120.5zM-109.5 -68.3H-107.4V-66.3H-109.5zM-81.9 -68.3H-79.8V-66.3H-81.9zM-78.3 -68.3H-74.3V-66.3H-78.3zM28.4 -68.3H30.5V-66.3H28.4zM41.2 -68.3H43.3V-66.3H41.2zM44.9 -68.3H47.0V-66.3H44.9zM54.1 -68.3H56.2V-66.3H54.1zM81.7 -68.3H83.8V-66.3H81.7zM122.1 -68.3H124.2V-66.3H122.1zM-118.2 -70.1H-116.1V-68.1H-118.2zM-111.0 -70.1H-108.9V-68.1H-111.0zM9.8 -70.1H11.8V-68.1H9.8zM22.4 -70.1H24.5V-68.1H22.4zM35.0 -70.1H37.1V-68.1H35.0zM51.3 -70.1H55.1V-68.1H51.3zM63.9 -70.1H65.9V-68.1H63.9zM-112.3 -71.9H-110.3V-69.9H-112.3zM13.1 -71.9H15.1V-69.9H13.1zM22.0 -71.9H24.0V-69.9H22.0zM43.6 -76.9H45.5V-75.0H43.6zM96.4 -76.9H98.3V-75.0H96.4zM61.6 -80.1H64.9V-78.3H61.6z"/>
<path fill="#FFD728" d="M98.3 -51.1H100.6V-48.8H98.3zM102.1 -55.1H110.6V-52.8H102.1zM-101.4 -59.0H-97.1V-56.8H-101.4zM-73.3 -59.0H-71.1V-56.8H-73.3zM85.1 -59.0H87.4V-56.8H85.1zM99.6 -60.9H101.8V-58.7H99.6zM-74.9 -62.8H-72.7V-60.6H-74.9zM57.2 -62.8H59.3V-60.6H57.2zM66.9 -62.8H71.0V-60.6H66.9zM78.5 -62.8H80.7V-60.6H78.5zM82.4 -62.8H84.6V-60.6H82.4zM94.0 -62.8H96.2V-60.6H94.0zM99.9 -62.8H102.0V-60.6H99.9zM-106.0 -64.7H-103.9V-62.5H-106.0zM-100.3 -64.7H-96.2V-62.5H-100.3zM75.2 -64.7H77.4V-62.5H75.2zM81.0 -64.7H83.1V-62.5H81.0zM86.7 -64.7H88.8V-62.5H86.7zM102.0 -64.7H107.9V-62.5H102.0zM113.4 -64.7H115.5V-62.5H113.4zM-121.0 -66.5H-118.8V-64.4H-121.0zM-111.6 -66.5H-109.5V-64.4H-111.6zM-116.9 -68.3H-114.8V-66.3H-116.9zM26.5 -68.3H28.6V-66.3H26.5zM43.1 -68.3H45.2V-66.3H43.1zM-116.4 -70.1H-114.3V-68.1H-116.4zM24.2 -70.1H28.1V-68.1H24.2zM36.8 -70.1H38.9V-68.1H36.8zM-117.6 -71.9H-115.6V-69.9H-117.6zM23.7 -71.9H25.7V-69.9H23.7zM-100.7 -75.3H-98.8V-73.4H-100.7zM-95.6 -75.3H-93.7V-73.4H-95.6zM108.9 -75.3H110.8V-73.4H108.9zM-106.5 -76.9H-104.6V-75.0H-106.5zM53.7 -78.5H55.6V-76.7H53.7zM66.6 -78.5H68.4V-76.7H66.6zM74.6 -78.5H76.5V-76.7H74.6z"/>
<path fill="#FF8C00" d="M88.4 -57.0H90.7V-54.8H88.4zM103.2 -59.0H105.4V-56.8H103.2zM-93.9 -60.9H-91.7V-58.7H-93.9zM-84.0 -60.9H-81.8V-58.7H-84.0zM-74.1 -60.9H-71.9V-58.7H-74.1zM91.7 -60.9H93.9V-58.7H91.7zM-90.4 -62.8H-88.2V-60.6H-90.4zM97.9 -62.8H100.1V-60.6H97.9zM107.6 -62.8H109.8V-60.6H107.6zM-83.1 -64.7H-81.0V-62.5H-83.1zM77.1 -64.7H79.3V-62.5H77.1zM-119.1 -66.5H-117.0V-64.4H-119.1zM-83.5 -66.5H-81.4V-64.4H-83.5zM-105.8 -68.3H-103.7V-66.3H-105.8zM56.0 -68.3H58.0V-66.3H56.0zM63.3 -68.3H65.4V-66.3H63.3zM87.2 -68.3H89.3V-66.3H87.2zM112.9 -68.3H115.0V-66.3H112.9zM-98.4 -70.1H-96.3V-68.1H-98.4zM-119.3 -71.9H-117.3V-69.9H-119.3zM-91.1 -71.9H-89.1V-69.9H-91.1zM71.4 -71.9H73.4V-69.9H71.4zM-120.3 -73.6H-118.3V-71.6H-120.3zM-113.3 -73.6H-111.4V-71.6H-113.3zM-90.9 -73.6H-88.9V-71.6H-90.9zM75.1 -73.6H77.0V-71.6H75.1zM-104.9 -76.9H-103.0V-75.0H-104.9zM101.3 -76.9H103.2V-75.0H101.3zM47.3 -78.5H49.1V-76.7H47.3z"/>
<path fill="#FF0000" d="M95.9 -55.1H98.2V-52.8H95.9zM-91.4 -59.0H-89.1V-56.8H-91.4zM-87.4 -59.0H-85.1V-56.8H-87.4zM-89.9 -60.9H-87.7V-58.7H-89.9zM-92.3 -62.8H-90.2V-60.6H-92.3zM98.1 -64.7H100.3V-62.5H98.1zM-102.2 -66.5H-100.1V-64.4H-102.2zM107.6 -66.5H109.7V-64.4H107.6zM113.2 -66.5H115.3V-64.4H113.2zM117.0 -66.5H121.0V-64.4H117.0zM85.4 -68.3H87.4V-66.3H85.4zM-107.4 -70.1H-105.3V-68.1H-107.4zM44.0 -70.1H46.1V-68.1H44.0zM36.1 -71.9H38.1V-69.9H36.1zM55.5 -71.9H57.5V-69.9H55.5zM73.2 -71.9H75.2V-69.9H73.2zM76.7 -71.9H78.7V-69.9H76.7zM-111.6 -73.6H-109.6V-71.6H-111.6zM-97.3 -75.3H-95.4V-73.4H-97.3zM99.7 -76.9H101.6V-75.0H99.7z"/>
<path fill="#D72828" d="M110.3 -55.1H112.6V-52.8H110.3zM86.4 -57.0H88.7V-54.8H86.4zM87.1 -59.0H91.4V-56.8H87.1zM-97.8 -60.9H-95.6V-58.7H-97.8zM68.0 -60.9H70.2V-58.7H68.0zM87.7 -60.9H91.9V-58.7H87.7zM101.5 -60.9H103.8V-58.7H101.5zM-96.2 -62.8H-92.1V-60.6H-96.2zM-88.5 -62.8H-82.4V-60.6H-88.5zM70.7 -62.8H72.9V-60.6H70.7zM90.2 -62.8H94.3V-60.6H90.2zM96.0 -62.8H98.2V-60.6H96.0zM101.8 -62.8H105.9V-60.6H101.8zM-96.5 -64.7H-82.9V-62.5H-96.5zM92.4 -64.7H94.6V-62.5H92.4zM100.0 -64.7H102.2V-62.5H100.0zM-107.8 -66.5H-105.7V-64.4H-107.8zM-104.1 -66.5H-102.0V-64.4H-104.1zM-98.5 -66.5H-83.3V-64.4H-98.5zM68.3 -66.5H76.0V-64.4H68.3zM77.6 -66.5H79.7V-64.4H77.6zM85.1 -66.5H87.2V-64.4H85.1zM94.5 -66.5H107.8V-64.4H94.5zM111.4 -66.5H113.5V-64.4H111.4zM120.7 -66.5H122.8V-64.4H120.7zM-118.7 -68.3H-116.6V-66.3H-118.7zM-107.7 -68.3H-105.6V-66.3H-107.7zM-104.0 -68.3H-83.5V-66.3H-104.0zM65.1 -68.3H81.9V-66.3H65.1zM83.5 -68.3H85.6V-66.3H83.5zM92.7 -68.3H113.2V-66.3H92.7zM114.8 -68.3H122.4V-66.3H114.8zM-109.2 -70.1H-107.1V-68.1H-109.2zM-105.6 -70.1H-98.1V-68.1H-105.6zM-96.6 -70.1H-72.9V-68.1H-96.6zM65.7 -70.1H121.8V-68.1H65.7zM-115.8 -71.9H-113.8V-69.9H-115.8zM-110.5 -71.9H-90.8V-69.9H-110.5zM-89.3 -71.9H-69.6V-69.9H-89.3zM52.0 -71.9H55.7V-69.9H52.0zM57.3 -71.9H71.6V-69.9H57.3zM74.9 -71.9H76.9V-69.9H74.9zM78.5 -71.9H119.3V-69.9H78.5zM-116.8 -73.6H-113.1V-71.6H-116.8zM-109.9 -73.6H-90.6V-71.6H-109.9zM-89.1 -73.6H-83.7V-71.6H-89.1zM47.4 -73.6H75.3V-71.6H47.4zM76.8 -73.6H116.8V-71.6H76.8zM-112.5 -75.3H-100.4V-73.4H-112.5zM-99.0 -75.3H-97.1V-73.4H-99.0zM-93.9 -75.3H-86.9V-73.4H-93.9zM-17.9 -75.3H-14.2V-73.4H-17.9zM46.4 -75.3H109.1V-73.4H46.4zM110.6 -75.3H112.5V-73.4H110.6zM-108.2 -76.9H-106.3V-75.0H-108.2zM-103.2 -76.9H-101.3V-75.0H-103.2zM-86.7 -76.9H-84.9V-75.0H-86.7zM45.3 -76.9H57.0V-75.0H45.3zM58.5 -76.9H91.7V-75.0H58.5zM103.0 -76.9H104.9V-75.0H103.0zM45.7 -78.5H47.5V-76.7H45.7zM50.5 -78.5H54.0V-76.7H50.5zM61.8 -78.5H65.2V-76.7H61.8zM77.8 -78.5H81.3V-76.7H77.8zM-15.0 -84.1H-12.0V-82.6H-15.0z"/></g></g><use href="#coast"/></g><use href="#frame"/></g>
<g transform="translate(525.0 220.4)"><g clip-path="url(#fc)"><g clip-path="url(#lc)"><use href="#som"/></g><use href="#coast"/></g><use href="#frame"/></g>
<g transform="translate(175.0 497.2)"><g clip-path="url(#fc)"><g clip-path="url(#lc)"><g><path fill="#4010F0" d="M24.1 28.5H26.6V30.8H24.1zM24.2 26.5H26.7V28.7H24.2zM-70.3 -6.3H-67.7V-4.0H-70.3zM-72.6 -8.3H-67.6V-6.0H-72.6zM-72.5 -10.3H-67.5V-8.1H-72.5zM38.9 -41.0H41.3V-38.7H38.9zM29.7 -43.0H36.5V-40.8H29.7zM-86.5 -45.1H-84.1V-42.8H-86.5zM-79.9 -45.1H-77.5V-42.8H-79.9zM-66.8 -45.1H-64.4V-42.8H-66.8zM-102.9 -47.1H-100.5V-44.8H-102.9zM-98.6 -47.1H-96.2V-44.8H-98.6zM-94.3 -47.1H-89.7V-44.8H-94.3zM-85.6 -47.1H-81.0V-44.8H-85.6zM-64.0 -47.1H-59.4V-44.8H-64.0zM-5.5 -47.1H-1.0V-44.8H-5.5zM-101.8 -49.1H-90.9V-46.8H-101.8zM-82.5 -49.1H-78.0V-46.8H-82.5zM-3.3 -49.1H5.5V-46.8H-3.3zM101.6 -49.1H103.9V-46.8H101.6zM-98.5 -51.1H-94.1V-48.8H-98.5zM-92.2 -51.1H-83.5V-48.8H-92.2zM0.9 -51.1H7.5V-48.8H0.9zM-97.4 -53.1H-95.0V-50.9H-97.4zM-93.2 -53.1H-90.8V-50.9H-93.2zM-89.0 -53.1H-84.6V-50.9H-89.0zM-1.2 -53.1H1.2V-50.9H-1.2zM3.0 -53.1H9.5V-50.9H3.0zM-94.0 -55.1H-81.4V-52.8H-94.0zM3.0 -55.1H7.3V-52.8H3.0zM9.2 -55.1H13.5V-52.8H9.2zM71.1 -55.1H73.4V-52.8H71.1zM-5.2 -57.0H-2.9V-54.8H-5.2zM31.4 -57.0H35.7V-54.8H31.4zM37.5 -57.0H39.8V-54.8H37.5zM41.6 -57.0H43.9V-54.8H41.6zM47.7 -57.0H52.0V-54.8H47.7zM53.8 -57.0H58.1V-54.8H53.8zM37.0 -59.0H43.2V-56.8H37.0zM45.0 -59.0H47.2V-56.8H45.0zM49.0 -59.0H61.3V-56.8H49.0zM67.1 -59.0H69.3V-56.8H67.1z"/>
<path fill="#2841E6" d="M112.3 -41.0H114.8V-38.7H112.3zM38.5 -43.0H43.2V-40.8H38.5zM-104.0 -45.1H-101.6V-42.8H-104.0zM-109.4 -47.1H-107.0V-44.8H-109.4zM-100.8 -47.1H-98.4V-44.8H-100.8zM-79.1 -47.1H-76.7V-44.8H-79.1zM-74.8 -47.1H-72.4V-44.8H-74.8zM-91.1 -49.1H-88.7V-46.8H-91.1zM-78.3 -49.1H-75.9V-46.8H-78.3zM-74.0 -49.1H-71.6V-46.8H-74.0zM-5.5 -49.1H-3.1V-46.8H-5.5zM5.2 -49.1H7.6V-46.8H5.2zM-102.8 -51.1H-100.4V-48.8H-102.8zM-1.2 -51.1H1.2V-48.8H-1.2zM7.3 -51.1H9.6V-48.8H7.3zM-95.3 -53.1H-92.9V-50.9H-95.3zM-84.8 -53.1H-82.5V-50.9H-84.8zM72.0 -53.1H74.4V-50.9H72.0zM-3.2 -55.1H-0.9V-52.8H-3.2zM31.9 -55.1H38.3V-52.8H31.9zM-84.6 -57.0H-80.3V-54.8H-84.6zM7.0 -57.0H9.3V-54.8H7.0zM43.6 -57.0H45.9V-54.8H43.6zM51.8 -57.0H54.1V-54.8H51.8zM68.1 -57.0H70.3V-54.8H68.1zM35.0 -59.0H37.2V-56.8H35.0zM69.1 -59.0H71.3V-56.8H69.1zM50.2 -60.9H52.4V-58.7H50.2z"/>
<path fill="#3278F0" d="M-62.1 20.3H-59.5V22.6H-62.1zM-72.7 -6.3H-70.1V-4.0H-72.7zM43.3 -41.0H45.8V-38.7H43.3zM-111.6 -43.0H-109.2V-40.8H-111.6zM-110.6 -45.1H-108.1V-42.8H-110.6zM-97.4 -45.1H-95.0V-42.8H-97.4zM-84.3 -45.1H-79.7V-42.8H-84.3zM-77.8 -45.1H-75.3V-42.8H-77.8zM-73.4 -45.1H-71.0V-42.8H-73.4zM-62.4 -45.1H-60.0V-42.8H-62.4zM-96.4 -47.1H-94.0V-44.8H-96.4zM-89.9 -47.1H-87.5V-44.8H-89.9zM-66.1 -47.1H-63.7V-44.8H-66.1zM-1.2 -47.1H1.2V-44.8H-1.2zM102.7 -47.1H105.1V-44.8H102.7zM-71.8 -49.1H-67.3V-46.8H-71.8zM-5.4 -51.1H-0.9V-48.8H-5.4zM9.4 -51.1H13.9V-48.8H9.4zM-99.4 -53.1H-97.1V-50.9H-99.4zM-82.7 -53.1H-80.4V-50.9H-82.7zM-76.4 -53.1H-74.1V-50.9H-76.4zM9.3 -53.1H11.6V-50.9H9.3zM-96.1 -55.1H-93.8V-52.8H-96.1zM7.1 -55.1H9.4V-52.8H7.1zM-92.7 -57.0H-90.5V-54.8H-92.7zM-86.6 -57.0H-84.4V-54.8H-86.6zM-78.5 -57.0H-76.2V-54.8H-78.5zM-3.2 -57.0H-0.9V-54.8H-3.2zM29.4 -57.0H31.7V-54.8H29.4zM35.5 -57.0H37.8V-54.8H35.5zM45.7 -57.0H48.0V-54.8H45.7zM66.0 -57.0H68.3V-54.8H66.0zM70.1 -57.0H72.4V-54.8H70.1zM31.0 -59.0H33.2V-56.8H31.0zM43.0 -59.0H45.2V-56.8H43.0zM61.0 -59.0H63.3V-56.8H61.0zM65.1 -59.0H67.3V-56.8H65.1zM-3.1 -60.9H-0.9V-58.7H-3.1zM52.2 -60.9H54.4V-58.7H52.2z"/>
<path fill="#14A0FF" d="M132.2 34.6H134.7V36.9H132.2zM21.8 28.5H24.3V30.8H21.8zM26.4 28.5H28.9V30.8H26.4zM-61.9 22.4H-59.4V24.6H-61.9zM-72.4 -12.4H-69.8V-10.1H-72.4zM61.6 -39.0H64.1V-36.7H61.6zM-112.6 -41.0H-110.1V-38.7H-112.6zM27.7 -41.0H32.4V-38.7H27.7zM34.4 -41.0H39.1V-38.7H34.4zM41.1 -41.0H43.5V-38.7H41.1zM45.5 -41.0H48.0V-38.7H45.5zM-109.4 -43.0H-107.0V-40.8H-109.4zM45.1 -43.0H47.6V-40.8H45.1zM98.1 -43.0H100.6V-40.8H98.1zM-108.4 -45.1H-105.9V-42.8H-108.4zM-99.6 -45.1H-97.2V-42.8H-99.6zM-95.2 -45.1H-90.6V-42.8H-95.2zM-88.7 -45.1H-86.3V-42.8H-88.7zM-75.6 -45.1H-73.1V-42.8H-75.6zM101.6 -45.1H104.0V-42.8H101.6zM-81.3 -47.1H-78.9V-44.8H-81.3zM-72.6 -47.1H-68.1V-44.8H-72.6zM1.0 -47.1H3.4V-44.8H1.0zM50.7 -47.1H53.1V-44.8H50.7zM-89.0 -49.1H-84.4V-46.8H-89.0zM-76.1 -49.1H-73.7V-46.8H-76.1zM99.4 -49.1H101.8V-46.8H99.4zM-81.6 -51.1H-79.2V-48.8H-81.6zM-77.4 -51.1H-72.9V-48.8H-77.4zM-101.5 -53.1H-99.2V-50.9H-101.5zM-91.1 -53.1H-88.7V-50.9H-91.1zM11.4 -53.1H13.7V-50.9H11.4zM-98.2 -55.1H-95.9V-52.8H-98.2zM-77.5 -55.1H-75.2V-52.8H-77.5zM13.3 -55.1H15.6V-52.8H13.3zM42.2 -55.1H44.5V-52.8H42.2zM67.0 -55.1H69.3V-52.8H67.0zM-90.7 -57.0H-86.4V-54.8H-90.7zM-80.5 -57.0H-78.3V-54.8H-80.5zM9.0 -57.0H11.3V-54.8H9.0zM64.0 -57.0H66.3V-54.8H64.0zM-81.3 -59.0H-79.1V-56.8H-81.3zM-3.1 -59.0H-0.9V-56.8H-3.1zM33.0 -59.0H35.2V-56.8H33.0zM47.0 -59.0H49.3V-56.8H47.0zM63.1 -59.0H65.3V-56.8H63.1zM71.1 -59.0H73.3V-56.8H71.1zM-5.1 -60.9H-2.8V-58.7H-5.1z"/>
<path fill="#46BEF5" d="M-57.6 50.9H-53.2V53.1H-57.6zM-58.3 48.8H-53.8V51.1H-58.3zM-59.0 46.8H-54.5V49.1H-59.0zM106.5 36.7H109.0V39.0H106.5zM131.2 36.7H133.7V39.0H131.2zM134.5 34.6H137.0V36.9H134.5zM133.1 32.6H135.6V34.9H133.1zM107.0 28.5H111.8V30.8H107.0zM123.1 28.5H128.0V30.8H123.1zM109.8 26.5H112.4V28.7H109.8zM-64.5 20.3H-61.9V22.6H-64.5zM-59.8 20.3H-57.2V22.6H-59.8zM-62.3 18.3H-59.7V20.6H-62.3zM-72.7 -4.2H-67.7V-1.9H-72.7zM104.3 -20.6H106.9V-18.3H104.3zM78.3 -22.6H80.8V-20.3H78.3zM106.3 -22.6H108.9V-20.3H106.3zM54.3 -28.7H56.8V-26.5H54.3zM47.1 -30.8H49.6V-28.5H47.1zM44.6 -32.8H49.4V-30.5H44.6zM56.0 -32.8H60.8V-30.5H56.0zM7.9 -34.9H12.6V-32.6H7.9zM46.6 -34.9H51.4V-32.6H46.6zM55.7 -34.9H58.2V-32.6H55.7zM32.7 -36.9H35.2V-34.6H32.7zM44.0 -36.9H46.5V-34.6H44.0zM59.8 -36.9H62.3V-34.6H59.8zM77.9 -36.9H80.4V-34.6H77.9zM34.7 -39.0H39.4V-36.7H34.7zM52.6 -39.0H57.4V-36.7H52.6zM59.4 -39.0H61.9V-36.7H59.4zM75.1 -39.0H79.8V-36.7H75.1zM113.3 -39.0H115.7V-36.7H113.3zM-110.4 -41.0H-107.9V-38.7H-110.4zM25.5 -41.0H28.0V-38.7H25.5zM32.2 -41.0H34.6V-38.7H32.2zM47.8 -41.0H56.9V-38.7H47.8zM72.3 -41.0H74.7V-38.7H72.3zM-107.2 -43.0H-100.3V-40.8H-107.2zM-96.2 -43.0H-91.5V-40.8H-96.2zM-76.3 -43.0H-73.8V-40.8H-76.3zM25.3 -43.0H29.9V-40.8H25.3zM36.3 -43.0H38.8V-40.8H36.3zM42.9 -43.0H45.4V-40.8H42.9zM47.3 -43.0H56.4V-40.8H47.3zM69.4 -43.0H74.1V-40.8H69.4zM-106.2 -45.1H-103.8V-42.8H-106.2zM-101.8 -45.1H-99.4V-42.8H-101.8zM-90.9 -45.1H-88.4V-42.8H-90.9zM-69.0 -45.1H-66.6V-42.8H-69.0zM49.1 -45.1H58.1V-42.8H49.1zM-107.3 -47.1H-102.7V-44.8H-107.3zM-87.8 -47.1H-85.4V-44.8H-87.8zM-68.3 -47.1H-65.9V-44.8H-68.3zM48.6 -47.1H51.0V-44.8H48.6zM52.9 -47.1H55.3V-44.8H52.9zM-108.2 -49.1H-103.7V-46.8H-108.2zM-84.7 -49.1H-82.3V-46.8H-84.7zM-67.6 -49.1H-65.2V-46.8H-67.6zM7.4 -49.1H9.8V-46.8H7.4zM48.0 -49.1H52.6V-46.8H48.0zM-107.0 -51.1H-104.6V-48.8H-107.0zM-100.6 -51.1H-98.3V-48.8H-100.6zM-94.3 -51.1H-91.9V-48.8H-94.3zM-83.7 -51.1H-81.4V-48.8H-83.7zM49.6 -51.1H52.0V-48.8H49.6zM72.9 -51.1H75.3V-48.8H72.9zM100.4 -51.1H102.8V-48.8H100.4zM-103.6 -53.1H-101.3V-50.9H-103.6zM-80.6 -53.1H-78.3V-50.9H-80.6zM-5.3 -53.1H-0.9V-50.9H-5.3zM0.9 -53.1H3.3V-50.9H0.9zM40.7 -53.1H43.0V-50.9H40.7zM44.8 -53.1H47.2V-50.9H44.8zM49.0 -53.1H51.4V-50.9H49.0zM59.5 -53.1H61.8V-50.9H59.5zM69.9 -53.1H72.3V-50.9H69.9zM74.1 -53.1H76.4V-50.9H74.1zM-81.7 -55.1H-77.3V-52.8H-81.7zM-75.5 -55.1H-71.1V-52.8H-75.5zM-54.8 -55.1H-52.5V-52.8H-54.8zM-5.3 -55.1H-3.0V-52.8H-5.3zM-1.2 -55.1H3.2V-52.8H-1.2zM38.1 -55.1H42.4V-52.8H38.1zM44.3 -55.1H46.6V-52.8H44.3zM48.4 -55.1H65.1V-52.8H48.4zM69.0 -55.1H71.3V-52.8H69.0zM73.2 -55.1H75.5V-52.8H73.2zM-96.8 -57.0H-92.5V-54.8H-96.8zM-76.5 -57.0H-72.1V-54.8H-76.5zM-56.1 -57.0H-51.8V-54.8H-56.1zM-7.2 -57.0H-5.0V-54.8H-7.2zM-1.1 -57.0H7.2V-54.8H-1.1zM11.1 -57.0H15.4V-54.8H11.1zM39.6 -57.0H41.8V-54.8H39.6zM57.9 -57.0H64.2V-54.8H57.9zM72.1 -57.0H74.4V-54.8H72.1zM-79.3 -59.0H-77.1V-56.8H-79.3zM-55.3 -59.0H-53.0V-56.8H-55.3zM-5.1 -59.0H-2.9V-56.8H-5.1zM29.0 -59.0H31.2V-56.8H29.0zM-89.9 -60.9H-81.8V-58.7H-89.9zM-80.1 -60.9H-77.8V-58.7H-80.1zM54.2 -60.9H56.4V-58.7H54.2zM-82.6 -62.8H-76.6V-60.6H-82.6zM0.9 -62.8H5.0V-60.6H0.9zM14.4 -62.8H16.6V-60.6H14.4zM18.3 -62.8H22.4V-60.6H18.3zM26.1 -62.8H28.3V-60.6H26.1zM-83.1 -64.7H-79.1V-62.5H-83.1zM18.0 -64.7H22.1V-62.5H18.0zM23.7 -64.7H27.8V-62.5H23.7zM-107.8 -66.5H-105.7V-64.4H-107.8zM-79.7 -66.5H-77.6V-64.4H-79.7zM17.7 -66.5H19.8V-64.4H17.7zM21.4 -66.5H25.4V-64.4H21.4zM81.4 -66.5H83.5V-64.4H81.4zM87.0 -66.5H91.0V-64.4H87.0zM10.0 -68.3H12.1V-66.3H10.0zM81.7 -68.3H89.3V-66.3H81.7zM6.2 -70.1H11.8V-68.1H6.2zM72.9 -70.1H87.5V-68.1H72.9zM6.1 -71.9H8.1V-69.9H6.1zM69.6 -71.9H78.7V-69.9H69.6zM80.2 -71.9H85.8V-69.9H80.2zM68.2 -73.6H73.6V-71.6H68.2zM75.1 -73.6H80.5V-71.6H75.1zM68.3 -75.3H70.3V-73.4H68.3zM16.7 -82.9H18.5V-81.3H16.7zM-28.4 -85.2H-26.7V-83.9H-28.4z"/>
<path fill="#AADCF0" d="M-56.4 58.7H-52.2V60.9H-56.4zM-61.3 56.8H-59.0V59.0H-61.3zM-57.3 56.8H-45.0V59.0H-57.3zM-64.2 54.8H-62.0V57.0H-64.2zM-60.2 54.8H-47.7V57.0H-60.2zM-45.9 54.8H-43.6V57.0H-45.9zM-63.1 52.8H-52.5V55.1H-63.1zM-48.6 52.8H-46.3V55.1H-48.6zM-63.9 50.9H-57.4V53.1H-63.9zM-53.4 50.9H-51.1V53.1H-53.4zM-66.8 48.8H-58.1V51.1H-66.8zM-54.1 48.8H-51.7V51.1H-54.1zM138.5 48.8H143.0V51.1H138.5zM-67.6 46.8H-58.8V49.1H-67.6zM-54.7 46.8H-52.3V49.1H-54.7zM123.0 46.8H125.4V49.1H123.0zM140.1 46.8H142.5V49.1H140.1zM-68.3 44.8H-52.9V47.1H-68.3zM122.2 44.8H124.6V47.1H122.2zM143.8 44.8H148.4V47.1H143.8zM-66.8 42.8H-64.4V45.1H-66.8zM-62.4 42.8H-49.1V45.1H-62.4zM123.4 42.8H125.9V45.1H123.4zM130.0 42.8H132.4V45.1H130.0zM-63.0 40.8H-58.4V43.0H-63.0zM-56.4 40.8H-47.3V43.0H-56.4zM122.4 40.8H124.9V43.0H122.4zM151.1 40.8H155.8V43.0H151.1zM-61.4 38.7H-58.9V41.0H-61.4zM16.6 38.7H19.1V41.0H16.6zM105.7 38.7H108.1V41.0H105.7zM119.0 38.7H121.5V41.0H119.0zM152.4 38.7H154.9V41.0H152.4zM160.4 36.7H161.8V39.0H160.4zM-161.8 36.7H-160.4V39.0H-161.8zM-64.1 36.7H-57.1V39.0H-64.1zM-52.9 36.7H-50.4V39.0H-52.9zM14.5 36.7H25.9V39.0H14.5zM99.8 36.7H102.3V39.0H99.8zM108.8 36.7H113.5V39.0H108.8zM117.7 36.7H120.2V39.0H117.7zM122.2 36.7H124.7V39.0H122.2zM126.7 36.7H131.5V39.0H126.7zM133.5 36.7H135.9V39.0H133.5zM151.4 36.7H153.9V39.0H151.4zM158.2 36.7H160.6V39.0H158.2zM-69.1 34.6H-66.6V36.9H-69.1zM-64.6 34.6H-57.6V36.9H-64.6zM-46.5 34.6H-44.0V36.9H-46.5zM12.3 34.6H28.4V36.9H12.3zM100.5 34.6H103.0V36.9H100.5zM107.3 34.6H114.3V36.9H107.3zM118.6 34.6H132.4V36.9H118.6zM157.1 34.6H159.6V36.9H157.1zM-69.6 32.6H-53.4V34.9H-69.6zM-49.1 32.6H-42.0V34.9H-49.1zM12.4 32.6H19.5V34.9H12.4zM21.5 32.6H24.0V34.9H21.5zM101.2 32.6H103.7V34.9H101.2zM108.0 32.6H117.4V34.9H108.0zM121.7 32.6H133.3V34.9H121.7zM135.4 32.6H137.9V34.9H135.4zM-70.0 30.5H-60.6V32.8H-70.0zM-44.8 30.5H-42.3V32.8H-44.8zM12.5 30.5H19.6V32.8H12.5zM21.6 30.5H26.5V32.8H21.6zM101.8 30.5H129.6V32.8H101.8zM133.9 30.5H138.7V32.8H133.9zM140.8 30.5H143.3V32.8H140.8zM-68.1 28.5H-58.6V30.8H-68.1zM-49.6 28.5H-47.1V30.8H-49.6zM-42.7 28.5H-40.2V30.8H-42.7zM10.2 28.5H22.0V30.8H10.2zM42.5 28.5H45.0V30.8H42.5zM104.7 28.5H107.2V30.8H104.7zM111.6 28.5H123.4V30.8H111.6zM127.7 28.5H139.5V30.8H127.7zM141.6 28.5H144.1V30.8H141.6zM-68.4 26.5H-54.3V28.7H-68.4zM-49.9 26.5H-45.0V28.7H-49.9zM19.6 26.5H24.4V28.7H19.6zM26.5 26.5H29.1V28.7H26.5zM42.7 26.5H47.6V28.7H42.7zM105.2 26.5H110.1V28.7H105.2zM112.1 26.5H140.2V28.7H112.1zM142.2 26.5H144.8V28.7H142.2zM-68.7 24.4H-59.1V26.7H-68.7zM-57.1 24.4H-52.2V26.7H-57.1zM15.0 24.4H17.6V26.7H15.0zM35.9 24.4H40.8V26.7H35.9zM45.2 24.4H47.8V26.7H45.2zM105.6 24.4H119.8V26.7H105.6zM121.9 24.4H133.8V26.7H121.9zM135.8 24.4H138.4V26.7H135.8zM-68.9 22.4H-61.7V24.6H-68.9zM-59.6 22.4H-57.0V24.6H-59.6zM-54.9 22.4H-52.4V24.6H-54.9zM-45.6 22.4H-43.0V24.6H-45.6zM-36.3 22.4H-33.7V24.6H-36.3zM17.4 22.4H26.9V24.6H17.4zM31.4 22.4H40.9V24.6H31.4zM45.4 22.4H47.9V24.6H45.4zM108.3 22.4H120.2V24.6H108.3zM124.7 22.4H134.2V24.6H124.7zM152.6 22.4H157.5V24.6H152.6zM-69.1 20.3H-64.2V22.6H-69.1zM-57.4 20.3H-54.9V22.6H-57.4zM26.8 20.3H29.4V22.6H26.8zM31.5 20.3H36.4V22.6H31.5zM38.5 20.3H43.4V22.6H38.5zM45.5 20.3H50.4V22.6H45.5zM106.3 20.3H111.3V22.6H106.3zM115.7 20.3H123.0V22.6H115.7zM125.1 20.3H130.0V22.6H125.1zM132.1 20.3H134.7V22.6H132.1zM150.8 20.3H158.1V22.6H150.8zM-69.4 18.3H-62.1V20.6H-69.4zM-60.0 18.3H-57.4V20.6H-60.0zM-36.5 18.3H-33.9V20.6H-36.5zM24.5 18.3H29.5V20.6H24.5zM31.6 18.3H34.2V20.6H31.6zM38.6 18.3H41.2V20.6H38.6zM45.7 18.3H50.6V20.6H45.7zM109.0 18.3H111.6V20.6H109.0zM116.1 18.3H121.0V20.6H116.1zM127.8 18.3H130.4V20.6H127.8zM132.5 18.3H135.1V20.6H132.5zM153.6 18.3H156.2V20.6H153.6zM-74.3 16.2H-57.6V18.5H-74.3zM-41.3 16.2H-38.7V18.5H-41.3zM-36.6 16.2H-34.0V18.5H-36.6zM27.0 16.2H34.3V18.5H27.0zM38.7 16.2H41.3V18.5H38.7zM43.4 16.2H50.7V18.5H43.4zM118.8 16.2H121.4V18.5H118.8zM128.2 16.2H130.8V18.5H128.2zM132.9 16.2H137.9V18.5H132.9zM-72.1 14.2H-57.7V16.5H-72.1zM-46.2 14.2H-38.8V16.5H-46.2zM-36.7 14.2H-34.1V16.5H-36.7zM27.0 14.2H29.6V16.5H27.0zM31.7 14.2H34.3V16.5H31.7zM43.6 14.2H50.9V16.5H43.6zM128.5 14.2H131.1V16.5H128.5zM133.3 14.2H140.6V16.5H133.3zM-77.0 12.1H-69.7V14.4H-77.0zM-43.9 12.1H-38.9V14.4H-43.9zM-36.8 12.1H-31.8V14.4H-36.8zM8.2 12.1H10.8V14.4H8.2zM43.6 12.1H51.0V14.4H43.6zM128.8 12.1H131.4V14.4H128.8zM133.5 12.1H143.2V14.4H133.5zM-77.1 10.1H-72.2V12.4H-77.1zM-48.7 10.1H-46.1V12.4H-48.7zM-44.0 10.1H-39.0V12.4H-44.0zM-36.9 10.1H-29.5V12.4H-36.9zM8.2 10.1H13.2V12.4H8.2zM20.0 10.1H27.4V12.4H20.0zM39.0 10.1H41.6V12.4H39.0zM43.7 10.1H46.3V12.4H43.7zM103.0 10.1H108.0V12.4H103.0zM124.3 10.1H126.9V12.4H124.3zM129.1 10.1H131.7V12.4H129.1zM143.3 10.1H145.9V12.4H143.3zM-79.6 8.1H-77.0V10.3H-79.6zM-74.9 8.1H-72.3V10.3H-74.9zM-65.4 8.1H-62.8V10.3H-65.4zM-58.3 8.1H-55.7V10.3H-58.3zM-48.8 8.1H-43.8V10.3H-48.8zM-39.3 8.1H-29.6V10.3H-39.3zM8.2 8.1H13.2V10.3H8.2zM17.7 8.1H25.0V10.3H17.7zM27.2 8.1H29.8V10.3H27.2zM119.8 8.1H122.4V10.3H119.8zM126.9 8.1H129.5V10.3H126.9zM141.1 8.1H148.5V10.3H141.1zM-79.7 6.0H-70.0V8.3H-79.7zM-63.1 6.0H-55.7V8.3H-63.1zM-41.7 6.0H-34.3V8.3H-41.7zM-32.2 6.0H-29.6V8.3H-32.2zM22.5 6.0H27.5V8.3H22.5zM124.7 6.0H132.0V8.3H124.7zM134.2 6.0H136.8V8.3H134.2zM141.3 6.0H151.0V8.3H141.3zM-79.8 4.0H-70.1V6.3H-79.8zM-67.9 4.0H-65.3V6.3H-67.9zM-58.4 4.0H-51.0V6.3H-58.4zM-39.4 4.0H-36.8V6.3H-39.4zM-32.2 4.0H-29.6V6.3H-32.2zM20.1 4.0H25.1V6.3H20.1zM98.6 4.0H101.2V6.3H98.6zM129.5 4.0H132.1V6.3H129.5zM-79.9 1.9H-77.2V4.2H-79.9zM-75.1 1.9H-63.0V4.2H-75.1zM-60.8 1.9H-55.8V4.2H-60.8zM22.5 1.9H25.1V4.2H22.5zM39.2 1.9H41.8V4.2H39.2zM129.6 1.9H132.2V4.2H129.6zM141.5 1.9H146.5V4.2H141.5zM-79.9 -0.1H-77.3V2.2H-79.9zM-72.8 -0.1H-63.0V2.2H-72.8zM-60.9 -0.1H-55.8V2.2H-60.9zM-39.4 -0.1H-36.8V2.2H-39.4zM17.7 -0.1H20.4V2.2H17.7zM22.5 -0.1H25.1V2.2H22.5zM27.3 -0.1H29.9V2.2H27.3zM36.8 -0.1H39.4V2.2H36.8zM41.6 -0.1H44.2V2.2H41.6zM91.6 -0.1H94.2V2.2H91.6zM127.3 -0.1H132.3V2.2H127.3zM-72.8 -2.2H-70.1V0.1H-72.8zM-68.0 -2.2H-65.4V0.1H-68.0zM-63.2 -2.2H-58.2V0.1H-63.2zM15.4 -2.2H18.0V0.1H15.4zM27.3 -2.2H32.3V0.1H27.3zM122.5 -2.2H132.3V0.1H122.5zM-77.5 -4.2H-72.5V-1.9H-77.5zM-60.8 -4.2H-58.2V-1.9H-60.8zM-8.5 -4.2H1.3V-1.9H-8.5zM91.5 -4.2H94.2V-1.9H91.5zM98.7 -4.2H103.7V-1.9H98.7zM117.7 -4.2H120.3V-1.9H117.7zM-77.4 -6.3H-72.4V-4.0H-77.4zM-60.8 -6.3H-55.8V-4.0H-60.8zM41.5 -6.3H44.1V-4.0H41.5zM77.2 -6.3H79.8V-4.0H77.2zM117.6 -6.3H120.3V-4.0H117.6zM-82.1 -8.3H-72.4V-6.0H-82.1zM-67.9 -8.3H-55.7V-6.0H-67.9zM-15.6 -8.3H-13.0V-6.0H-15.6zM8.2 -8.3H13.2V-6.0H8.2zM15.3 -8.3H25.1V-6.0H15.3zM32.0 -8.3H34.6V-6.0H32.0zM79.5 -8.3H82.1V-6.0H79.5zM110.4 -8.3H113.0V-6.0H110.4zM-77.3 -10.3H-74.7V-8.1H-77.3zM-60.6 -10.3H-58.0V-8.1H-60.6zM-53.5 -10.3H-50.9V-8.1H-53.5zM15.3 -10.3H27.4V-8.1H15.3zM41.4 -10.3H44.0V-8.1H41.4zM96.0 -10.3H98.6V-8.1H96.0zM-17.9 -12.4H-12.9V-10.1H-17.9zM-10.8 -12.4H-5.8V-10.1H-10.8zM-3.7 -12.4H-1.1V-10.1H-3.7zM5.8 -12.4H8.4V-10.1H5.8zM15.3 -12.4H29.7V-10.1H15.3zM95.9 -12.4H98.5V-10.1H95.9zM-88.8 -14.4H-83.9V-12.1H-88.8zM-72.3 -14.4H-69.7V-12.1H-72.3zM-65.2 -14.4H-60.2V-12.1H-65.2zM-20.2 -14.4H-15.3V-12.1H-20.2zM5.8 -14.4H8.4V-12.1H5.8zM17.6 -14.4H27.3V-12.1H17.6zM105.2 -14.4H107.8V-12.1H105.2zM-95.7 -16.5H-90.8V-14.2H-95.7zM-20.2 -16.5H-8.1V-14.2H-20.2zM-6.0 -16.5H-3.4V-14.2H-6.0zM5.8 -16.5H8.4V-14.2H5.8zM15.2 -16.5H20.2V-14.2H15.2zM22.3 -16.5H29.6V-14.2H22.3zM45.9 -16.5H48.5V-14.2H45.9zM67.2 -16.5H69.8V-14.2H67.2zM-69.6 -18.5H-67.0V-16.2H-69.6zM-64.9 -18.5H-62.3V-16.2H-64.9zM-20.1 -18.5H-17.5V-16.2H-20.1zM-15.4 -18.5H-10.5V-16.2H-15.4zM22.2 -18.5H24.8V-16.2H22.2zM50.5 -18.5H55.4V-16.2H50.5zM64.6 -18.5H67.2V-16.2H64.6zM-17.7 -20.6H-15.1V-18.3H-17.7zM-6.0 -20.6H-3.4V-18.3H-6.0zM3.4 -20.6H6.0V-18.3H3.4zM43.3 -20.6H45.9V-18.3H43.3zM48.0 -20.6H57.6V-18.3H48.0zM78.5 -20.6H83.5V-18.3H78.5zM92.6 -20.6H95.2V-18.3H92.6zM102.0 -20.6H104.6V-18.3H102.0zM-73.8 -22.6H-68.9V-20.3H-73.8zM-62.1 -22.6H-59.5V-20.3H-62.1zM-20.0 -22.6H-17.4V-20.3H-20.0zM5.7 -22.6H8.3V-20.3H5.7zM29.1 -22.6H31.7V-20.3H29.1zM33.8 -22.6H36.4V-20.3H33.8zM40.8 -22.6H43.4V-20.3H40.8zM45.5 -22.6H48.1V-20.3H45.5zM80.6 -22.6H85.5V-20.3H80.6zM104.0 -22.6H106.6V-20.3H104.0zM-106.2 -24.6H-103.7V-22.4H-106.2zM-66.6 -24.6H-64.0V-22.4H-66.6zM22.0 -24.6H24.6V-22.4H22.0zM36.0 -24.6H47.9V-22.4H36.0zM50.0 -24.6H52.6V-22.4H50.0zM57.0 -24.6H59.6V-22.4H57.0zM61.7 -24.6H64.3V-22.4H61.7zM80.3 -24.6H87.6V-22.4H80.3zM106.0 -24.6H110.9V-22.4H106.0zM-105.9 -26.7H-103.3V-24.4H-105.9zM-75.7 -26.7H-68.4V-24.4H-75.7zM8.0 -26.7H10.6V-24.4H8.0zM35.9 -26.7H52.4V-24.4H35.9zM54.5 -26.7H57.1V-24.4H54.5zM94.0 -26.7H101.2V-24.4H94.0zM-107.7 -28.7H-102.9V-26.5H-107.7zM3.4 -28.7H5.9V-26.5H3.4zM8.0 -28.7H10.5V-26.5H8.0zM21.9 -28.7H24.4V-26.5H21.9zM40.4 -28.7H54.5V-26.5H40.4zM56.6 -28.7H63.8V-26.5H56.6zM89.0 -28.7H91.5V-26.5H89.0zM95.9 -28.7H98.5V-26.5H95.9zM102.9 -28.7H107.7V-26.5H102.9zM112.1 -28.7H117.0V-26.5H112.1zM-98.0 -30.8H-95.5V-28.5H-98.0zM-8.2 -30.8H-5.6V-28.5H-8.2zM7.9 -30.8H10.5V-28.5H7.9zM19.5 -30.8H28.9V-28.5H19.5zM31.0 -30.8H47.3V-28.5H31.0zM49.4 -30.8H63.5V-28.5H49.4zM74.7 -30.8H77.3V-28.5H74.7zM109.3 -30.8H116.5V-28.5H109.3zM-109.0 -32.8H-106.4V-30.5H-109.0zM-104.4 -32.8H-101.8V-30.5H-104.4zM-90.6 -32.8H-88.1V-30.5H-90.6zM-81.5 -32.8H-78.9V-30.5H-81.5zM-15.0 -32.8H-12.5V-30.5H-15.0zM-10.4 -32.8H-7.9V-30.5H-10.4zM-1.3 -32.8H17.3V-30.5H-1.3zM19.4 -32.8H24.2V-30.5H19.4zM28.5 -32.8H44.8V-30.5H28.5zM49.1 -32.8H56.3V-30.5H49.1zM60.6 -32.8H63.1V-30.5H60.6zM72.1 -32.8H79.2V-30.5H72.1zM85.8 -32.8H90.6V-30.5H85.8zM111.0 -32.8H113.5V-30.5H111.0zM117.9 -32.8H122.7V-30.5H117.9zM-110.6 -34.9H-98.9V-32.6H-110.6zM-92.3 -34.9H-87.6V-32.6H-92.3zM-85.5 -34.9H-80.7V-32.6H-85.5zM-1.3 -34.9H8.1V-32.6H-1.3zM12.4 -34.9H17.2V-32.6H12.4zM21.5 -34.9H46.8V-32.6H21.5zM51.1 -34.9H55.9V-32.6H51.1zM57.9 -34.9H62.7V-32.6H57.9zM67.1 -34.9H69.6V-32.6H67.1zM73.9 -34.9H92.3V-32.6H73.9zM101.2 -34.9H103.7V-32.6H101.2zM108.0 -34.9H121.9V-32.6H108.0zM-107.6 -36.9H-100.5V-34.6H-107.6zM-98.5 -36.9H-96.0V-34.6H-98.5zM-89.5 -36.9H-87.0V-34.6H-89.5zM-84.9 -36.9H-82.4V-34.6H-84.9zM-71.4 -36.9H-66.6V-34.6H-71.4zM1.0 -36.9H14.8V-34.6H1.0zM21.4 -36.9H23.9V-34.6H21.4zM25.9 -36.9H32.9V-34.6H25.9zM34.9 -36.9H44.2V-34.6H34.9zM46.2 -36.9H60.1V-34.6H46.2zM62.1 -36.9H64.6V-34.6H62.1zM68.9 -36.9H78.1V-34.6H68.9zM80.2 -36.9H84.9V-34.6H80.2zM87.0 -36.9H94.0V-34.6H87.0zM100.5 -36.9H103.0V-34.6H100.5zM116.4 -36.9H118.9V-34.6H116.4zM-111.2 -39.0H-95.3V-36.7H-111.2zM-93.3 -39.0H-88.6V-36.7H-93.3zM-77.6 -39.0H-75.1V-36.7H-77.6zM-73.1 -39.0H-68.4V-36.7H-73.1zM19.0 -39.0H23.7V-36.7H19.0zM25.7 -39.0H34.9V-36.7H25.7zM39.2 -39.0H52.9V-36.7H39.2zM57.1 -39.0H59.6V-36.7H57.1zM63.9 -39.0H75.3V-36.7H63.9zM79.6 -39.0H88.8V-36.7H79.6zM97.5 -39.0H102.3V-36.7H97.5zM126.7 -39.0H129.2V-36.7H126.7zM-108.1 -41.0H-92.3V-38.7H-108.1zM-81.4 -41.0H-76.7V-38.7H-81.4zM-74.7 -41.0H-67.8V-38.7H-74.7zM-10.1 -41.0H-7.7V-38.7H-10.1zM23.3 -41.0H25.7V-38.7H23.3zM56.7 -41.0H59.1V-38.7H56.7zM63.4 -41.0H72.5V-38.7H63.4zM74.5 -41.0H81.4V-38.7H74.5zM83.4 -41.0H88.1V-38.7H83.4zM94.5 -41.0H108.1V-38.7H94.5zM110.1 -41.0H112.6V-38.7H110.1zM-100.6 -43.0H-95.9V-40.8H-100.6zM-91.7 -43.0H-89.3V-40.8H-91.7zM-85.1 -43.0H-76.0V-40.8H-85.1zM-74.1 -43.0H-62.8V-40.8H-74.1zM3.2 -43.0H5.6V-40.8H3.2zM58.4 -43.0H60.8V-40.8H58.4zM62.8 -43.0H69.7V-40.8H62.8zM73.8 -43.0H78.5V-40.8H73.8zM82.7 -43.0H98.4V-40.8H82.7zM100.3 -43.0H102.8V-40.8H100.3zM107.0 -43.0H109.4V-40.8H107.0zM-71.2 -45.1H-68.8V-42.8H-71.2zM-64.6 -45.1H-62.2V-42.8H-64.6zM-12.1 -45.1H-9.7V-42.8H-12.1zM-3.4 -45.1H-1.0V-42.8H-3.4zM1.0 -45.1H10.0V-42.8H1.0zM29.4 -45.1H31.8V-42.8H29.4zM33.8 -45.1H49.3V-42.8H33.8zM57.8 -45.1H60.3V-42.8H57.8zM62.2 -45.1H64.6V-42.8H62.2zM66.6 -45.1H73.4V-42.8H66.6zM75.3 -45.1H77.8V-42.8H75.3zM81.9 -45.1H88.7V-42.8H81.9zM90.6 -45.1H101.8V-42.8H90.6zM108.1 -45.1H110.6V-42.8H108.1zM-77.0 -47.1H-74.6V-44.8H-77.0zM-59.6 -47.1H-57.2V-44.8H-59.6zM-55.3 -47.1H-52.9V-44.8H-55.3zM3.1 -47.1H9.9V-44.8H3.1zM24.8 -47.1H29.3V-44.8H24.8zM31.3 -47.1H48.8V-44.8H31.3zM55.1 -47.1H70.5V-44.8H55.1zM72.4 -47.1H74.8V-44.8H72.4zM76.7 -47.1H81.3V-44.8H76.7zM83.2 -47.1H102.9V-44.8H83.2zM113.5 -47.1H115.9V-44.8H113.5zM-110.4 -49.1H-108.0V-46.8H-110.4zM-103.9 -49.1H-101.6V-46.8H-103.9zM-65.4 -49.1H-58.8V-46.8H-65.4zM-56.8 -49.1H-52.3V-46.8H-56.8zM-48.3 -49.1H-45.9V-46.8H-48.3zM9.5 -49.1H11.9V-46.8H9.5zM26.6 -49.1H48.3V-46.8H26.6zM52.3 -49.1H76.1V-46.8H52.3zM82.3 -49.1H99.7V-46.8H82.3zM103.7 -49.1H106.1V-46.8H103.7zM123.0 -49.1H125.4V-46.8H123.0zM-104.9 -51.1H-102.5V-48.8H-104.9zM-79.5 -51.1H-77.1V-48.8H-79.5zM-73.1 -51.1H-68.7V-48.8H-73.1zM-60.4 -51.1H-58.1V-48.8H-60.4zM-56.2 -51.1H-53.8V-48.8H-56.2zM-45.6 -51.1H-41.1V-48.8H-45.6zM30.6 -51.1H49.9V-48.8H30.6zM51.7 -51.1H73.1V-48.8H51.7zM75.0 -51.1H100.6V-48.8H75.0zM115.2 -51.1H117.6V-48.8H115.2zM-105.7 -53.1H-103.4V-50.9H-105.7zM-78.5 -53.1H-76.2V-50.9H-78.5zM-74.4 -53.1H-69.9V-50.9H-74.4zM-61.8 -53.1H-49.0V-50.9H-61.8zM-45.1 -53.1H-42.7V-50.9H-45.1zM-7.4 -53.1H-5.1V-50.9H-7.4zM13.5 -53.1H15.8V-50.9H13.5zM19.7 -53.1H22.1V-50.9H19.7zM23.9 -53.1H26.3V-50.9H23.9zM32.3 -53.1H40.9V-50.9H32.3zM42.7 -53.1H45.1V-50.9H42.7zM46.9 -53.1H49.3V-50.9H46.9zM51.1 -53.1H59.7V-50.9H51.1zM61.6 -53.1H70.2V-50.9H61.6zM76.2 -53.1H103.6V-50.9H76.2zM107.6 -53.1H112.0V-50.9H107.6zM-108.5 -55.1H-104.1V-52.8H-108.5zM-102.3 -55.1H-97.9V-52.8H-102.3zM-71.3 -55.1H-67.0V-52.8H-71.3zM-63.1 -55.1H-54.6V-52.8H-63.1zM-52.8 -55.1H-48.4V-52.8H-52.8zM-9.4 -55.1H-5.0V-52.8H-9.4zM15.4 -55.1H17.7V-52.8H15.4zM29.8 -55.1H32.1V-52.8H29.8zM46.3 -55.1H48.6V-52.8H46.3zM64.9 -55.1H67.2V-52.8H64.9zM75.2 -55.1H100.2V-52.8H75.2zM112.4 -55.1H116.7V-52.8H112.4zM126.8 -55.1H133.3V-52.8H126.8zM-111.1 -57.0H-108.8V-54.8H-111.1zM-107.0 -57.0H-104.7V-54.8H-107.0zM-100.9 -57.0H-96.6V-54.8H-100.9zM-72.4 -57.0H-70.1V-54.8H-72.4zM-68.3 -57.0H-55.9V-54.8H-68.3zM-52.0 -57.0H-45.7V-54.8H-52.0zM-11.3 -57.0H-7.0V-54.8H-11.3zM74.2 -57.0H82.6V-54.8H74.2zM84.4 -57.0H86.6V-54.8H84.4zM90.5 -57.0H92.7V-54.8H90.5zM96.6 -57.0H100.9V-54.8H96.6zM104.7 -57.0H119.2V-54.8H104.7zM123.0 -57.0H127.3V-54.8H123.0zM129.1 -57.0H131.4V-54.8H129.1zM-135.5 -59.0H-133.2V-56.8H-135.5zM-131.5 -59.0H-125.2V-56.8H-131.5zM-109.4 -59.0H-107.2V-56.8H-109.4zM-97.4 -59.0H-95.1V-56.8H-97.4zM-91.4 -59.0H-89.1V-56.8H-91.4zM-83.3 -59.0H-81.1V-56.8H-83.3zM-77.3 -59.0H-71.1V-56.8H-77.3zM-63.3 -59.0H-55.0V-56.8H-63.3zM-53.3 -59.0H-45.0V-56.8H-53.3zM-9.1 -59.0H-4.9V-56.8H-9.1zM-1.1 -59.0H15.2V-56.8H-1.1zM24.9 -59.0H29.2V-56.8H24.9zM73.1 -59.0H81.3V-56.8H73.1zM85.1 -59.0H89.4V-56.8H85.1zM93.1 -59.0H101.4V-56.8H93.1zM103.2 -59.0H109.4V-56.8H103.2zM113.2 -59.0H117.4V-56.8H113.2zM121.2 -59.0H123.5V-56.8H121.2zM131.2 -59.0H133.5V-56.8H131.2zM-129.4 -60.9H-119.3V-58.7H-129.4zM-109.7 -60.9H-107.5V-58.7H-109.7zM-105.7 -60.9H-101.5V-58.7H-105.7zM-82.0 -60.9H-79.8V-58.7H-82.0zM-78.1 -60.9H-68.0V-58.7H-78.1zM-62.3 -60.9H-44.3V-58.7H-62.3zM-9.0 -60.9H-4.8V-58.7H-9.0zM-1.1 -60.9H1.1V-58.7H-1.1zM2.8 -60.9H16.9V-58.7H2.8zM22.6 -60.9H24.8V-58.7H22.6zM26.5 -60.9H28.7V-58.7H26.5zM48.2 -60.9H50.5V-58.7H48.2zM62.1 -60.9H64.3V-58.7H62.1zM75.9 -60.9H78.1V-58.7H75.9zM83.8 -60.9H107.7V-58.7H83.8zM123.3 -60.9H129.4V-58.7H123.3zM-131.2 -62.8H-123.2V-60.6H-131.2zM-119.5 -62.8H-92.1V-60.6H-119.5zM-90.4 -62.8H-82.4V-60.6H-90.4zM-76.8 -62.8H-66.9V-60.6H-76.8zM-61.3 -62.8H-47.4V-60.6H-61.3zM-36.0 -62.8H-31.9V-60.6H-36.0zM-6.9 -62.8H1.1V-60.6H-6.9zM4.7 -62.8H14.7V-60.6H4.7zM16.4 -62.8H18.6V-60.6H16.4zM22.2 -62.8H24.4V-60.6H22.2zM45.5 -62.8H47.7V-60.6H45.5zM53.3 -62.8H55.4V-60.6H53.3zM63.0 -62.8H65.2V-60.6H63.0zM72.7 -62.8H74.9V-60.6H72.7zM82.4 -62.8H105.9V-60.6H82.4zM111.5 -62.8H115.6V-60.6H111.5zM117.3 -62.8H125.3V-60.6H117.3zM129.0 -62.8H131.2V-60.6H129.0zM-128.9 -64.7H-124.8V-62.5H-128.9zM-123.2 -64.7H-117.2V-62.5H-123.2zM-115.5 -64.7H-105.8V-62.5H-115.5zM-104.1 -64.7H-88.6V-62.5H-104.1zM-86.9 -64.7H-82.9V-62.5H-86.9zM-79.3 -64.7H-69.5V-62.5H-79.3zM-60.2 -64.7H-58.1V-62.5H-60.2zM-56.4 -64.7H-52.3V-62.5H-56.4zM-39.2 -64.7H-35.2V-62.5H-39.2zM-33.5 -64.7H-31.4V-62.5H-33.5zM-4.9 -64.7H-0.8V-62.5H-4.9zM0.8 -64.7H18.2V-62.5H0.8zM21.8 -64.7H24.0V-62.5H21.8zM27.5 -64.7H33.5V-62.5H27.5zM42.8 -64.7H45.0V-62.5H42.8zM48.5 -64.7H64.0V-62.5H48.5zM73.3 -64.7H104.1V-62.5H73.3zM109.6 -64.7H115.5V-62.5H109.6zM119.1 -64.7H128.9V-62.5H119.1zM-130.3 -66.5H-128.2V-64.4H-130.3zM-126.6 -66.5H-107.6V-64.4H-126.6zM-106.0 -66.5H-103.9V-64.4H-106.0zM-102.2 -66.5H-79.5V-64.4H-102.2zM-77.9 -66.5H-60.8V-64.4H-77.9zM-40.4 -66.5H-36.4V-64.4H-40.4zM-16.0 -66.5H-12.1V-64.4H-16.0zM0.8 -66.5H14.2V-64.4H0.8zM19.6 -66.5H21.7V-64.4H19.6zM25.2 -66.5H40.4V-64.4H25.2zM42.0 -66.5H62.9V-64.4H42.0zM72.0 -66.5H76.0V-64.4H72.0zM77.6 -66.5H81.6V-64.4H77.6zM83.3 -66.5H87.2V-64.4H83.3zM90.7 -66.5H104.1V-64.4H90.7zM105.7 -66.5H115.3V-64.4H105.7zM117.0 -66.5H126.6V-64.4H117.0zM-124.2 -68.3H-112.9V-66.3H-124.2zM-109.5 -68.3H-94.6V-66.3H-109.5zM-93.0 -68.3H-90.9V-66.3H-93.0zM-89.3 -68.3H-83.5V-66.3H-89.3zM-80.1 -68.3H-68.8V-66.3H-80.1zM-67.2 -68.3H-65.1V-66.3H-67.2zM-63.5 -68.3H-61.5V-66.3H-63.5zM-59.9 -68.3H-56.0V-66.3H-59.9zM-39.6 -68.3H-37.6V-66.3H-39.6zM-15.7 -68.3H-8.2V-66.3H-15.7zM2.6 -68.3H10.2V-66.3H2.6zM11.8 -68.3H13.9V-66.3H11.8zM17.3 -68.3H26.8V-66.3H17.3zM28.4 -68.3H30.5V-66.3H28.4zM33.9 -68.3H56.2V-66.3H33.9zM57.8 -68.3H61.7V-66.3H57.8zM63.3 -68.3H65.4V-66.3H63.3zM68.8 -68.3H81.9V-66.3H68.8zM89.0 -68.3H102.2V-66.3H89.0zM105.6 -68.3H107.7V-66.3H105.6zM111.1 -68.3H126.0V-66.3H111.1zM-129.0 -70.1H-127.0V-68.1H-129.0zM-121.8 -70.1H-119.7V-68.1H-121.8zM-116.4 -70.1H-114.3V-68.1H-116.4zM-107.4 -70.1H-99.9V-68.1H-107.4zM-98.4 -70.1H-90.9V-68.1H-98.4zM-89.3 -70.1H-81.9V-68.1H-89.3zM-73.1 -70.1H-60.3V-68.1H-73.1zM-55.1 -70.1H-53.1V-68.1H-55.1zM-51.5 -70.1H-49.5V-68.1H-51.5zM-47.9 -70.1H-45.8V-68.1H-47.9zM-44.3 -70.1H-42.2V-68.1H-44.3zM-40.7 -70.1H-38.6V-68.1H-40.7zM-26.3 -70.1H-24.2V-68.1H-26.3zM-13.6 -70.1H-8.0V-68.1H-13.6zM4.4 -70.1H6.4V-68.1H4.4zM11.6 -70.1H26.3V-68.1H11.6zM33.2 -70.1H62.3V-68.1H33.2zM63.9 -70.1H65.9V-68.1H63.9zM67.5 -70.1H73.1V-68.1H67.5zM87.3 -70.1H114.6V-68.1H87.3zM116.1 -70.1H123.6V-68.1H116.1zM125.2 -70.1H127.2V-68.1H125.2zM-122.9 -71.9H-119.1V-69.9H-122.9zM-105.2 -71.9H-97.9V-69.9H-105.2zM-94.6 -71.9H-83.8V-69.9H-94.6zM-82.2 -71.9H-78.5V-69.9H-82.2zM-71.6 -71.9H-60.8V-69.9H-71.6zM-45.2 -71.9H-41.4V-69.9H-45.2zM-39.9 -71.9H-37.8V-69.9H-39.9zM-15.1 -71.9H-9.6V-69.9H-15.1zM7.8 -71.9H25.7V-69.9H7.8zM29.0 -71.9H31.0V-69.9H29.0zM32.6 -71.9H55.7V-69.9H32.6zM60.8 -71.9H64.6V-69.9H60.8zM67.9 -71.9H69.9V-69.9H67.9zM78.5 -71.9H80.5V-69.9H78.5zM85.5 -71.9H96.4V-69.9H85.5zM97.9 -71.9H103.4V-69.9H97.9zM110.3 -71.9H115.8V-69.9H110.3zM117.3 -71.9H119.3V-69.9H117.3zM122.6 -71.9H124.6V-69.9H122.6zM123.5 -73.6H124.6V-71.6H123.5zM-124.6 -73.6H-121.7V-71.6H-124.6zM-120.3 -73.6H-118.3V-71.6H-120.3zM-104.7 -73.6H-102.7V-71.6H-104.7zM-99.5 -73.6H-97.5V-71.6H-99.5zM-92.6 -73.6H-88.9V-71.6H-92.6zM-87.4 -73.6H-85.4V-71.6H-87.4zM-59.8 -73.6H-56.1V-71.6H-59.8zM7.7 -73.6H26.9V-71.6H7.7zM30.1 -73.6H35.6V-71.6H30.1zM37.0 -73.6H56.3V-71.6H37.0zM57.8 -73.6H59.8V-71.6H57.8zM66.4 -73.6H68.4V-71.6H66.4zM73.3 -73.6H75.3V-71.6H73.3zM80.3 -73.6H94.3V-71.6H80.3zM95.8 -73.6H101.2V-71.6H95.8zM104.5 -73.6H108.2V-71.6H104.5zM109.6 -73.6H111.6V-71.6H109.6zM114.8 -73.6H116.8V-71.6H114.8zM-121.0 -75.3H-117.3V-73.4H-121.0zM-112.5 -75.3H-110.6V-73.4H-112.5zM-99.0 -75.3H-95.4V-73.4H-99.0zM-90.5 -75.3H-88.6V-73.4H-90.5zM-39.8 -75.3H-37.9V-73.4H-39.8zM9.2 -75.3H16.2V-73.4H9.2zM19.3 -75.3H22.9V-73.4H19.3zM31.1 -75.3H34.8V-73.4H31.1zM37.9 -75.3H53.4V-73.4H37.9zM64.9 -75.3H68.6V-73.4H64.9zM70.0 -75.3H82.1V-73.4H70.0zM83.5 -75.3H85.5V-73.4H83.5zM86.9 -75.3H88.9V-73.4H86.9zM95.4 -75.3H97.3V-73.4H95.4zM117.8 -76.9H118.9V-75.0H117.8zM-118.9 -76.9H-116.2V-75.0H-118.9zM-108.2 -76.9H-106.3V-75.0H-108.2zM-14.1 -76.9H-12.3V-75.0H-14.1zM18.9 -76.9H20.7V-75.0H18.9zM38.7 -76.9H40.5V-75.0H38.7zM46.9 -76.9H50.4V-75.0H46.9zM61.8 -76.9H70.2V-75.0H61.8zM75.0 -76.9H80.1V-75.0H75.0zM83.2 -76.9H88.4V-75.0H83.2zM89.8 -76.9H91.7V-75.0H89.8zM-50.7 -78.5H-48.9V-76.7H-50.7zM8.7 -78.5H10.6V-76.7H8.7zM40.9 -78.5H42.7V-76.7H40.9zM47.3 -78.5H49.1V-76.7H47.3zM61.8 -78.5H68.4V-76.7H61.8zM74.6 -78.5H76.5V-76.7H74.6zM79.4 -78.5H82.9V-76.7H79.4zM6.9 -80.1H8.7V-78.3H6.9zM13.2 -80.1H16.5V-78.3H13.2zM64.7 -80.1H71.2V-78.3H64.7zM-75.1 -81.5H-71.8V-79.8H-75.1zM5.2 -81.5H6.9V-79.8H5.2zM15.8 -81.5H17.5V-79.8H15.8zM29.4 -81.5H31.2V-79.8H29.4zM33.9 -81.5H35.7V-79.8H33.9zM38.5 -81.5H40.2V-79.8H38.5zM64.2 -81.5H67.5V-79.8H64.2zM-66.9 -82.9H-63.7V-81.3H-66.9zM5.0 -82.9H6.7V-81.3H5.0zM15.3 -82.9H17.0V-81.3H15.3zM27.0 -82.9H28.7V-81.3H27.0zM9.1 -84.1H16.5V-82.6H9.1zM27.6 -84.1H32.1V-82.6H27.6zM33.3 -84.1H34.9V-82.6H33.3zM56.0 -84.1H59.1V-82.6H56.0zM-50.4 -85.2H-48.8V-83.9H-50.4zM-46.3 -85.2H-43.3V-83.9H-46.3zM-40.8 -85.2H-39.2V-83.9H-40.8zM-36.6 -85.2H-35.0V-83.9H-36.6zM-33.9 -85.2H-28.1V-83.9H-33.9zM-27.0 -85.2H-19.9V-83.9H-27.0zM-16.0 -85.2H-14.3V-83.9H-16.0zM-13.2 -85.2H-10.2V-83.9H-13.2z"/>
<path fill="#FFF587" d="M90.5 86.6H91.4V87.1H90.5zM-91.4 86.6H90.8V87.1H-91.4zM92.9 85.9H93.8V86.8H92.9zM-93.8 85.9H93.1V86.8H-93.8zM95.5 84.9H96.4V86.1H95.5zM-96.4 84.9H95.7V86.1H-96.4zM98.4 83.9H99.3V85.2H98.4zM-99.3 83.9H98.6V85.2H-99.3zM101.5 82.6H102.5V84.1H101.5zM-102.5 82.6H101.7V84.1H-102.5zM104.8 81.3H105.7V82.9H104.8zM-105.7 81.3H105.0V82.9H-105.7zM108.1 79.8H109.1V81.5H108.1zM-109.1 79.8H108.4V81.5H-109.1zM111.5 78.3H112.6V80.1H111.5zM-112.6 78.3H111.8V80.1H-112.6zM-95.7 76.7H-31.2V78.5H-95.7zM-21.8 76.7H110.2V78.5H-21.8zM-81.8 75.0H-76.6V76.9H-81.8zM-71.9 75.0H-37.0V76.9H-71.9zM-19.1 75.0H114.8V76.9H-19.1zM-53.4 73.4H-37.9V75.3H-53.4zM-14.5 73.4H117.6V75.3H-14.5zM-51.1 71.6H-38.8V73.6H-51.1zM-9.6 71.6H118.5V73.6H-9.6zM-50.5 69.9H-39.6V71.9H-50.5zM14.9 69.9H112.3V71.9H14.9zM-49.7 68.1H-38.6V70.1H-49.7zM29.6 68.1H49.7V70.1H29.6zM54.9 68.1H107.4V70.1H54.9zM-48.8 66.3H-39.4V68.3H-48.8zM68.8 66.3H81.9V68.3H68.8zM92.7 66.3H100.3V68.3H92.7zM-46.0 64.4H-42.0V66.5H-46.0zM-55.4 60.6H-51.3V62.8H-55.4zM-58.4 58.7H-56.1V60.9H-58.4zM-52.4 58.7H-50.2V60.9H-52.4zM-59.3 56.8H-57.0V59.0H-59.3zM-62.2 54.8H-59.9V57.0H-62.2zM-48.0 54.8H-45.7V57.0H-48.0zM-65.1 52.8H-62.8V55.1H-65.1zM-50.7 52.8H-48.4V55.1H-50.7zM-66.0 50.9H-63.7V53.1H-66.0zM138.9 50.9H143.4V53.1H138.9zM142.7 48.8H147.2V51.1H142.7zM125.1 46.8H127.5V49.1H125.1zM142.2 46.8H151.0V49.1H142.2zM154.6 44.8H156.0V47.1H154.6zM-156.0 44.8H-154.6V47.1H-156.0zM128.7 44.8H131.1V47.1H128.7zM148.1 44.8H154.9V47.1H148.1zM156.2 42.8H157.6V45.1H156.2zM-157.6 42.8H-156.2V45.1H-157.6zM125.6 42.8H128.1V45.1H125.6zM147.5 42.8H156.5V45.1H147.5zM157.7 40.8H159.1V43.0H157.7zM-159.1 40.8H-157.7V43.0H-159.1zM-67.5 40.8H-65.0V43.0H-67.5zM-58.6 40.8H-56.2V43.0H-58.6zM124.6 40.8H127.1V43.0H124.6zM155.5 40.8H158.0V43.0H155.5zM159.1 38.7H160.5V41.0H159.1zM-160.5 38.7H-159.1V41.0H-160.5zM-68.0 38.7H-65.6V41.0H-68.0zM-63.6 38.7H-61.1V41.0H-63.6zM-59.1 38.7H-54.4V41.0H-59.1zM18.8 38.7H21.3V41.0H18.8zM101.2 38.7H105.9V41.0H101.2zM121.3 38.7H128.2V41.0H121.3zM134.6 38.7H137.1V41.0H134.6zM154.7 38.7H159.4V41.0H154.7zM-68.6 36.7H-66.1V39.0H-68.6zM-57.4 36.7H-54.9V39.0H-57.4zM-48.4 36.7H-45.9V39.0H-48.4zM104.3 36.7H106.8V39.0H104.3zM120.0 36.7H122.5V39.0H120.0zM135.7 36.7H138.2V39.0H135.7zM153.7 36.7H158.4V39.0H153.7zM-66.8 34.6H-64.3V36.9H-66.8zM-57.8 34.6H-55.3V36.9H-57.8zM-51.0 34.6H-46.2V36.9H-51.0zM114.1 34.6H118.9V36.9H114.1zM139.0 34.6H141.5V36.9H139.0zM154.8 34.6H157.3V36.9H154.8zM19.2 32.6H21.8V34.9H19.2zM28.3 32.6H30.9V34.9H28.3zM103.5 32.6H108.3V34.9H103.5zM117.2 32.6H121.9V34.9H117.2zM139.9 32.6H142.4V34.9H139.9zM-60.8 30.5H-56.0V32.8H-60.8zM-49.4 30.5H-44.6V32.8H-49.4zM19.4 30.5H21.9V32.8H19.4zM28.5 30.5H33.3V32.8H28.5zM129.3 30.5H134.2V32.8H129.3zM-47.3 28.5H-44.8V30.8H-47.3zM40.2 28.5H42.7V30.8H40.2zM102.4 28.5H104.9V30.8H102.4zM-54.5 26.5H-52.0V28.7H-54.5zM10.3 26.5H19.8V28.7H10.3zM31.1 26.5H36.0V28.7H31.1zM38.1 26.5H42.9V28.7H38.1zM102.9 26.5H105.4V28.7H102.9zM-59.4 24.4H-56.8V26.7H-59.4zM-38.5 24.4H-35.9V26.7H-38.5zM10.3 24.4H15.2V26.7H10.3zM17.3 24.4H29.2V26.7H17.3zM31.3 24.4H36.1V26.7H31.3zM42.9 24.4H45.4V26.7H42.9zM103.3 24.4H105.9V26.7H103.3zM119.6 24.4H122.1V26.7H119.6zM133.5 24.4H136.1V26.7H133.5zM138.2 24.4H140.7V26.7H138.2zM142.8 24.4H145.4V26.7H142.8zM152.1 24.4H154.7V26.7H152.1zM-57.3 22.4H-54.7V24.6H-57.3zM-40.9 22.4H-36.0V24.6H-40.9zM10.4 22.4H17.6V24.6H10.4zM26.7 22.4H29.3V24.6H26.7zM103.7 22.4H108.6V24.6H103.7zM120.0 22.4H124.9V24.6H120.0zM134.0 22.4H143.6V24.6H134.0zM150.3 22.4H152.9V24.6H150.3zM-55.1 20.3H-52.5V22.6H-55.1zM-48.1 20.3H-45.5V22.6H-48.1zM-36.4 20.3H-33.8V22.6H-36.4zM8.1 20.3H27.0V22.6H8.1zM111.0 20.3H115.9V22.6H111.0zM122.7 20.3H125.3V22.6H122.7zM129.7 20.3H132.3V22.6H129.7zM134.4 20.3H141.7V22.6H134.4zM-71.7 18.3H-69.1V20.6H-71.7zM-57.6 18.3H-55.0V20.6H-57.6zM-48.2 18.3H-45.7V20.6H-48.2zM-41.2 18.3H-38.6V20.6H-41.2zM8.1 18.3H24.8V20.6H8.1zM29.2 18.3H31.8V20.6H29.2zM33.9 18.3H38.9V20.6H33.9zM111.4 18.3H116.3V20.6H111.4zM120.8 18.3H128.1V20.6H120.8zM130.2 18.3H132.7V20.6H130.2zM134.9 18.3H139.8V20.6H134.9zM-57.8 16.2H-48.1V18.5H-57.8zM-43.7 16.2H-41.1V18.5H-43.7zM8.1 16.2H27.2V18.5H8.1zM36.4 16.2H39.0V18.5H36.4zM114.1 16.2H119.0V18.5H114.1zM121.1 16.2H128.4V18.5H121.1zM130.5 16.2H133.1V18.5H130.5zM137.6 16.2H140.2V18.5H137.6zM-74.5 14.2H-71.9V16.5H-74.5zM-58.0 14.2H-53.0V16.5H-58.0zM8.1 14.2H15.5V16.5H8.1zM17.6 14.2H27.3V16.5H17.6zM29.4 14.2H32.0V16.5H29.4zM36.5 14.2H41.4V16.5H36.5zM114.4 14.2H128.8V16.5H114.4zM130.9 14.2H133.5V16.5H130.9zM-69.9 12.1H-55.5V14.4H-69.9zM-46.3 12.1H-43.6V14.4H-46.3zM10.5 12.1H34.4V14.4H10.5zM36.5 12.1H43.9V14.4H36.5zM112.3 12.1H114.9V14.4H112.3zM117.0 12.1H129.1V14.4H117.0zM131.2 12.1H133.8V14.4H131.2zM-72.4 10.1H-48.5V12.4H-72.4zM-46.3 10.1H-43.7V12.4H-46.3zM12.9 10.1H20.3V12.4H12.9zM27.1 10.1H39.2V12.4H27.1zM46.1 10.1H48.7V12.4H46.1zM107.7 10.1H124.6V12.4H107.7zM126.7 10.1H129.3V12.4H126.7zM131.4 10.1H138.8V12.4H131.4zM140.9 10.1H143.5V12.4H140.9zM-77.3 8.1H-74.7V10.3H-77.3zM-72.5 8.1H-65.2V10.3H-72.5zM-63.0 8.1H-58.0V10.3H-63.0zM-55.9 8.1H-48.5V10.3H-55.9zM-44.0 8.1H-39.0V10.3H-44.0zM12.9 8.1H15.5V10.3H12.9zM24.8 8.1H27.4V10.3H24.8zM29.6 8.1H41.7V10.3H29.6zM117.4 8.1H120.0V10.3H117.4zM122.1 8.1H124.7V10.3H122.1zM129.2 8.1H139.0V10.3H129.2zM-70.2 6.0H-62.9V8.3H-70.2zM-56.0 6.0H-41.5V8.3H-56.0zM-34.6 6.0H-32.0V8.3H-34.6zM8.2 6.0H13.2V8.3H8.2zM17.7 6.0H22.7V8.3H17.7zM27.2 6.0H29.8V8.3H27.2zM32.0 6.0H41.7V8.3H32.0zM103.3 6.0H105.9V8.3H103.3zM108.0 6.0H110.6V8.3H108.0zM117.5 6.0H122.5V8.3H117.5zM131.8 6.0H134.4V8.3H131.8zM136.5 6.0H139.2V8.3H136.5zM-70.3 4.0H-67.7V6.3H-70.3zM-65.5 4.0H-58.2V6.3H-65.5zM-51.3 4.0H-48.6V6.3H-51.3zM-41.8 4.0H-39.1V6.3H-41.8zM-37.0 4.0H-32.0V6.3H-37.0zM8.2 4.0H13.2V6.3H8.2zM17.7 4.0H20.3V6.3H17.7zM24.9 4.0H29.9V6.3H24.9zM34.4 4.0H41.8V6.3H34.4zM101.0 4.0H106.0V6.3H101.0zM117.6 4.0H129.8V6.3H117.6zM131.9 4.0H148.8V6.3H131.9zM-63.2 1.9H-60.6V4.2H-63.2zM-56.1 1.9H-48.7V4.2H-56.1zM-39.4 1.9H-32.0V4.2H-39.4zM5.8 1.9H22.7V4.2H5.8zM27.3 1.9H29.9V4.2H27.3zM34.4 1.9H39.4V4.2H34.4zM93.9 1.9H96.5V4.2H93.9zM101.1 1.9H103.7V4.2H101.1zM117.7 1.9H129.9V4.2H117.7zM132.0 1.9H141.8V4.2H132.0zM146.3 1.9H148.9V4.2H146.3zM-63.2 -0.1H-60.6V2.2H-63.2zM-56.1 -0.1H-39.2V2.2H-56.1zM5.8 -0.1H18.0V2.2H5.8zM20.1 -0.1H22.7V2.2H20.1zM24.9 -0.1H27.5V2.2H24.9zM34.4 -0.1H37.0V2.2H34.4zM39.2 -0.1H41.8V2.2H39.2zM96.3 -0.1H99.0V2.2H96.3zM117.8 -0.1H127.5V2.2H117.8zM132.1 -0.1H137.1V2.2H132.1zM144.0 -0.1H146.6V2.2H144.0zM-79.9 -2.2H-77.3V0.1H-79.9zM-70.4 -2.2H-67.8V0.1H-70.4zM-65.6 -2.2H-63.0V0.1H-65.6zM-58.5 -2.2H-46.3V0.1H-58.5zM-44.2 -2.2H-41.6V0.1H-44.2zM5.8 -2.2H8.5V0.1H5.8zM13.0 -2.2H15.6V0.1H13.0zM17.7 -2.2H27.5V0.1H17.7zM34.4 -2.2H46.6V0.1H34.4zM103.5 -2.2H106.1V0.1H103.5zM117.8 -2.2H122.8V0.1H117.8zM-68.0 -4.2H-60.6V-1.9H-68.0zM-58.4 -4.2H-51.1V-1.9H-58.4zM-46.5 -4.2H-43.9V-1.9H-46.5zM-10.8 -4.2H-8.2V-1.9H-10.8zM3.5 -4.2H20.4V-1.9H3.5zM22.5 -4.2H29.9V-1.9H22.5zM32.0 -4.2H41.8V-1.9H32.0zM43.9 -4.2H48.9V-1.9H43.9zM93.9 -4.2H96.5V-1.9H93.9zM120.1 -4.2H122.7V-1.9H120.1zM-67.9 -6.3H-60.5V-4.0H-67.9zM-56.0 -6.3H-48.6V-4.0H-56.0zM-6.1 -6.3H-3.4V-4.0H-6.1zM8.2 -6.3H15.6V-4.0H8.2zM17.7 -6.3H20.3V-4.0H17.7zM22.5 -6.3H41.8V-4.0H22.5zM43.9 -6.3H48.9V-4.0H43.9zM74.8 -6.3H77.4V-4.0H74.8zM86.7 -6.3H91.7V-4.0H86.7zM103.4 -6.3H106.0V-4.0H103.4zM110.5 -6.3H113.1V-4.0H110.5zM-56.0 -8.3H-48.6V-6.0H-56.0zM-1.3 -8.3H1.3V-6.0H-1.3zM5.8 -8.3H8.4V-6.0H5.8zM13.0 -8.3H15.6V-6.0H13.0zM24.8 -8.3H32.2V-6.0H24.8zM34.3 -8.3H37.0V-6.0H34.3zM39.1 -8.3H51.2V-6.0H39.1zM72.4 -8.3H75.0V-6.0H72.4zM89.0 -8.3H91.6V-6.0H89.0zM108.0 -8.3H110.6V-6.0H108.0zM-84.4 -10.3H-81.8V-8.1H-84.4zM-79.6 -10.3H-77.0V-8.1H-79.6zM-74.9 -10.3H-72.3V-8.1H-74.9zM-65.4 -10.3H-62.8V-8.1H-65.4zM-58.3 -10.3H-53.3V-8.1H-58.3zM-6.1 -10.3H-3.4V-8.1H-6.1zM-1.3 -10.3H15.5V-8.1H-1.3zM27.2 -10.3H34.5V-8.1H27.2zM39.0 -10.3H41.7V-8.1H39.0zM43.8 -10.3H46.4V-8.1H43.8zM48.5 -10.3H51.2V-8.1H48.5zM88.9 -10.3H93.9V-8.1H88.9zM107.9 -10.3H112.9V-8.1H107.9zM117.4 -10.3H122.4V-8.1H117.4zM-84.3 -12.4H-81.6V-10.1H-84.3zM-74.8 -12.4H-72.2V-10.1H-74.8zM-58.2 -12.4H-53.2V-10.1H-58.2zM-6.0 -12.4H-3.4V-10.1H-6.0zM-1.3 -12.4H6.0V-10.1H-1.3zM8.2 -12.4H15.5V-10.1H8.2zM29.5 -12.4H34.5V-10.1H29.5zM36.6 -12.4H53.4V-10.1H36.6zM76.9 -12.4H79.5V-10.1H76.9zM88.8 -12.4H96.1V-10.1H88.8zM98.2 -12.4H100.9V-10.1H98.2zM107.7 -12.4H112.7V-10.1H107.7zM119.6 -12.4H122.2V-10.1H119.6zM-79.4 -14.4H-74.4V-12.1H-79.4zM-69.9 -14.4H-64.9V-12.1H-69.9zM-60.4 -14.4H-55.5V-12.1H-60.4zM-15.5 -14.4H-12.9V-12.1H-15.5zM-10.8 -14.4H-5.8V-12.1H-10.8zM-3.7 -14.4H-1.1V-12.1H-3.7zM1.1 -14.4H6.0V-12.1H1.1zM8.2 -14.4H17.9V-12.1H8.2zM27.1 -14.4H29.7V-12.1H27.1zM31.8 -14.4H41.5V-12.1H31.8zM43.6 -14.4H55.7V-12.1H43.6zM76.8 -14.4H79.4V-12.1H76.8zM88.6 -14.4H91.2V-12.1H88.6zM109.9 -14.4H112.5V-12.1H109.9zM119.4 -14.4H122.0V-12.1H119.4zM-81.6 -16.5H-79.0V-14.2H-81.6zM-76.8 -16.5H-74.2V-14.2H-76.8zM-69.8 -16.5H-64.8V-14.2H-69.8zM-8.4 -16.5H-5.8V-14.2H-8.4zM-3.7 -16.5H6.0V-14.2H-3.7zM8.1 -16.5H15.5V-14.2H8.1zM19.9 -16.5H22.5V-14.2H19.9zM29.4 -16.5H39.1V-14.2H29.4zM43.6 -16.5H46.2V-14.2H43.6zM48.3 -16.5H53.2V-14.2H48.3zM69.5 -16.5H79.2V-14.2H69.5zM102.6 -16.5H107.5V-14.2H102.6zM-97.8 -18.5H-92.9V-16.2H-97.8zM-86.1 -18.5H-76.4V-16.2H-86.1zM-74.3 -18.5H-69.3V-16.2H-74.3zM-67.2 -18.5H-64.6V-16.2H-67.2zM-62.5 -18.5H-59.9V-16.2H-62.5zM-17.8 -18.5H-15.2V-16.2H-17.8zM-10.7 -18.5H22.5V-16.2H-10.7zM24.6 -18.5H41.3V-16.2H24.6zM43.4 -18.5H50.7V-16.2H43.4zM78.8 -18.5H81.3V-16.2H78.8zM85.8 -18.5H88.4V-16.2H85.8zM92.9 -18.5H95.5V-16.2H92.9zM102.3 -18.5H104.9V-16.2H102.3zM109.4 -18.5H112.0V-16.2H109.4zM114.1 -18.5H119.0V-16.2H114.1zM-99.9 -20.6H-97.3V-18.3H-99.9zM-90.5 -20.6H-87.9V-18.3H-90.5zM-76.4 -20.6H-73.8V-18.3H-76.4zM-64.7 -20.6H-57.4V-18.3H-64.7zM-15.4 -20.6H-5.7V-18.3H-15.4zM-3.6 -20.6H3.6V-18.3H-3.6zM5.7 -20.6H36.5V-18.3H5.7zM38.6 -20.6H43.5V-18.3H38.6zM45.7 -20.6H48.2V-18.3H45.7zM64.4 -20.6H67.0V-18.3H64.4zM71.5 -20.6H74.1V-18.3H71.5zM97.3 -20.6H99.9V-18.3H97.3zM109.0 -20.6H111.6V-18.3H109.0zM116.1 -20.6H118.7V-18.3H116.1zM-97.2 -22.6H-94.6V-20.3H-97.2zM-92.5 -22.6H-90.0V-20.3H-92.5zM-80.8 -22.6H-73.6V-20.3H-80.8zM-64.5 -22.6H-61.9V-20.3H-64.5zM-17.7 -22.6H6.0V-20.3H-17.7zM8.1 -22.6H29.4V-20.3H8.1zM31.5 -22.6H34.0V-20.3H31.5zM36.1 -22.6H41.1V-20.3H36.1zM43.2 -22.6H45.7V-20.3H43.2zM47.8 -22.6H57.4V-20.3H47.8zM99.3 -22.6H104.2V-20.3H99.3zM111.0 -22.6H115.9V-20.3H111.0zM-103.9 -24.6H-96.7V-22.4H-103.9zM-94.6 -24.6H-82.7V-22.4H-94.6zM-75.9 -24.6H-73.3V-22.4H-75.9zM-19.9 -24.6H22.3V-22.4H-19.9zM24.4 -24.6H36.3V-22.4H24.4zM47.7 -24.6H50.3V-22.4H47.7zM52.4 -24.6H57.3V-22.4H52.4zM87.3 -24.6H89.9V-22.4H87.3zM96.7 -24.6H106.2V-22.4H96.7zM110.7 -24.6H115.6V-22.4H110.7zM-108.2 -26.7H-105.6V-24.4H-108.2zM-103.5 -26.7H-101.0V-24.4H-103.5zM-98.9 -26.7H-89.4V-24.4H-98.9zM-84.9 -26.7H-75.4V-24.4H-84.9zM-17.6 -26.7H-15.0V-24.4H-17.6zM-10.6 -26.7H-3.4V-24.4H-10.6zM-1.3 -26.7H8.3V-24.4H-1.3zM10.3 -26.7H36.1V-24.4H10.3zM52.2 -26.7H54.7V-24.4H52.2zM56.8 -26.7H64.0V-24.4H56.8zM107.9 -26.7H110.5V-24.4H107.9zM114.9 -26.7H117.5V-24.4H114.9zM-103.1 -28.7H-86.7V-26.5H-103.1zM-80.0 -28.7H-70.5V-26.5H-80.0zM-12.9 -28.7H3.6V-26.5H-12.9zM5.7 -28.7H8.2V-26.5H5.7zM10.3 -28.7H22.1V-26.5H10.3zM24.2 -28.7H40.6V-26.5H24.2zM86.7 -28.7H89.2V-26.5H86.7zM91.3 -28.7H96.2V-26.5H91.3zM107.5 -28.7H110.1V-26.5H107.5zM-109.5 -30.8H-97.8V-28.5H-109.5zM-95.7 -30.8H-81.7V-28.5H-95.7zM-79.6 -30.8H-74.7V-28.5H-79.6zM-72.7 -30.8H-70.1V-28.5H-72.7zM-15.1 -30.8H-7.9V-28.5H-15.1zM-5.9 -30.8H8.2V-28.5H-5.9zM10.2 -30.8H19.7V-28.5H10.2zM28.7 -30.8H31.2V-28.5H28.7zM63.2 -30.8H65.8V-28.5H63.2zM88.6 -30.8H95.7V-28.5H88.6zM107.0 -30.8H109.5V-28.5H107.0zM-106.7 -32.8H-104.1V-30.5H-106.7zM-102.1 -32.8H-90.4V-30.5H-102.1zM-88.3 -32.8H-81.2V-30.5H-88.3zM-79.2 -32.8H-74.3V-30.5H-79.2zM-72.3 -32.8H-69.8V-30.5H-72.3zM-12.7 -32.8H-10.2V-30.5H-12.7zM-8.1 -32.8H-1.0V-30.5H-8.1zM17.1 -32.8H19.6V-30.5H17.1zM23.9 -32.8H28.8V-30.5H23.9zM78.9 -32.8H86.0V-30.5H78.9zM90.4 -32.8H95.2V-30.5H90.4zM108.7 -32.8H111.2V-30.5H108.7zM113.3 -32.8H115.8V-30.5H113.3zM-99.2 -34.9H-92.1V-32.6H-99.2zM-87.8 -34.9H-85.3V-32.6H-87.8zM-81.0 -34.9H-78.4V-32.6H-81.0zM-74.1 -34.9H-69.3V-32.6H-74.1zM-12.6 -34.9H-10.1V-32.6H-12.6zM-8.1 -34.9H-5.6V-32.6H-8.1zM-3.5 -34.9H-1.0V-32.6H-3.5zM17.0 -34.9H21.8V-32.6H17.0zM69.3 -34.9H74.1V-32.6H69.3zM92.1 -34.9H99.2V-32.6H92.1zM121.7 -34.9H124.2V-32.6H121.7zM-109.8 -36.9H-107.3V-34.6H-109.8zM-100.8 -36.9H-98.3V-34.6H-100.8zM-96.2 -36.9H-89.2V-34.6H-96.2zM-80.4 -36.9H-77.9V-34.6H-80.4zM-73.6 -36.9H-71.1V-34.6H-73.6zM-12.6 -36.9H-10.1V-34.6H-12.6zM-3.5 -36.9H1.3V-34.6H-3.5zM14.6 -36.9H21.6V-34.6H14.6zM23.6 -36.9H26.1V-34.6H23.6zM84.7 -36.9H87.2V-34.6H84.7zM93.7 -36.9H100.8V-34.6H93.7zM102.8 -36.9H105.3V-34.6H102.8zM109.6 -36.9H112.1V-34.6H109.6zM114.1 -36.9H116.6V-34.6H114.1zM118.6 -36.9H121.1V-34.6H118.6zM125.4 -36.9H127.9V-34.6H125.4zM-95.5 -39.0H-93.0V-36.7H-95.5zM-88.8 -39.0H-86.3V-36.7H-88.8zM-79.8 -39.0H-77.3V-36.7H-79.8zM-75.3 -39.0H-72.8V-36.7H-75.3zM-68.6 -39.0H-63.9V-36.7H-68.6zM-10.2 -39.0H-7.7V-36.7H-10.2zM-3.5 -39.0H-1.0V-36.7H-3.5zM10.0 -39.0H14.7V-36.7H10.0zM16.7 -39.0H19.2V-36.7H16.7zM23.5 -39.0H25.9V-36.7H23.5zM88.6 -39.0H97.8V-36.7H88.6zM108.8 -39.0H113.5V-36.7H108.8zM115.5 -39.0H120.2V-36.7H115.5zM124.5 -39.0H127.0V-36.7H124.5zM-92.5 -41.0H-90.1V-38.7H-92.5zM-85.9 -41.0H-81.2V-38.7H-85.9zM-77.0 -41.0H-74.5V-38.7H-77.0zM-68.0 -41.0H-63.4V-38.7H-68.0zM1.0 -41.0H16.8V-38.7H1.0zM21.0 -41.0H23.5V-38.7H21.0zM61.1 -41.0H63.6V-38.7H61.1zM81.2 -41.0H83.6V-38.7H81.2zM87.8 -41.0H94.8V-38.7H87.8zM107.9 -41.0H110.4V-38.7H107.9zM114.6 -41.0H117.0V-38.7H114.6zM123.5 -41.0H128.2V-38.7H123.5zM-87.3 -43.0H-84.9V-40.8H-87.3zM-12.3 -43.0H-7.6V-40.8H-12.3zM1.0 -43.0H3.4V-40.8H1.0zM5.4 -43.0H14.5V-40.8H5.4zM23.1 -43.0H25.5V-40.8H23.1zM56.2 -43.0H58.6V-40.8H56.2zM60.6 -43.0H63.0V-40.8H60.6zM78.3 -43.0H82.9V-40.8H78.3zM102.5 -43.0H107.2V-40.8H102.5zM109.2 -43.0H116.0V-40.8H109.2zM122.4 -43.0H129.3V-40.8H122.4zM-112.7 -45.1H-110.3V-42.8H-112.7zM-10.0 -45.1H-3.2V-42.8H-10.0zM-1.2 -45.1H1.2V-42.8H-1.2zM9.7 -45.1H14.3V-42.8H9.7zM31.6 -45.1H34.0V-42.8H31.6zM60.0 -45.1H62.4V-42.8H60.0zM64.4 -45.1H66.8V-42.8H64.4zM73.1 -45.1H75.6V-42.8H73.1zM77.5 -45.1H82.1V-42.8H77.5zM88.4 -45.1H90.9V-42.8H88.4zM103.8 -45.1H108.4V-42.8H103.8zM110.3 -45.1H128.1V-42.8H110.3zM-111.6 -47.1H-109.2V-44.8H-111.6zM-57.5 -47.1H-55.1V-44.8H-57.5zM-12.0 -47.1H-5.3V-44.8H-12.0zM9.6 -47.1H14.2V-44.8H9.6zM29.1 -47.1H31.5V-44.8H29.1zM70.2 -47.1H72.6V-44.8H70.2zM74.6 -47.1H77.0V-44.8H74.6zM81.0 -47.1H83.4V-44.8H81.0zM104.9 -47.1H113.7V-44.8H104.9zM115.7 -47.1H128.9V-44.8H115.7zM-59.0 -49.1H-56.6V-46.8H-59.0zM-52.6 -49.1H-48.0V-46.8H-52.6zM-46.1 -49.1H-43.8V-46.8H-46.1zM-9.8 -49.1H-5.2V-46.8H-9.8zM11.7 -49.1H14.0V-46.8H11.7zM75.9 -49.1H82.5V-46.8H75.9zM116.5 -49.1H123.2V-46.8H116.5zM125.1 -49.1H127.5V-46.8H125.1zM-109.1 -51.1H-106.8V-48.8H-109.1zM-68.9 -51.1H-60.2V-48.8H-68.9zM-58.3 -51.1H-56.0V-48.8H-58.3zM-54.1 -51.1H-45.4V-48.8H-54.1zM13.6 -51.1H16.0V-48.8H13.6zM28.5 -51.1H30.8V-48.8H28.5zM102.5 -51.1H107.0V-48.8H102.5zM113.1 -51.1H115.5V-48.8H113.1zM117.3 -51.1H123.9V-48.8H117.3zM-107.8 -53.1H-105.5V-50.9H-107.8zM-70.2 -53.1H-61.6V-50.9H-70.2zM-49.3 -53.1H-44.8V-50.9H-49.3zM-43.0 -53.1H-40.7V-50.9H-43.0zM30.2 -53.1H32.5V-50.9H30.2zM103.4 -53.1H105.7V-50.9H103.4zM111.7 -53.1H122.4V-50.9H111.7zM-110.6 -55.1H-108.3V-52.8H-110.6zM-104.4 -55.1H-102.1V-52.8H-104.4zM-67.2 -55.1H-62.8V-52.8H-67.2zM-48.6 -55.1H-42.2V-52.8H-48.6zM100.0 -55.1H102.3V-52.8H100.0zM106.2 -55.1H112.6V-52.8H106.2zM116.5 -55.1H120.9V-52.8H116.5zM-135.5 -57.0H-131.2V-54.8H-135.5zM-109.0 -57.0H-106.7V-54.8H-109.0zM-105.0 -57.0H-100.6V-54.8H-105.0zM-70.3 -57.0H-68.1V-54.8H-70.3zM-45.9 -57.0H-41.6V-54.8H-45.9zM15.1 -57.0H17.4V-54.8H15.1zM27.4 -57.0H29.6V-54.8H27.4zM82.3 -57.0H84.6V-54.8H82.3zM86.4 -57.0H90.7V-54.8H86.4zM92.5 -57.0H96.8V-54.8H92.5zM100.6 -57.0H105.0V-54.8H100.6zM127.1 -57.0H129.4V-54.8H127.1zM131.2 -57.0H133.5V-54.8H131.2zM-133.5 -59.0H-131.2V-56.8H-133.5zM-107.4 -59.0H-97.1V-56.8H-107.4zM-95.4 -59.0H-93.1V-56.8H-95.4zM-71.3 -59.0H-63.1V-56.8H-71.3zM-45.2 -59.0H-43.0V-56.8H-45.2zM-11.1 -59.0H-8.9V-56.8H-11.1zM14.9 -59.0H19.2V-56.8H14.9zM20.9 -59.0H25.2V-56.8H20.9zM81.1 -59.0H85.3V-56.8H81.1zM89.1 -59.0H93.4V-56.8H89.1zM101.2 -59.0H103.4V-56.8H101.2zM109.2 -59.0H113.4V-56.8H109.2zM123.2 -59.0H131.5V-56.8H123.2zM-131.4 -60.9H-129.2V-58.7H-131.4zM-107.7 -60.9H-105.5V-58.7H-107.7zM-101.8 -60.9H-97.6V-58.7H-101.8zM-68.2 -60.9H-62.1V-58.7H-68.2zM16.7 -60.9H18.9V-58.7H16.7zM20.6 -60.9H22.8V-58.7H20.6zM24.6 -60.9H26.8V-58.7H24.6zM30.5 -60.9H32.7V-58.7H30.5zM64.0 -60.9H66.2V-58.7H64.0zM77.8 -60.9H84.0V-58.7H77.8zM107.5 -60.9H113.6V-58.7H107.5zM119.3 -60.9H123.5V-58.7H119.3zM129.2 -60.9H131.4V-58.7H129.2zM-123.4 -62.8H-119.3V-60.6H-123.4zM-92.3 -62.8H-90.2V-60.6H-92.3zM-67.1 -62.8H-61.0V-60.6H-67.1zM-47.7 -62.8H-45.5V-60.6H-47.7zM55.2 -62.8H57.4V-60.6H55.2zM68.8 -62.8H71.0V-60.6H68.8zM74.6 -62.8H76.8V-60.6H74.6zM78.5 -62.8H82.6V-60.6H78.5zM105.7 -62.8H111.7V-60.6H105.7zM115.4 -62.8H117.6V-60.6H115.4zM125.1 -62.8H129.2V-60.6H125.1zM130.9 -62.8H133.1V-60.6H130.9zM136.3 -64.7H137.5V-62.5H136.3zM-137.5 -64.7H-136.3V-62.5H-137.5zM-130.8 -64.7H-128.7V-62.5H-130.8zM-125.1 -64.7H-122.9V-62.5H-125.1zM-117.5 -64.7H-115.3V-62.5H-117.5zM-106.0 -64.7H-103.9V-62.5H-106.0zM-88.8 -64.7H-86.7V-62.5H-88.8zM-64.0 -64.7H-60.0V-62.5H-64.0zM-58.3 -64.7H-56.2V-62.5H-58.3zM-52.6 -64.7H-44.7V-62.5H-52.6zM-35.4 -64.7H-33.3V-62.5H-35.4zM-31.6 -64.7H-29.5V-62.5H-31.6zM33.3 -64.7H43.0V-62.5H33.3zM44.7 -64.7H48.8V-62.5H44.7zM63.8 -64.7H73.6V-62.5H63.8zM103.9 -64.7H109.8V-62.5H103.9zM115.3 -64.7H119.4V-62.5H115.3zM128.7 -64.7H136.5V-62.5H128.7zM133.8 -66.5H135.0V-64.4H133.8zM-135.0 -66.5H-133.8V-64.4H-135.0zM-128.5 -66.5H-126.3V-64.4H-128.5zM-104.1 -66.5H-102.0V-64.4H-104.1zM-61.0 -66.5H-45.8V-64.4H-61.0zM-36.7 -66.5H-28.9V-64.4H-36.7zM-17.9 -66.5H-15.8V-64.4H-17.9zM-12.3 -66.5H-10.2V-64.4H-12.3zM40.2 -66.5H42.3V-64.4H40.2zM62.6 -66.5H72.3V-64.4H62.6zM75.8 -66.5H77.9V-64.4H75.8zM103.9 -66.5H106.0V-64.4H103.9zM115.1 -66.5H117.2V-64.4H115.1zM126.3 -66.5H134.1V-64.4H126.3zM131.3 -68.3H132.5V-66.3H131.3zM-132.5 -68.3H-124.0V-66.3H-132.5zM-113.2 -68.3H-109.3V-66.3H-113.2zM-94.8 -68.3H-92.7V-66.3H-94.8zM-91.1 -68.3H-89.0V-66.3H-91.1zM-83.8 -68.3H-79.8V-66.3H-83.8zM-69.1 -68.3H-67.0V-66.3H-69.1zM-65.4 -68.3H-63.3V-66.3H-65.4zM-61.7 -68.3H-59.6V-66.3H-61.7zM-56.2 -68.3H-44.9V-66.3H-56.2zM-37.8 -68.3H-26.5V-66.3H-37.8zM-19.4 -68.3H-15.5V-66.3H-19.4zM26.5 -68.3H28.6V-66.3H26.5zM30.2 -68.3H34.1V-66.3H30.2zM56.0 -68.3H58.0V-66.3H56.0zM61.5 -68.3H63.5V-66.3H61.5zM65.1 -68.3H69.1V-66.3H65.1zM101.9 -68.3H105.8V-66.3H101.9zM107.4 -68.3H111.3V-66.3H107.4zM125.8 -68.3H131.6V-66.3H125.8zM128.8 -70.1H129.9V-68.1H128.8zM-129.9 -70.1H-128.8V-68.1H-129.9zM-127.2 -70.1H-121.6V-68.1H-127.2zM-120.0 -70.1H-116.1V-68.1H-120.0zM-114.6 -70.1H-107.1V-68.1H-114.6zM-100.2 -70.1H-98.1V-68.1H-100.2zM-91.1 -70.1H-89.1V-68.1H-91.1zM-82.1 -70.1H-72.9V-68.1H-82.1zM-60.5 -70.1H-54.9V-68.1H-60.5zM-53.3 -70.1H-51.3V-68.1H-53.3zM-49.7 -70.1H-47.6V-68.1H-49.7zM-46.1 -70.1H-44.0V-68.1H-46.1zM-38.9 -70.1H-26.0V-68.1H-38.9zM-24.5 -70.1H-22.4V-68.1H-24.5zM-19.0 -70.1H-13.4V-68.1H-19.0zM26.0 -70.1H33.5V-68.1H26.0zM62.1 -70.1H64.1V-68.1H62.1zM65.7 -70.1H67.7V-68.1H65.7zM114.3 -70.1H116.4V-68.1H114.3zM123.4 -70.1H125.4V-68.1H123.4zM127.0 -70.1H129.0V-68.1H127.0zM126.2 -71.9H127.3V-69.9H126.2zM-127.3 -71.9H-122.6V-69.9H-127.3zM-119.3 -71.9H-105.0V-69.9H-119.3zM-98.1 -71.9H-94.4V-69.9H-98.1zM-84.0 -71.9H-82.0V-69.9H-84.0zM-78.7 -71.9H-71.4V-69.9H-78.7zM-61.0 -71.9H-44.9V-69.9H-61.0zM-38.1 -71.9H-14.9V-69.9H-38.1zM25.5 -71.9H29.3V-69.9H25.5zM30.8 -71.9H32.8V-69.9H30.8zM55.5 -71.9H61.0V-69.9H55.5zM64.3 -71.9H68.1V-69.9H64.3zM96.1 -71.9H98.1V-69.9H96.1zM103.2 -71.9H110.5V-69.9H103.2zM115.6 -71.9H117.6V-69.9H115.6zM119.1 -71.9H122.9V-69.9H119.1zM124.4 -71.9H126.4V-69.9H124.4zM-122.0 -73.6H-120.0V-71.6H-122.0zM-116.8 -73.6H-104.5V-71.6H-116.8zM-103.0 -73.6H-99.3V-71.6H-103.0zM-97.8 -73.6H-92.4V-71.6H-97.8zM-89.1 -73.6H-87.2V-71.6H-89.1zM-85.7 -73.6H-59.5V-71.6H-85.7zM-56.3 -73.6H-42.2V-71.6H-56.3zM-40.7 -73.6H-14.6V-71.6H-40.7zM26.7 -73.6H28.6V-71.6H26.7zM35.3 -73.6H37.3V-71.6H35.3zM56.1 -73.6H58.0V-71.6H56.1zM59.5 -73.6H66.7V-71.6H59.5zM94.1 -73.6H96.1V-71.6H94.1zM101.0 -73.6H104.7V-71.6H101.0zM107.9 -73.6H109.9V-71.6H107.9zM111.4 -73.6H115.1V-71.6H111.4zM116.6 -73.6H123.7V-71.6H116.6zM120.7 -75.3H121.8V-73.4H120.7zM-121.8 -75.3H-120.7V-73.4H-121.8zM-110.8 -75.3H-98.8V-73.4H-110.8zM-95.6 -75.3H-90.3V-73.4H-95.6zM-88.9 -75.3H-43.0V-73.4H-88.9zM-38.1 -75.3H-12.6V-73.4H-38.1zM15.9 -75.3H19.6V-73.4H15.9zM22.7 -75.3H26.3V-73.4H22.7zM34.5 -75.3H38.1V-73.4H34.5zM53.1 -75.3H65.2V-73.4H53.1zM81.9 -75.3H83.8V-73.4H81.9zM85.2 -75.3H87.2V-73.4H85.2zM88.6 -75.3H95.6V-73.4H88.6zM97.1 -75.3H121.0V-73.4H97.1zM-106.5 -76.9H-101.3V-75.0H-106.5zM-99.9 -76.9H-96.4V-75.0H-99.9zM-86.7 -76.9H-43.6V-75.0H-86.7zM-40.5 -76.9H-13.9V-75.0H-40.5zM-12.5 -76.9H-10.6V-75.0H-12.5zM13.9 -76.9H19.1V-75.0H13.9zM32.1 -76.9H38.9V-75.0H32.1zM40.3 -76.9H47.1V-75.0H40.3zM50.2 -76.9H53.7V-75.0H50.2zM56.8 -76.9H62.0V-75.0H56.8zM70.0 -76.9H75.2V-75.0H70.0zM79.9 -76.9H83.4V-75.0H79.9zM88.2 -76.9H90.0V-75.0H88.2zM91.5 -76.9H106.5V-75.0H91.5zM116.2 -76.9H118.1V-75.0H116.2zM-82.9 -78.5H-50.5V-76.7H-82.9zM-49.1 -78.5H-47.3V-76.7H-49.1zM-45.9 -78.5H-10.3V-76.7H-45.9zM10.3 -78.5H13.8V-76.7H10.3zM32.8 -78.5H41.1V-76.7H32.8zM42.5 -78.5H47.5V-76.7H42.5zM48.9 -78.5H52.4V-76.7H48.9zM53.7 -78.5H62.0V-76.7H53.7zM68.2 -78.5H74.9V-76.7H68.2zM76.2 -78.5H79.7V-76.7H76.2zM85.9 -78.5H97.4V-76.7H85.9zM-79.0 -80.1H-10.0V-78.3H-79.0zM8.5 -80.1H13.4V-78.3H8.5zM33.5 -80.1H44.6V-78.3H33.5zM53.8 -80.1H64.9V-78.3H53.8zM70.9 -80.1H72.7V-78.3H70.9zM83.4 -80.1H93.0V-78.3H83.4zM-72.0 -81.5H-6.7V-79.8H-72.0zM6.7 -81.5H16.0V-79.8H6.7zM30.9 -81.5H34.2V-79.8H30.9zM35.5 -81.5H38.7V-79.8H35.5zM40.0 -81.5H41.8V-79.8H40.0zM55.1 -81.5H64.5V-79.8H55.1zM67.3 -81.5H69.0V-79.8H67.3zM82.4 -81.5H85.7V-79.8H82.4zM86.9 -81.5H88.7V-79.8H86.9zM-62.5 -82.9H-5.0V-81.3H-62.5zM6.5 -82.9H15.5V-81.3H6.5zM28.5 -82.9H37.5V-81.3H28.5zM54.9 -82.9H62.5V-81.3H54.9zM-54.8 -84.1H-6.3V-82.6H-54.8zM6.3 -84.1H9.4V-82.6H6.3zM31.9 -84.1H33.5V-82.6H31.9zM54.6 -84.1H56.3V-82.6H54.6zM-49.0 -85.2H-46.0V-83.9H-49.0zM-43.5 -85.2H-40.5V-83.9H-43.5zM-39.4 -85.2H-36.4V-83.9H-39.4zM-35.3 -85.2H-33.6V-83.9H-35.3zM-20.1 -85.2H-15.7V-83.9H-20.1zM-14.6 -85.2H-13.0V-83.9H-14.6z"/>
<path fill="#FFD228" d="M126.5 44.8H128.9V47.1H126.5zM-64.6 42.8H-62.2V45.1H-64.6zM127.8 42.8H130.2V45.1H127.8zM-54.7 38.7H-52.2V41.0H-54.7zM130.2 38.7H132.6V41.0H130.2zM-50.6 36.7H-48.1V39.0H-50.6zM124.5 36.7H127.0V39.0H124.5zM-55.5 34.6H-50.8V36.9H-55.5zM136.7 34.6H139.2V36.9H136.7zM23.8 32.6H26.3V34.9H23.8zM-56.3 30.5H-53.7V32.8H-56.3zM26.2 30.5H28.8V32.8H26.2zM-58.9 28.5H-56.3V30.8H-58.9zM-45.0 28.5H-42.5V30.8H-45.0zM-40.6 26.5H-38.1V28.7H-40.6zM29.1 20.3H31.7V22.6H29.1zM-55.3 18.3H-50.3V20.6H-55.3zM-46.0 16.2H-43.4V18.5H-46.0zM34.0 16.2H36.6V18.5H34.0zM15.2 14.2H17.8V16.5H15.2zM41.2 14.2H43.8V16.5H41.2zM-55.7 12.1H-53.1V14.4H-55.7zM-51.0 12.1H-48.4V14.4H-51.0zM138.5 10.1H141.1V12.4H138.5zM98.4 8.1H101.0V10.3H98.4zM29.6 6.0H32.2V8.3H29.6zM138.9 6.0H141.5V8.3H138.9zM-48.9 4.0H-46.3V6.3H-48.9zM105.7 4.0H110.7V6.3H105.7zM-41.8 1.9H-39.2V4.2H-41.8zM24.9 1.9H27.5V4.2H24.9zM-77.5 -0.1H-74.9V2.2H-77.5zM101.1 -0.1H106.1V2.2H101.1zM-77.5 -2.2H-72.5V0.1H-77.5zM-46.6 -2.2H-43.9V0.1H-46.6zM8.2 -2.2H13.2V0.1H8.2zM96.3 -2.2H99.0V0.1H96.3zM101.1 -2.2H103.7V0.1H101.1zM-51.3 -4.2H-46.3V-1.9H-51.3zM20.1 -4.2H22.7V-1.9H20.1zM29.6 -4.2H32.3V-1.9H29.6zM41.5 -4.2H44.2V-1.9H41.5zM-48.9 -6.3H-46.3V-4.0H-48.9zM-10.8 -6.3H-8.2V-4.0H-10.8zM5.8 -6.3H8.4V-4.0H5.8zM91.5 -6.3H94.1V-4.0H91.5zM36.7 -8.3H39.3V-6.0H36.7zM77.1 -8.3H79.7V-6.0H77.1zM98.5 -8.3H101.1V-6.0H98.5zM105.6 -8.3H108.3V-6.0H105.6zM34.3 -10.3H39.3V-8.1H34.3zM46.2 -10.3H48.8V-8.1H46.2zM77.0 -10.3H79.6V-8.1H77.0zM98.4 -10.3H101.0V-8.1H98.4zM-81.9 -12.4H-74.5V-10.1H-81.9zM67.4 -12.4H70.0V-10.1H67.4zM103.0 -12.4H105.6V-10.1H103.0zM114.8 -12.4H117.4V-10.1H114.8zM-6.0 -14.4H-3.4V-12.1H-6.0zM-1.3 -14.4H1.3V-12.1H-1.3zM29.5 -14.4H32.1V-12.1H29.5zM74.4 -14.4H77.0V-12.1H74.4zM91.0 -14.4H93.6V-12.1H91.0zM-91.0 -16.5H-88.4V-14.2H-91.0zM38.8 -16.5H41.4V-14.2H38.8zM109.6 -16.5H112.2V-14.2H109.6zM41.1 -18.5H43.7V-16.2H41.1zM67.0 -18.5H69.6V-16.2H67.0zM76.4 -18.5H79.0V-16.2H76.4zM88.2 -18.5H90.8V-16.2H88.2zM-97.5 -20.6H-92.6V-18.3H-97.5zM36.3 -20.6H38.9V-18.3H36.3zM95.0 -20.6H97.5V-18.3H95.0zM-94.9 -22.6H-92.3V-20.3H-94.9zM-90.2 -22.6H-87.6V-20.3H-90.2zM-83.2 -22.6H-80.6V-20.3H-83.2zM-96.9 -24.6H-94.3V-22.4H-96.9zM-82.9 -24.6H-80.3V-22.4H-82.9zM-68.9 -24.6H-66.4V-22.4H-68.9zM64.0 -24.6H66.6V-22.4H64.0zM78.0 -24.6H80.6V-22.4H78.0zM-101.2 -26.7H-98.7V-24.4H-101.2zM-89.6 -26.7H-87.0V-24.4H-89.6zM-15.2 -26.7H-10.3V-24.4H-15.2zM-3.6 -26.7H-1.0V-24.4H-3.6zM75.4 -26.7H78.0V-24.4H75.4zM82.4 -26.7H84.9V-24.4H82.4zM103.3 -26.7H108.2V-24.4H103.3zM110.3 -26.7H112.8V-24.4H110.3zM-17.5 -28.7H-12.6V-26.5H-17.5zM63.5 -28.7H66.1V-26.5H63.5zM109.8 -28.7H112.4V-26.5H109.8zM-17.4 -30.8H-14.9V-28.5H-17.4zM72.4 -30.8H75.0V-28.5H72.4zM86.3 -30.8H88.8V-28.5H86.3zM95.5 -30.8H98.0V-28.5H95.5zM100.1 -30.8H102.6V-28.5H100.1zM-74.6 -32.8H-72.1V-30.5H-74.6zM-78.7 -34.9H-73.9V-32.6H-78.7zM-10.4 -34.9H-7.9V-32.6H-10.4zM-78.1 -36.9H-75.6V-34.6H-78.1zM-10.3 -36.9H-7.8V-34.6H-10.3zM64.3 -36.9H69.1V-34.6H64.3zM107.3 -36.9H109.8V-34.6H107.3zM120.9 -36.9H125.6V-34.6H120.9zM7.7 -39.0H10.2V-36.7H7.7zM106.5 -39.0H109.0V-36.7H106.5zM120.0 -39.0H124.7V-36.7H120.0zM-7.9 -41.0H-5.4V-38.7H-7.9zM-1.2 -41.0H1.2V-38.7H-1.2zM16.6 -41.0H19.1V-38.7H16.6zM58.9 -41.0H61.4V-38.7H58.9zM116.8 -41.0H119.3V-38.7H116.8zM121.3 -41.0H123.7V-38.7H121.3zM-89.5 -43.0H-87.1V-40.8H-89.5zM-1.2 -43.0H1.2V-40.8H-1.2zM120.2 -43.0H122.7V-40.8H120.2zM14.1 -45.1H16.5V-42.8H14.1zM20.7 -45.1H23.1V-42.8H20.7zM13.9 -47.1H16.4V-44.8H13.9zM20.4 -47.1H25.0V-44.8H20.4zM13.8 -49.1H16.2V-46.8H13.8zM112.3 -49.1H114.6V-46.8H112.3zM20.0 -51.1H22.3V-48.8H20.0zM26.3 -51.1H28.7V-48.8H26.3zM108.9 -51.1H111.2V-48.8H108.9zM28.1 -53.1H30.4V-50.9H28.1zM105.5 -53.1H107.8V-50.9H105.5zM23.6 -55.1H25.9V-52.8H23.6zM27.7 -55.1H30.1V-52.8H27.7zM102.1 -55.1H106.4V-52.8H102.1zM21.3 -57.0H25.6V-54.8H21.3zM-93.4 -59.0H-91.1V-56.8H-93.4zM-97.8 -60.9H-95.6V-58.7H-97.8zM32.4 -60.9H34.7V-58.7H32.4zM73.9 -60.9H76.1V-58.7H73.9zM24.1 -62.8H26.3V-60.6H24.1zM76.6 -62.8H78.7V-60.6H76.6zM13.7 -68.3H15.7V-66.3H13.7zM-101.6 -76.9H-99.7V-75.0H-101.6zM53.5 -76.9H57.0V-75.0H53.5zM-47.5 -78.5H-45.7V-76.7H-47.5zM52.1 -78.5H54.0V-76.7H52.1z"/>
<path fill="#FF9B0A" d="M124.3 44.8H126.7V47.1H124.3zM-55.1 36.7H-52.6V39.0H-55.1zM102.0 36.7H104.5V39.0H102.0zM105.0 34.6H107.6V36.9H105.0zM-53.6 32.6H-51.1V34.9H-53.6zM-54.0 30.5H-51.4V32.8H-54.0zM-56.6 28.5H-54.0V30.8H-56.6zM-52.0 28.5H-49.4V30.8H-52.0zM-43.3 22.4H-40.7V24.6H-43.3zM43.0 22.4H45.6V24.6H43.0zM43.3 18.3H45.9V20.6H43.3zM-53.2 14.2H-48.3V16.5H-53.2zM-39.1 14.2H-36.5V16.5H-39.1zM34.1 14.2H36.7V16.5H34.1zM-53.4 12.1H-50.7V14.4H-53.4zM-39.2 10.1H-36.6V12.4H-39.2zM15.3 8.1H17.9V10.3H15.3zM138.7 8.1H141.4V10.3H138.7zM98.5 6.0H101.1V8.3H98.5zM110.4 6.0H113.0V8.3H110.4zM13.0 4.0H18.0V6.3H13.0zM32.0 4.0H34.6V6.3H32.0zM110.5 4.0H113.1V6.3H110.5zM-48.9 1.9H-43.9V4.2H-48.9zM98.7 1.9H101.3V4.2H98.7zM110.6 -0.1H113.2V2.2H110.6zM91.6 -2.2H94.2V0.1H91.6zM105.9 -2.2H108.5V0.1H105.9zM89.2 -4.2H91.8V-1.9H89.2zM115.3 -4.2H118.0V-1.9H115.3zM15.3 -6.3H18.0V-4.0H15.3zM98.6 -6.3H101.2V-4.0H98.6zM-8.4 -8.3H-5.8V-6.0H-8.4zM-67.8 -10.3H-65.2V-8.1H-67.8zM-63.0 -10.3H-60.4V-8.1H-63.0zM-10.8 -10.3H-8.2V-8.1H-10.8zM-3.7 -10.3H-1.1V-8.1H-3.7zM93.6 -10.3H96.3V-8.1H93.6zM115.0 -10.3H117.6V-8.1H115.0zM-70.0 -12.4H-67.4V-10.1H-70.0zM-65.3 -12.4H-60.3V-10.1H-65.3zM34.2 -12.4H36.9V-10.1H34.2zM74.5 -12.4H77.1V-10.1H74.5zM-84.1 -14.4H-81.5V-12.1H-84.1zM-13.1 -14.4H-10.5V-12.1H-13.1zM41.3 -14.4H43.9V-12.1H41.3zM67.3 -14.4H69.9V-12.1H67.3zM102.8 -14.4H105.4V-12.1H102.8zM88.4 -16.5H91.0V-14.2H88.4zM-93.1 -18.5H-90.5V-16.2H-93.1zM97.6 -18.5H102.5V-16.2H97.6zM76.2 -20.6H78.8V-18.3H76.2zM-101.9 -22.6H-99.3V-20.3H-101.9zM91.7 -26.7H94.2V-24.4H91.7zM101.0 -26.7H103.5V-24.4H101.0zM100.6 -28.7H103.1V-26.5H100.6zM84.0 -30.8H86.5V-28.5H84.0zM104.7 -30.8H107.2V-28.5H104.7zM62.9 -32.8H65.4V-30.5H62.9zM67.5 -32.8H70.0V-30.5H67.5zM95.0 -32.8H97.5V-30.5H95.0zM106.4 -32.8H109.0V-30.5H106.4zM-5.8 -34.9H-3.3V-32.6H-5.8zM62.5 -34.9H65.0V-32.6H62.5zM98.9 -34.9H101.5V-32.6H98.9zM103.5 -34.9H108.3V-32.6H103.5zM-87.2 -36.9H-84.7V-34.6H-87.2zM-75.9 -36.9H-73.4V-34.6H-75.9zM-86.6 -39.0H-84.1V-36.7H-86.6zM18.8 -41.0H21.3V-38.7H18.8zM119.0 -41.0H121.5V-38.7H119.0zM-7.8 -43.0H-5.4V-40.8H-7.8zM118.0 -43.0H120.4V-40.8H118.0zM25.0 -45.1H29.6V-42.8H25.0zM18.3 -47.1H20.7V-44.8H18.3zM15.9 -49.1H18.3V-46.8H15.9zM22.4 -49.1H26.9V-46.8H22.4zM110.1 -49.1H112.5V-46.8H110.1zM114.4 -49.1H116.8V-46.8H114.4zM21.8 -53.1H24.2V-50.9H21.8zM19.2 -57.0H21.5V-54.8H19.2zM25.3 -57.0H27.6V-54.8H25.3zM-89.4 -59.0H-83.1V-56.8H-89.4zM18.9 -59.0H21.2V-56.8H18.9zM18.6 -60.9H20.8V-58.7H18.6zM28.5 -60.9H30.7V-58.7H28.5zM40.3 -60.9H42.6V-58.7H40.3zM46.3 -60.9H48.5V-58.7H46.3zM28.0 -62.8H30.2V-60.6H28.0zM41.6 -62.8H43.8V-60.6H41.6zM49.4 -62.8H53.5V-60.6H49.4zM61.0 -62.8H63.2V-60.6H61.0zM66.9 -62.8H69.0V-60.6H66.9zM70.7 -62.8H72.9V-60.6H70.7zM13.9 -66.5H16.0V-64.4H13.9zM15.5 -68.3H17.6V-66.3H15.5z"/>
<path fill="#FF500A" d="M-65.2 40.8H-62.8V43.0H-65.2zM126.8 40.8H133.7V43.0H126.8zM-51.4 32.6H-48.8V34.9H-51.4zM-51.7 30.5H-49.1V32.8H-51.7zM-54.3 28.5H-51.7V30.8H-54.3zM28.7 28.5H33.5V30.8H28.7zM139.3 28.5H141.8V30.8H139.3zM-52.2 26.5H-49.6V28.7H-52.2zM139.9 26.5H142.5V28.7H139.9zM-50.1 24.4H-47.5V26.7H-50.1zM28.9 24.4H31.5V26.7H28.9zM40.6 24.4H43.1V26.7H40.6zM140.5 24.4H143.0V26.7H140.5zM-52.6 22.4H-50.0V24.6H-52.6zM115.0 8.1H117.6V10.3H115.0zM115.1 6.0H117.8V8.3H115.1zM-46.5 4.0H-43.9V6.3H-46.5zM103.4 1.9H106.1V4.2H103.4zM94.0 -0.1H96.6V2.2H94.0zM32.0 -2.2H34.7V0.1H32.0zM96.3 -4.2H98.9V-1.9H96.3zM103.4 -4.2H106.1V-1.9H103.4zM-1.3 -6.3H3.7V-4.0H-1.3zM20.1 -6.3H22.7V-4.0H20.1zM96.2 -6.3H98.8V-4.0H96.2zM91.4 -8.3H94.0V-6.0H91.4zM-82.0 -10.3H-79.4V-8.1H-82.0zM-8.4 -10.3H-5.8V-8.1H-8.4zM100.8 -10.3H103.4V-8.1H100.8zM-60.6 -12.4H-57.9V-10.1H-60.6zM93.3 -14.4H95.9V-12.1H93.3zM-88.6 -16.5H-86.0V-14.2H-88.6zM-90.8 -18.5H-88.2V-16.2H-90.8zM-83.5 -20.6H-78.5V-18.3H-83.5zM-71.7 -20.6H-69.1V-18.3H-71.7zM66.8 -20.6H69.4V-18.3H66.8zM99.6 -20.6H102.2V-18.3H99.6zM111.4 -20.6H114.0V-18.3H111.4zM85.3 -22.6H87.9V-20.3H85.3zM-80.6 -24.6H-78.0V-22.4H-80.6zM-73.6 -24.6H-71.0V-22.4H-73.6zM75.7 -24.6H78.3V-22.4H75.7zM94.3 -24.6H96.9V-22.4H94.3zM112.6 -26.7H115.2V-24.4H112.6zM72.8 -28.7H75.3V-26.5H72.8zM98.3 -28.7H100.8V-26.5H98.3zM97.3 -32.8H104.4V-30.5H97.3zM102.0 -39.0H104.5V-36.7H102.0zM14.2 -43.0H16.7V-40.8H14.2zM20.9 -43.0H23.3V-40.8H20.9zM22.8 -45.1H25.3V-42.8H22.8zM105.8 -49.1H108.2V-46.8H105.8zM17.9 -51.1H20.2V-48.8H17.9zM111.0 -51.1H113.3V-48.8H111.0zM19.5 -55.1H23.9V-52.8H19.5zM25.7 -55.1H28.0V-52.8H25.7zM17.2 -57.0H19.5V-54.8H17.2zM34.4 -60.9H38.6V-58.7H34.4zM44.3 -60.9H46.5V-58.7H44.3zM56.1 -60.9H60.3V-58.7H56.1zM70.0 -60.9H74.1V-58.7H70.0zM31.9 -62.8H36.0V-60.6H31.9zM64.9 -62.8H67.1V-60.6H64.9zM15.8 -66.5H17.9V-64.4H15.8z"/>
<path fill="#F00000" d="M-50.2 38.7H-47.8V41.0H-50.2zM127.9 38.7H130.4V41.0H127.9zM-66.3 36.7H-63.9V39.0H-66.3zM26.1 32.6H28.6V34.9H26.1zM137.6 32.6H140.2V34.9H137.6zM28.8 26.5H31.4V28.7H28.8zM-52.4 24.4H-49.8V26.7H-52.4zM-43.1 24.4H-40.6V26.7H-43.1zM-47.9 22.4H-45.4V24.6H-47.9zM29.0 22.4H31.6V24.6H29.0zM40.7 22.4H43.3V24.6H40.7zM43.2 20.3H45.7V22.6H43.2zM41.0 18.3H43.5V20.6H41.0zM-48.4 16.2H-45.8V18.5H-48.4zM-39.2 12.1H-36.5V14.4H-39.2zM100.8 8.1H103.4V10.3H100.8zM13.0 6.0H17.9V8.3H13.0zM112.8 6.0H115.4V8.3H112.8zM-44.1 4.0H-41.5V6.3H-44.1zM93.8 4.0H96.5V6.3H93.8zM-44.2 1.9H-41.5V4.2H-44.2zM110.6 1.9H113.2V4.2H110.6zM29.7 -0.1H32.3V2.2H29.7zM113.0 -4.2H115.6V-1.9H113.0zM-8.4 -6.3H-5.8V-4.0H-8.4zM-3.7 -6.3H-1.1V-4.0H-3.7zM112.9 -6.3H115.5V-4.0H112.9zM74.7 -8.3H77.4V-6.0H74.7zM96.1 -8.3H98.8V-6.0H96.1zM74.7 -10.3H77.3V-8.1H74.7zM95.7 -14.4H98.3V-12.1H95.7zM-83.9 -16.5H-81.3V-14.2H-83.9zM-79.2 -16.5H-76.6V-14.2H-79.2zM95.5 -16.5H98.1V-14.2H95.5zM-92.8 -20.6H-90.3V-18.3H-92.8zM113.7 -20.6H116.3V-18.3H113.7zM-87.9 -22.6H-85.3V-20.3H-87.9zM-66.8 -22.6H-64.2V-20.3H-66.8zM64.2 -22.6H66.8V-20.3H64.2zM63.8 -26.7H66.4V-24.4H63.8zM68.4 -26.7H71.0V-24.4H68.4zM89.4 -26.7H91.9V-24.4H89.4zM65.8 -28.7H68.4V-26.5H65.8zM75.1 -28.7H77.7V-26.5H75.1zM82.0 -28.7H84.6V-26.5H82.0zM-75.0 -30.8H-72.4V-28.5H-75.0zM97.8 -30.8H100.3V-28.5H97.8zM102.4 -30.8H104.9V-28.5H102.4zM104.1 -32.8H106.7V-30.5H104.1zM-82.7 -36.9H-80.2V-34.6H-82.7zM5.5 -39.0H8.0V-36.7H5.5zM104.3 -39.0H106.8V-36.7H104.3zM-88.1 -41.0H-85.6V-38.7H-88.1zM18.5 -45.1H20.9V-42.8H18.5zM24.2 -51.1H26.6V-48.8H24.2zM17.4 -55.1H19.7V-52.8H17.4zM-91.9 -60.9H-89.7V-58.7H-91.9zM42.3 -60.9H44.5V-58.7H42.3zM60.1 -60.9H62.3V-58.7H60.1zM66.0 -60.9H68.2V-58.7H66.0zM39.7 -62.8H41.9V-60.6H39.7zM43.6 -62.8H45.7V-60.6H43.6z"/>
<path fill="#D72828" d="M-65.8 38.7H-63.4V41.0H-65.8zM-52.5 38.7H-50.0V41.0H-52.5zM132.4 38.7H134.9V41.0H132.4zM102.8 34.6H105.3V36.9H102.8zM138.5 30.5H141.0V32.8H138.5zM-45.3 26.5H-40.4V28.7H-45.3zM-47.8 24.4H-42.9V26.7H-47.8zM-40.8 24.4H-38.2V26.7H-40.8zM-50.3 22.4H-47.7V24.6H-50.3zM-52.8 20.3H-47.8V22.6H-52.8zM-45.7 20.3H-36.1V22.6H-45.7zM-50.6 18.3H-48.0V20.6H-50.6zM-45.9 18.3H-41.0V20.6H-45.9zM-38.9 18.3H-36.3V20.6H-38.9zM-39.0 16.2H-36.4V18.5H-39.0zM41.1 16.2H43.7V18.5H41.1zM-48.5 14.2H-45.9V16.5H-48.5zM-48.6 12.1H-46.0V14.4H-48.6zM34.2 12.1H36.8V14.4H34.2zM103.1 8.1H115.2V10.3H103.1zM96.1 6.0H98.8V8.3H96.1zM100.9 6.0H103.5V8.3H100.9zM105.6 6.0H108.3V8.3H105.6zM29.6 4.0H32.2V6.3H29.6zM96.2 4.0H98.8V6.3H96.2zM112.9 4.0H117.9V6.3H112.9zM-77.5 1.9H-74.9V4.2H-77.5zM29.6 1.9H34.6V4.2H29.6zM91.5 1.9H94.2V4.2H91.5zM96.3 1.9H98.9V4.2H96.3zM105.8 1.9H110.8V4.2H105.8zM113.0 1.9H118.0V4.2H113.0zM-75.1 -0.1H-72.5V2.2H-75.1zM32.0 -0.1H34.7V2.2H32.0zM98.7 -0.1H101.3V2.2H98.7zM105.9 -0.1H110.9V2.2H105.9zM113.0 -0.1H118.0V2.2H113.0zM94.0 -2.2H96.6V0.1H94.0zM98.7 -2.2H101.3V0.1H98.7zM108.2 -2.2H118.0V0.1H108.2zM105.8 -4.2H113.2V-1.9H105.8zM-13.2 -6.3H-10.6V-4.0H-13.2zM3.4 -6.3H6.1V-4.0H3.4zM93.8 -6.3H96.5V-4.0H93.8zM105.7 -6.3H110.7V-4.0H105.7zM115.3 -6.3H117.9V-4.0H115.3zM-13.2 -8.3H-8.2V-6.0H-13.2zM-6.1 -8.3H-1.1V-6.0H-6.1zM1.1 -8.3H6.1V-6.0H1.1zM93.8 -8.3H96.4V-6.0H93.8zM112.8 -8.3H122.5V-6.0H112.8zM-15.5 -10.3H-10.6V-8.1H-15.5zM69.9 -10.3H74.9V-8.1H69.9zM112.6 -10.3H115.2V-8.1H112.6zM-67.7 -12.4H-65.1V-10.1H-67.7zM-13.2 -12.4H-10.5V-10.1H-13.2zM69.8 -12.4H74.8V-10.1H69.8zM100.6 -12.4H103.2V-10.1H100.6zM112.5 -12.4H115.1V-10.1H112.5zM117.2 -12.4H119.8V-10.1H117.2zM-81.7 -14.4H-79.1V-12.1H-81.7zM69.7 -14.4H74.6V-12.1H69.7zM98.1 -14.4H103.0V-12.1H98.1zM112.3 -14.4H119.6V-12.1H112.3zM-86.3 -16.5H-83.7V-14.2H-86.3zM41.2 -16.5H43.8V-14.2H41.2zM90.8 -16.5H95.7V-14.2H90.8zM97.8 -16.5H102.8V-14.2H97.8zM112.0 -16.5H119.3V-14.2H112.0zM-88.4 -18.5H-85.8V-16.2H-88.4zM69.3 -18.5H76.6V-16.2H69.3zM90.5 -18.5H93.1V-16.2H90.5zM95.2 -18.5H97.8V-16.2H95.2zM111.7 -18.5H114.3V-16.2H111.7zM-88.1 -20.6H-83.2V-18.3H-88.1zM-74.1 -20.6H-71.5V-18.3H-74.1zM-69.4 -20.6H-64.4V-18.3H-69.4zM69.1 -20.6H71.7V-18.3H69.1zM73.8 -20.6H76.4V-18.3H73.8zM85.6 -20.6H92.8V-18.3H85.6zM-99.6 -22.6H-97.0V-20.3H-99.6zM-85.5 -22.6H-82.9V-20.3H-85.5zM-69.1 -22.6H-66.6V-20.3H-69.1zM66.6 -22.6H78.5V-20.3H66.6zM87.6 -22.6H99.6V-20.3H87.6zM-78.3 -24.6H-75.7V-22.4H-78.3zM-71.3 -24.6H-68.7V-22.4H-71.3zM66.4 -24.6H75.9V-22.4H66.4zM89.7 -24.6H94.6V-22.4H89.7zM66.1 -26.7H68.7V-24.4H66.1zM70.8 -26.7H75.7V-24.4H70.8zM77.7 -26.7H82.6V-24.4H77.7zM84.7 -26.7H89.6V-24.4H84.7zM68.2 -28.7H73.0V-26.5H68.2zM77.4 -28.7H82.3V-26.5H77.4zM84.4 -28.7H86.9V-26.5H84.4zM65.5 -30.8H72.7V-28.5H65.5zM77.1 -30.8H84.2V-28.5H77.1zM65.2 -32.8H67.7V-30.5H65.2zM69.8 -32.8H72.3V-30.5H69.8zM64.8 -34.9H67.3V-32.6H64.8zM-8.0 -36.9H-3.3V-34.6H-8.0zM105.0 -36.9H107.6V-34.6H105.0zM-84.3 -39.0H-79.6V-36.7H-84.3zM-8.0 -39.0H-3.2V-36.7H-8.0zM-1.2 -39.0H5.7V-36.7H-1.2zM-90.3 -41.0H-87.8V-38.7H-90.3zM-5.7 -41.0H-1.0V-38.7H-5.7zM-5.6 -43.0H-1.0V-40.8H-5.6zM16.4 -43.0H21.1V-40.8H16.4zM16.3 -45.1H18.7V-42.8H16.3zM16.1 -47.1H18.5V-44.8H16.1zM18.1 -49.1H22.6V-46.8H18.1zM108.0 -49.1H110.4V-46.8H108.0zM15.8 -51.1H18.1V-48.8H15.8zM22.1 -51.1H24.5V-48.8H22.1zM106.8 -51.1H109.1V-48.8H106.8zM15.6 -53.1H20.0V-50.9H15.6zM26.0 -53.1H28.3V-50.9H26.0zM-95.9 -60.9H-91.7V-58.7H-95.9zM38.4 -60.9H40.6V-58.7H38.4zM68.0 -60.9H70.2V-58.7H68.0zM30.0 -62.8H32.2V-60.6H30.0zM35.8 -62.8H39.9V-60.6H35.8zM47.4 -62.8H49.6V-60.6H47.4zM57.2 -62.8H61.3V-60.6H57.2z"/></g></g><use href="#coast"/></g><use href="#frame"/></g>
<g transform="translate(525.0 497.2)"><g clip-path="url(#fc)"><g clip-path="url(#lc)"><g><path fill="#FF0000" d="M-54.4 58.7H-50.2V60.9H-54.4zM-51.3 56.8H-49.0V59.0H-51.3zM-64.2 54.8H-62.0V57.0H-64.2zM-54.1 54.8H-49.8V57.0H-54.1zM-65.1 52.8H-62.8V55.1H-65.1zM-56.9 52.8H-52.5V55.1H-56.9zM-66.0 50.9H-61.6V53.1H-66.0zM-55.5 50.9H-53.2V53.1H-55.5zM138.9 50.9H143.4V53.1H138.9zM-66.8 48.8H-64.4V51.1H-66.8zM-56.2 48.8H-51.7V51.1H-56.2zM138.5 48.8H147.2V51.1H138.5zM-67.6 46.8H-63.0V49.1H-67.6zM-56.8 46.8H-52.3V49.1H-56.8zM123.0 46.8H125.4V49.1H123.0zM140.1 46.8H142.5V49.1H140.1zM144.4 46.8H148.9V49.1H144.4zM154.6 44.8H156.0V47.1H154.6zM-156.0 44.8H-154.6V47.1H-156.0zM-64.0 44.8H-59.4V47.1H-64.0zM-57.5 44.8H-55.1V47.1H-57.5zM122.2 44.8H128.9V47.1H122.2zM146.0 44.8H150.5V47.1H146.0zM152.5 44.8H154.9V47.1H152.5zM156.2 42.8H157.6V45.1H156.2zM-157.6 42.8H-156.2V45.1H-157.6zM-53.7 42.8H-49.1V45.1H-53.7zM123.4 42.8H128.1V45.1H123.4zM157.7 40.8H159.1V43.0H157.7zM-159.1 40.8H-157.7V43.0H-159.1zM-65.2 40.8H-60.6V43.0H-65.2zM-58.6 40.8H-56.2V43.0H-58.6zM-54.2 40.8H-47.3V43.0H-54.2zM124.6 40.8H133.7V43.0H124.6zM151.1 40.8H153.6V43.0H151.1zM-65.8 38.7H-63.4V41.0H-65.8zM-59.1 38.7H-56.7V41.0H-59.1zM-54.7 38.7H-47.8V41.0H-54.7zM101.2 38.7H105.9V41.0H101.2zM119.0 38.7H123.7V41.0H119.0zM125.7 38.7H137.1V41.0H125.7zM154.7 38.7H159.4V41.0H154.7zM160.4 36.7H161.8V39.0H160.4zM-161.8 36.7H-160.4V39.0H-161.8zM-66.3 36.7H-45.9V39.0H-66.3zM19.0 36.7H23.7V39.0H19.0zM99.8 36.7H111.2V39.0H99.8zM124.5 36.7H127.0V39.0H124.5zM129.0 36.7H133.7V39.0H129.0zM135.7 36.7H138.2V39.0H135.7zM151.4 36.7H153.9V39.0H151.4zM155.9 36.7H160.6V39.0H155.9zM-64.6 34.6H-44.0V36.9H-64.6zM19.1 34.6H21.6V36.9H19.1zM25.9 34.6H28.4V36.9H25.9zM100.5 34.6H107.6V36.9H100.5zM118.6 34.6H123.4V36.9H118.6zM125.4 34.6H127.9V36.9H125.4zM132.2 34.6H137.0V36.9H132.2zM139.0 34.6H141.5V36.9H139.0zM154.8 34.6H157.3V36.9H154.8zM-67.3 32.6H-62.5V34.9H-67.3zM-60.5 32.6H-42.0V34.9H-60.5zM12.4 32.6H14.9V34.9H12.4zM17.0 32.6H26.3V34.9H17.0zM105.8 32.6H108.3V34.9H105.8zM110.3 32.6H112.8V34.9H110.3zM126.3 32.6H128.8V34.9H126.3zM133.1 32.6H135.6V34.9H133.1zM137.6 32.6H140.2V34.9H137.6zM-60.8 30.5H-42.3V32.8H-60.8zM26.2 30.5H28.8V32.8H26.2zM104.1 30.5H106.7V32.8H104.1zM124.7 30.5H127.3V32.8H124.7zM138.5 30.5H143.3V32.8H138.5zM-65.8 28.5H-40.2V30.8H-65.8zM19.5 28.5H28.9V30.8H19.5zM31.0 28.5H33.5V30.8H31.0zM42.5 28.5H45.0V30.8H42.5zM104.7 28.5H107.2V30.8H104.7zM109.3 28.5H111.8V30.8H109.3zM-66.1 26.5H-63.5V28.7H-66.1zM-61.5 26.5H-58.9V28.7H-61.5zM-56.8 26.5H-38.1V28.7H-56.8zM28.8 26.5H31.4V28.7H28.8zM33.4 26.5H36.0V28.7H33.4zM38.1 26.5H40.6V28.7H38.1zM42.7 26.5H45.3V28.7H42.7zM137.6 26.5H142.5V28.7H137.6zM-68.7 24.4H-59.1V26.7H-68.7zM-57.1 24.4H-38.2V26.7H-57.1zM17.3 24.4H19.9V26.7H17.3zM38.2 24.4H40.8V26.7H38.2zM45.2 24.4H47.8V26.7H45.2zM-64.3 22.4H-59.4V24.6H-64.3zM-57.3 22.4H-54.7V24.6H-57.3zM-52.6 22.4H-38.4V24.6H-52.6zM-36.3 22.4H-33.7V24.6H-36.3zM12.7 22.4H17.6V24.6H12.7zM19.7 22.4H22.3V24.6H19.7zM31.4 22.4H45.6V24.6H31.4zM110.7 22.4H113.2V24.6H110.7zM134.0 22.4H136.6V24.6H134.0zM-64.5 20.3H-61.9V22.6H-64.5zM-59.8 20.3H-33.8V22.6H-59.8zM19.8 20.3H22.3V22.6H19.8zM29.1 20.3H31.7V22.6H29.1zM40.8 20.3H50.4V22.6H40.8zM106.3 20.3H111.3V22.6H106.3zM122.7 20.3H125.3V22.6H122.7zM155.5 20.3H158.1V22.6H155.5zM-62.3 18.3H-57.4V20.6H-62.3zM-55.3 18.3H-33.9V20.6H-55.3zM12.8 18.3H15.4V20.6H12.8zM26.9 18.3H29.5V20.6H26.9zM36.3 18.3H38.9V20.6H36.3zM41.0 18.3H43.5V20.6H41.0zM48.0 18.3H50.6V20.6H48.0zM111.4 18.3H116.3V20.6H111.4zM-74.3 16.2H-71.7V18.5H-74.3zM-64.9 16.2H-57.6V18.5H-64.9zM-55.4 16.2H-52.9V18.5H-55.4zM-50.7 16.2H-34.0V18.5H-50.7zM27.0 16.2H29.6V18.5H27.0zM34.0 16.2H43.7V18.5H34.0zM121.1 16.2H123.7V18.5H121.1zM-67.4 14.2H-64.8V16.5H-67.4zM-62.7 14.2H-57.7V16.5H-62.7zM-55.6 14.2H-36.5V16.5H-55.6zM8.1 14.2H13.1V16.5H8.1zM38.8 14.2H43.8V16.5H38.8zM114.4 14.2H117.0V16.5H114.4zM123.8 14.2H126.4V16.5H123.8zM130.9 14.2H133.5V16.5H130.9zM-77.0 12.1H-74.4V14.4H-77.0zM-60.4 12.1H-57.8V14.4H-60.4zM-55.7 12.1H-43.6V14.4H-55.7zM-39.2 12.1H-36.5V14.4H-39.2zM8.2 12.1H10.8V14.4H8.2zM24.7 12.1H29.7V14.4H24.7zM34.2 12.1H36.8V14.4H34.2zM38.9 12.1H41.5V14.4H38.9zM43.6 12.1H48.6V14.4H43.6zM112.3 12.1H114.9V14.4H112.3zM117.0 12.1H124.3V14.4H117.0zM133.5 12.1H138.5V14.4H133.5zM-60.6 10.1H-50.8V12.4H-60.6zM-48.7 10.1H-43.7V12.4H-48.7zM-39.2 10.1H-36.6V12.4H-39.2zM8.2 10.1H10.8V12.4H8.2zM103.0 10.1H105.6V12.4H103.0zM107.7 10.1H110.3V12.4H107.7zM114.8 10.1H119.8V12.4H114.8zM121.9 10.1H124.6V12.4H121.9zM129.1 10.1H131.7V12.4H129.1zM136.2 10.1H138.8V12.4H136.2zM140.9 10.1H145.9V12.4H140.9zM-79.6 8.1H-74.7V10.3H-79.6zM-53.5 8.1H-50.9V10.3H-53.5zM-48.8 8.1H-43.8V10.3H-48.8zM15.3 8.1H20.3V10.3H15.3zM29.6 8.1H32.2V10.3H29.6zM34.3 8.1H36.9V10.3H34.3zM98.4 8.1H124.7V10.3H98.4zM126.9 8.1H129.5V10.3H126.9zM134.0 8.1H136.6V10.3H134.0zM138.7 8.1H141.4V10.3H138.7zM145.9 8.1H148.5V10.3H145.9zM-79.7 6.0H-72.4V8.3H-79.7zM32.0 6.0H34.6V8.3H32.0zM96.1 6.0H120.1V8.3H96.1zM138.9 6.0H141.5V8.3H138.9zM146.0 6.0H148.7V8.3H146.0zM-79.8 4.0H-74.8V6.3H-79.8zM-67.9 4.0H-65.3V6.3H-67.9zM-48.9 4.0H-41.5V6.3H-48.9zM-39.4 4.0H-36.8V6.3H-39.4zM13.0 4.0H18.0V6.3H13.0zM32.0 4.0H34.6V6.3H32.0zM36.8 4.0H39.4V6.3H36.8zM93.8 4.0H125.0V6.3H93.8zM127.2 4.0H129.8V6.3H127.2zM-77.5 1.9H-72.5V4.2H-77.5zM-63.2 1.9H-58.2V4.2H-63.2zM-48.9 1.9H-46.3V4.2H-48.9zM20.1 1.9H22.7V4.2H20.1zM29.6 1.9H39.4V4.2H29.6zM91.5 1.9H94.2V4.2H91.5zM96.3 1.9H129.9V4.2H96.3zM-79.9 -0.1H-72.5V2.2H-79.9zM-68.0 -0.1H-65.4V2.2H-68.0zM-63.2 -0.1H-60.6V2.2H-63.2zM-53.7 -0.1H-51.1V2.2H-53.7zM-48.9 -0.1H-46.3V2.2H-48.9zM-44.2 -0.1H-41.6V2.2H-44.2zM8.2 -0.1H10.8V2.2H8.2zM15.4 -0.1H20.4V2.2H15.4zM24.9 -0.1H27.5V2.2H24.9zM32.0 -0.1H39.4V2.2H32.0zM41.6 -0.1H44.2V2.2H41.6zM91.6 -0.1H125.2V2.2H91.6zM132.1 -0.1H134.7V2.2H132.1zM144.0 -0.1H146.6V2.2H144.0zM-79.9 -2.2H-72.5V0.1H-79.9zM-68.0 -2.2H-58.2V0.1H-68.0zM-56.1 -2.2H-53.5V0.1H-56.1zM-51.3 -2.2H-41.6V0.1H-51.3zM8.2 -2.2H13.2V0.1H8.2zM15.4 -2.2H25.1V0.1H15.4zM32.0 -2.2H39.4V0.1H32.0zM43.9 -2.2H46.6V0.1H43.9zM91.6 -2.2H120.4V0.1H91.6zM122.5 -2.2H127.5V0.1H122.5zM-77.5 -4.2H-65.3V-1.9H-77.5zM-60.8 -4.2H-58.2V-1.9H-60.8zM-10.8 -4.2H-8.2V-1.9H-10.8zM-6.1 -4.2H1.3V-1.9H-6.1zM3.5 -4.2H15.6V-1.9H3.5zM17.7 -4.2H22.7V-1.9H17.7zM27.3 -4.2H29.9V-1.9H27.3zM34.4 -4.2H37.0V-1.9H34.4zM46.3 -4.2H48.9V-1.9H46.3zM89.2 -4.2H101.3V-1.9H89.2zM105.8 -4.2H122.7V-1.9H105.8zM-75.1 -6.3H-67.7V-4.0H-75.1zM-65.5 -6.3H-58.2V-4.0H-65.5zM-13.2 -6.3H-10.6V-4.0H-13.2zM-8.4 -6.3H8.4V-4.0H-8.4zM10.6 -6.3H25.1V-4.0H10.6zM27.2 -6.3H29.9V-4.0H27.2zM32.0 -6.3H37.0V-4.0H32.0zM43.9 -6.3H46.5V-4.0H43.9zM86.7 -6.3H101.2V-4.0H86.7zM103.4 -6.3H120.3V-4.0H103.4zM-79.7 -8.3H-74.7V-6.0H-79.7zM-72.6 -8.3H-65.2V-6.0H-72.6zM-60.7 -8.3H-58.1V-6.0H-60.7zM-56.0 -8.3H-53.4V-6.0H-56.0zM-51.2 -8.3H-48.6V-6.0H-51.2zM-15.6 -8.3H20.3V-6.0H-15.6zM24.8 -8.3H27.5V-6.0H24.8zM34.3 -8.3H37.0V-6.0H34.3zM41.5 -8.3H44.1V-6.0H41.5zM46.2 -8.3H48.8V-6.0H46.2zM74.7 -8.3H79.7V-6.0H74.7zM89.0 -8.3H101.1V-6.0H89.0zM105.6 -8.3H115.4V-6.0H105.6zM117.5 -8.3H122.5V-6.0H117.5zM-84.4 -10.3H-79.4V-8.1H-84.4zM-72.5 -10.3H-65.2V-8.1H-72.5zM-63.0 -10.3H-55.7V-8.1H-63.0zM-15.5 -10.3H29.8V-8.1H-15.5zM36.7 -10.3H39.3V-8.1H36.7zM41.4 -10.3H44.0V-8.1H41.4zM69.9 -10.3H77.3V-8.1H69.9zM88.9 -10.3H91.5V-8.1H88.9zM93.6 -10.3H103.4V-8.1H93.6zM112.6 -10.3H122.4V-8.1H112.6zM-84.3 -12.4H-74.5V-10.1H-84.3zM-72.4 -12.4H-67.4V-10.1H-72.4zM-65.3 -12.4H-57.9V-10.1H-65.3zM-17.9 -12.4H32.1V-10.1H-17.9zM48.5 -12.4H51.1V-10.1H48.5zM67.4 -12.4H79.5V-10.1H67.4zM88.8 -12.4H105.6V-10.1H88.8zM107.7 -12.4H122.2V-10.1H107.7zM-88.8 -14.4H-74.4V-12.1H-88.8zM-72.3 -14.4H-64.9V-12.1H-72.3zM-58.1 -14.4H-55.5V-12.1H-58.1zM-20.2 -14.4H25.0V-12.1H-20.2zM29.5 -14.4H32.1V-12.1H29.5zM43.6 -14.4H46.3V-12.1H43.6zM50.7 -14.4H53.4V-12.1H50.7zM67.3 -14.4H79.4V-12.1H67.3zM88.6 -14.4H103.0V-12.1H88.6zM109.9 -14.4H119.6V-12.1H109.9zM-95.7 -16.5H-74.2V-14.2H-95.7zM-69.8 -16.5H-64.8V-14.2H-69.8zM-20.2 -16.5H-17.6V-14.2H-20.2zM-13.1 -16.5H-10.5V-14.2H-13.1zM-8.4 -16.5H17.8V-14.2H-8.4zM19.9 -16.5H27.3V-14.2H19.9zM34.1 -16.5H36.7V-14.2H34.1zM38.8 -16.5H43.8V-14.2H38.8zM45.9 -16.5H48.5V-14.2H45.9zM67.2 -16.5H79.2V-14.2H67.2zM88.4 -16.5H91.0V-14.2H88.4zM93.1 -16.5H107.5V-14.2H93.1zM109.6 -16.5H119.3V-14.2H109.6zM-95.5 -18.5H-76.4V-16.2H-95.5zM-71.9 -18.5H-64.6V-16.2H-71.9zM-17.8 -18.5H-15.2V-16.2H-17.8zM-8.4 -18.5H-5.8V-16.2H-8.4zM1.1 -18.5H8.4V-16.2H1.1zM17.5 -18.5H20.1V-16.2H17.5zM34.0 -18.5H36.6V-16.2H34.0zM38.7 -18.5H41.3V-16.2H38.7zM52.9 -18.5H55.4V-16.2H52.9zM64.6 -18.5H76.6V-16.2H64.6zM78.8 -18.5H81.3V-16.2H78.8zM85.8 -18.5H104.9V-16.2H85.8zM109.4 -18.5H116.7V-16.2H109.4zM-99.9 -20.6H-78.5V-18.3H-99.9zM-76.4 -20.6H-62.1V-18.3H-76.4zM-60.0 -20.6H-57.4V-18.3H-60.0zM17.5 -20.6H29.5V-18.3H17.5zM52.7 -20.6H57.6V-18.3H52.7zM64.4 -20.6H83.5V-18.3H64.4zM85.6 -20.6H106.9V-18.3H85.6zM109.0 -20.6H116.3V-18.3H109.0zM-101.9 -22.6H-71.2V-20.3H-101.9zM-69.1 -22.6H-64.2V-20.3H-69.1zM-8.3 -22.6H-1.0V-20.3H-8.3zM3.4 -22.6H6.0V-20.3H3.4zM8.1 -22.6H20.0V-20.3H8.1zM26.8 -22.6H29.4V-20.3H26.8zM50.2 -22.6H57.4V-20.3H50.2zM64.2 -22.6H106.6V-20.3H64.2zM111.0 -22.6H113.6V-20.3H111.0zM-106.2 -24.6H-66.4V-22.4H-106.2zM-12.9 -24.6H-10.4V-22.4H-12.9zM52.4 -24.6H59.6V-22.4H52.4zM61.7 -24.6H82.9V-22.4H61.7zM85.0 -24.6H115.6V-22.4H85.0zM-108.2 -26.7H-103.3V-24.4H-108.2zM-101.2 -26.7H-91.7V-24.4H-101.2zM-89.6 -26.7H-87.0V-24.4H-89.6zM-84.9 -26.7H-68.4V-24.4H-84.9zM-10.6 -26.7H-3.4V-24.4H-10.6zM45.2 -26.7H47.8V-24.4H45.2zM54.5 -26.7H115.2V-24.4H54.5zM-107.7 -28.7H-102.9V-26.5H-107.7zM-100.8 -28.7H-93.6V-26.5H-100.8zM-91.5 -28.7H-86.7V-26.5H-91.5zM-80.0 -28.7H-72.8V-26.5H-80.0zM-8.2 -28.7H-5.7V-26.5H-8.2zM45.0 -28.7H54.5V-26.5H45.0zM56.6 -28.7H59.1V-26.5H56.6zM61.2 -28.7H89.2V-26.5H61.2zM91.3 -28.7H117.0V-26.5H91.3zM-107.2 -30.8H-104.7V-28.5H-107.2zM-102.6 -30.8H-100.1V-28.5H-102.6zM-98.0 -30.8H-84.0V-28.5H-98.0zM-75.0 -30.8H-70.1V-28.5H-75.0zM-17.4 -30.8H-14.9V-28.5H-17.4zM5.6 -30.8H8.2V-28.5H5.6zM12.6 -30.8H22.0V-28.5H12.6zM49.4 -30.8H63.5V-28.5H49.4zM67.8 -30.8H116.5V-28.5H67.8zM-109.0 -32.8H-106.4V-30.5H-109.0zM-104.4 -32.8H-101.8V-30.5H-104.4zM-97.5 -32.8H-78.9V-30.5H-97.5zM-74.6 -32.8H-69.8V-30.5H-74.6zM-15.0 -32.8H-12.5V-30.5H-15.0zM-1.3 -32.8H1.3V-30.5H-1.3zM14.8 -32.8H17.3V-30.5H14.8zM19.4 -32.8H21.9V-30.5H19.4zM23.9 -32.8H28.8V-30.5H23.9zM37.7 -32.8H40.2V-30.5H37.7zM44.6 -32.8H49.4V-30.5H44.6zM56.0 -32.8H58.5V-30.5H56.0zM60.6 -32.8H72.3V-30.5H60.6zM74.3 -32.8H79.2V-30.5H74.3zM88.1 -32.8H90.6V-30.5H88.1zM92.7 -32.8H115.8V-30.5H92.7zM117.9 -32.8H122.7V-30.5H117.9zM-110.6 -34.9H-94.4V-32.6H-110.6zM-92.3 -34.9H-80.7V-32.6H-92.3zM-78.7 -34.9H-69.3V-32.6H-78.7zM-10.4 -34.9H-7.9V-32.6H-10.4zM5.6 -34.9H14.9V-32.6H5.6zM21.5 -34.9H24.0V-32.6H21.5zM26.1 -34.9H28.6V-32.6H26.1zM37.5 -34.9H40.0V-32.6H37.5zM44.3 -34.9H46.8V-32.6H44.3zM48.8 -34.9H51.4V-32.6H48.8zM53.4 -34.9H55.9V-32.6H53.4zM57.9 -34.9H60.5V-32.6H57.9zM62.5 -34.9H67.3V-32.6H62.5zM69.3 -34.9H74.1V-32.6H69.3zM78.4 -34.9H81.0V-32.6H78.4zM85.3 -34.9H90.1V-32.6H85.3zM92.1 -34.9H101.5V-32.6H92.1zM103.5 -34.9H119.7V-32.6H103.5zM121.7 -34.9H124.2V-32.6H121.7zM-107.6 -36.9H-96.0V-34.6H-107.6zM-94.0 -36.9H-89.2V-34.6H-94.0zM-87.2 -36.9H-73.4V-34.6H-87.2zM-71.4 -36.9H-66.6V-34.6H-71.4zM-10.3 -36.9H-3.3V-34.6H-10.3zM1.0 -36.9H5.8V-34.6H1.0zM7.8 -36.9H10.3V-34.6H7.8zM12.3 -36.9H14.8V-34.6H12.3zM23.6 -36.9H28.4V-34.6H23.6zM30.4 -36.9H32.9V-34.6H30.4zM34.9 -36.9H37.4V-34.6H34.9zM39.5 -36.9H55.5V-34.6H39.5zM57.6 -36.9H60.1V-34.6H57.6zM62.1 -36.9H71.4V-34.6H62.1zM73.4 -36.9H75.9V-34.6H73.4zM84.7 -36.9H87.2V-34.6H84.7zM91.5 -36.9H94.0V-34.6H91.5zM96.0 -36.9H109.8V-34.6H96.0zM120.9 -36.9H127.9V-34.6H120.9zM-106.8 -39.0H-93.0V-36.7H-106.8zM-91.0 -39.0H-72.8V-36.7H-91.0zM-68.6 -39.0H-66.1V-36.7H-68.6zM-8.0 -39.0H10.2V-36.7H-8.0zM12.2 -39.0H14.7V-36.7H12.2zM21.2 -39.0H23.7V-36.7H21.2zM25.7 -39.0H28.2V-36.7H25.7zM32.4 -39.0H37.2V-36.7H32.4zM41.4 -39.0H50.6V-36.7H41.4zM52.6 -39.0H55.1V-36.7H52.6zM59.4 -39.0H68.6V-36.7H59.4zM70.6 -39.0H73.1V-36.7H70.6zM75.1 -39.0H84.3V-36.7H75.1zM88.6 -39.0H115.7V-36.7H88.6zM120.0 -39.0H124.7V-36.7H120.0zM-112.6 -41.0H-107.9V-38.7H-112.6zM-105.9 -41.0H-85.6V-38.7H-105.9zM-83.6 -41.0H-78.9V-38.7H-83.6zM-77.0 -41.0H-72.3V-38.7H-77.0zM-68.0 -41.0H-65.6V-38.7H-68.0zM-7.9 -41.0H-1.0V-38.7H-7.9zM3.2 -41.0H5.7V-38.7H3.2zM7.7 -41.0H14.6V-38.7H7.7zM16.6 -41.0H21.3V-38.7H16.6zM23.3 -41.0H50.2V-38.7H23.3zM52.2 -41.0H56.9V-38.7H52.2zM58.9 -41.0H61.4V-38.7H58.9zM63.4 -41.0H65.8V-38.7H63.4zM72.3 -41.0H74.7V-38.7H72.3zM85.6 -41.0H88.1V-38.7H85.6zM90.1 -41.0H92.5V-38.7H90.1zM94.5 -41.0H110.4V-38.7H94.5zM112.3 -41.0H114.8V-38.7H112.3zM116.8 -41.0H123.7V-38.7H116.8zM-111.6 -43.0H-109.2V-40.8H-111.6zM-107.2 -43.0H-73.8V-40.8H-107.2zM-71.9 -43.0H-62.8V-40.8H-71.9zM-12.3 -43.0H-7.6V-40.8H-12.3zM-5.6 -43.0H60.8V-40.8H-5.6zM62.8 -43.0H65.2V-40.8H62.8zM67.2 -43.0H74.1V-40.8H67.2zM76.0 -43.0H78.5V-40.8H76.0zM80.5 -43.0H82.9V-40.8H80.5zM84.9 -43.0H87.3V-40.8H84.9zM89.3 -43.0H96.2V-40.8H89.3zM98.1 -43.0H102.8V-40.8H98.1zM104.7 -43.0H109.4V-40.8H104.7zM113.6 -43.0H116.0V-40.8H113.6zM118.0 -43.0H120.4V-40.8H118.0zM122.4 -43.0H124.9V-40.8H122.4zM-108.4 -45.1H-105.9V-42.8H-108.4zM-104.0 -45.1H-71.0V-42.8H-104.0zM-69.0 -45.1H-64.4V-42.8H-69.0zM-62.4 -45.1H-60.0V-42.8H-62.4zM-12.1 -45.1H-5.3V-42.8H-12.1zM-3.4 -45.1H31.8V-42.8H-3.4zM36.0 -45.1H58.1V-42.8H36.0zM64.4 -45.1H66.8V-42.8H64.4zM68.8 -45.1H71.2V-42.8H68.8zM73.1 -45.1H84.3V-42.8H73.1zM88.4 -45.1H108.4V-42.8H88.4zM110.3 -45.1H112.7V-42.8H110.3zM114.7 -45.1H117.1V-42.8H114.7zM123.4 -45.1H125.9V-42.8H123.4zM-109.4 -47.1H-59.4V-44.8H-109.4zM-12.0 -47.1H29.3V-44.8H-12.0zM31.3 -47.1H35.8V-44.8H31.3zM37.8 -47.1H53.1V-44.8H37.8zM55.1 -47.1H61.8V-44.8H55.1zM63.7 -47.1H79.1V-44.8H63.7zM81.0 -47.1H87.8V-44.8H81.0zM91.9 -47.1H115.9V-44.8H91.9zM117.8 -47.1H122.4V-44.8H117.8zM126.5 -47.1H128.9V-44.8H126.5zM-108.2 -49.1H-63.0V-46.8H-108.2zM-56.8 -49.1H-54.5V-46.8H-56.8zM-50.4 -49.1H-48.0V-46.8H-50.4zM-9.8 -49.1H-7.4V-46.8H-9.8zM-5.5 -49.1H39.7V-46.8H-5.5zM43.8 -49.1H59.0V-46.8H43.8zM60.9 -49.1H65.4V-46.8H60.9zM71.6 -49.1H86.8V-46.8H71.6zM88.7 -49.1H91.1V-46.8H88.7zM93.0 -49.1H97.5V-46.8H93.0zM99.4 -49.1H112.5V-46.8H99.4zM116.5 -49.1H123.2V-46.8H116.5zM125.1 -49.1H127.5V-46.8H125.1zM-104.9 -51.1H-62.3V-48.8H-104.9zM-60.4 -51.1H-58.1V-48.8H-60.4zM-49.9 -51.1H-47.5V-48.8H-49.9zM-5.4 -51.1H54.1V-48.8H-5.4zM58.1 -51.1H60.4V-48.8H58.1zM62.3 -51.1H66.8V-48.8H62.3zM70.8 -51.1H81.6V-48.8H70.8zM83.5 -51.1H87.9V-48.8H83.5zM89.8 -51.1H94.3V-48.8H89.8zM98.3 -51.1H104.9V-48.8H98.3zM108.9 -51.1H111.2V-48.8H108.9zM113.1 -51.1H115.5V-48.8H113.1zM121.6 -51.1H123.9V-48.8H121.6zM-103.6 -53.1H-63.7V-50.9H-103.6zM-61.8 -53.1H-40.7V-50.9H-61.8zM-7.4 -53.1H61.8V-50.9H-7.4zM63.7 -53.1H66.0V-50.9H63.7zM67.8 -53.1H70.2V-50.9H67.8zM72.0 -53.1H89.0V-50.9H72.0zM90.8 -53.1H97.4V-50.9H90.8zM99.2 -53.1H101.5V-50.9H99.2zM103.4 -53.1H109.9V-50.9H103.4zM120.1 -53.1H122.4V-50.9H120.1zM-102.3 -55.1H-58.7V-52.8H-102.3zM-56.9 -55.1H-54.6V-52.8H-56.9zM-52.8 -55.1H-48.4V-52.8H-52.8zM-46.6 -55.1H-44.3V-52.8H-46.6zM-9.4 -55.1H-7.1V-52.8H-9.4zM-5.3 -55.1H1.2V-52.8H-5.3zM3.0 -55.1H46.6V-52.8H3.0zM48.4 -55.1H87.8V-52.8H48.4zM89.7 -55.1H104.4V-52.8H89.7zM108.3 -55.1H112.6V-52.8H108.3zM114.4 -55.1H120.9V-52.8H114.4zM-135.5 -57.0H-133.2V-54.8H-135.5zM-111.1 -57.0H-104.7V-54.8H-111.1zM-98.8 -57.0H-64.0V-54.8H-98.8zM-62.2 -57.0H-59.9V-54.8H-62.2zM-58.1 -57.0H-41.6V-54.8H-58.1zM-11.3 -57.0H-7.0V-54.8H-11.3zM-5.2 -57.0H78.5V-54.8H-5.2zM80.3 -57.0H90.7V-54.8H80.3zM92.5 -57.0H94.8V-54.8H92.5zM96.6 -57.0H98.8V-54.8H96.6zM123.0 -57.0H125.3V-54.8H123.0zM-127.5 -59.0H-125.2V-56.8H-127.5zM-109.4 -59.0H-105.2V-56.8H-109.4zM-103.4 -59.0H-99.1V-56.8H-103.4zM-97.4 -59.0H-91.1V-56.8H-97.4zM-89.4 -59.0H-77.1V-56.8H-89.4zM-75.3 -59.0H-67.1V-56.8H-75.3zM-65.3 -59.0H-59.0V-56.8H-65.3zM-57.3 -59.0H-43.0V-56.8H-57.3zM-9.1 -59.0H-6.9V-56.8H-9.1zM-5.1 -59.0H11.1V-56.8H-5.1zM12.9 -59.0H75.3V-56.8H12.9zM77.1 -59.0H93.4V-56.8H77.1zM95.1 -59.0H97.4V-56.8H95.1zM105.2 -59.0H107.4V-56.8H105.2zM111.2 -59.0H117.4V-56.8H111.2zM129.2 -59.0H131.5V-56.8H129.2zM-129.4 -60.9H-125.2V-58.7H-129.4zM-109.7 -60.9H-107.5V-58.7H-109.7zM-105.7 -60.9H-103.5V-58.7H-105.7zM-101.8 -60.9H-99.6V-58.7H-101.8zM-95.9 -60.9H-87.7V-58.7H-95.9zM-84.0 -60.9H-81.8V-58.7H-84.0zM-80.1 -60.9H-77.8V-58.7H-80.1zM-74.1 -60.9H-71.9V-58.7H-74.1zM-70.2 -60.9H-62.1V-58.7H-70.2zM-60.3 -60.9H-56.1V-58.7H-60.3zM-52.4 -60.9H-48.2V-58.7H-52.4zM-9.0 -60.9H1.1V-58.7H-9.0zM2.8 -60.9H14.9V-58.7H2.8zM16.7 -60.9H72.2V-58.7H16.7zM73.9 -60.9H76.1V-58.7H73.9zM77.8 -60.9H88.0V-58.7H77.8zM89.7 -60.9H93.9V-58.7H89.7zM99.6 -60.9H101.8V-58.7H99.6zM107.5 -60.9H113.6V-58.7H107.5zM119.3 -60.9H121.5V-58.7H119.3zM125.2 -60.9H127.4V-58.7H125.2zM-129.2 -62.8H-127.0V-60.6H-129.2zM-123.4 -62.8H-111.5V-60.6H-123.4zM-109.8 -62.8H-103.7V-60.6H-109.8zM-100.1 -62.8H-90.2V-60.6H-100.1zM-88.5 -62.8H-86.3V-60.6H-88.5zM-76.8 -62.8H-72.7V-60.6H-76.8zM-61.3 -62.8H-57.2V-60.6H-61.3zM-49.6 -62.8H-47.4V-60.6H-49.6zM-6.9 -62.8H-4.7V-60.6H-6.9zM0.9 -62.8H41.9V-60.6H0.9zM43.6 -62.8H45.7V-60.6H43.6zM49.4 -62.8H69.0V-60.6H49.4zM70.7 -62.8H86.5V-60.6H70.7zM90.2 -62.8H92.3V-60.6H90.2zM94.0 -62.8H98.2V-60.6H94.0zM99.9 -62.8H111.7V-60.6H99.9zM113.5 -62.8H115.6V-60.6H113.5zM121.2 -62.8H129.2V-60.6H121.2zM130.9 -62.8H133.1V-60.6H130.9zM136.3 -64.7H137.5V-62.5H136.3zM-137.5 -64.7H-136.3V-62.5H-137.5zM-128.9 -64.7H-124.8V-62.5H-128.9zM-123.2 -64.7H-121.0V-62.5H-123.2zM-119.4 -64.7H-115.3V-62.5H-119.4zM-113.6 -64.7H-111.5V-62.5H-113.6zM-109.8 -64.7H-107.7V-62.5H-109.8zM-106.0 -64.7H-103.9V-62.5H-106.0zM-102.2 -64.7H-100.0V-62.5H-102.2zM-92.7 -64.7H-90.5V-62.5H-92.7zM-86.9 -64.7H-84.8V-62.5H-86.9zM-79.3 -64.7H-77.1V-62.5H-79.3zM-60.2 -64.7H-54.3V-62.5H-60.2zM-50.7 -64.7H-48.5V-62.5H-50.7zM-39.2 -64.7H-35.2V-62.5H-39.2zM0.8 -64.7H3.0V-62.5H0.8zM4.6 -64.7H14.4V-62.5H4.6zM16.1 -64.7H29.7V-62.5H16.1zM37.1 -64.7H39.2V-62.5H37.1zM52.3 -64.7H60.2V-62.5H52.3zM65.7 -64.7H67.9V-62.5H65.7zM69.5 -64.7H71.7V-62.5H69.5zM75.2 -64.7H79.3V-62.5H75.2zM81.0 -64.7H85.0V-62.5H81.0zM88.6 -64.7H96.5V-62.5H88.6zM98.1 -64.7H107.9V-62.5H98.1zM115.3 -64.7H117.5V-62.5H115.3zM134.4 -64.7H136.5V-62.5H134.4zM133.8 -66.5H135.0V-64.4H133.8zM-135.0 -66.5H-133.8V-64.4H-135.0zM-130.3 -66.5H-128.2V-64.4H-130.3zM-126.6 -66.5H-124.5V-64.4H-126.6zM-117.2 -66.5H-115.1V-64.4H-117.2zM-109.7 -66.5H-107.6V-64.4H-109.7zM-106.0 -66.5H-103.9V-64.4H-106.0zM-100.4 -66.5H-98.2V-64.4H-100.4zM-94.7 -66.5H-92.6V-64.4H-94.7zM-91.0 -66.5H-88.9V-64.4H-91.0zM-85.4 -66.5H-81.4V-64.4H-85.4zM-72.3 -66.5H-70.1V-64.4H-72.3zM-68.5 -66.5H-53.3V-64.4H-68.5zM-51.6 -66.5H-49.5V-64.4H-51.6zM-47.9 -66.5H-45.8V-64.4H-47.9zM-38.5 -66.5H-36.4V-64.4H-38.5zM-31.0 -66.5H-28.9V-64.4H-31.0zM-16.0 -66.5H-13.9V-64.4H-16.0zM-12.3 -66.5H-10.2V-64.4H-12.3zM0.8 -66.5H12.3V-64.4H0.8zM13.9 -66.5H19.8V-64.4H13.9zM23.3 -66.5H31.0V-64.4H23.3zM34.5 -66.5H38.5V-64.4H34.5zM42.0 -66.5H44.1V-64.4H42.0zM45.8 -66.5H55.4V-64.4H45.8zM57.0 -66.5H62.9V-64.4H57.0zM68.3 -66.5H70.4V-64.4H68.3zM73.9 -66.5H76.0V-64.4H73.9zM77.6 -66.5H91.0V-64.4H77.6zM96.4 -66.5H104.1V-64.4H96.4zM128.2 -66.5H134.1V-64.4H128.2zM-131.6 -68.3H-129.5V-66.3H-131.6zM-122.4 -68.3H-120.3V-66.3H-122.4zM-115.0 -68.3H-112.9V-66.3H-115.0zM-107.7 -68.3H-103.7V-66.3H-107.7zM-100.3 -68.3H-98.2V-66.3H-100.3zM-94.8 -68.3H-92.7V-66.3H-94.8zM-76.4 -68.3H-74.3V-66.3H-76.4zM-70.9 -68.3H-68.8V-66.3H-70.9zM-67.2 -68.3H-65.1V-66.3H-67.2zM-59.9 -68.3H-57.8V-66.3H-59.9zM-56.2 -68.3H-52.3V-66.3H-56.2zM-30.5 -68.3H-28.4V-66.3H-30.5zM-19.4 -68.3H-17.3V-66.3H-19.4zM-10.2 -68.3H-8.2V-66.3H-10.2zM4.5 -68.3H6.6V-66.3H4.5zM8.2 -68.3H12.1V-66.3H8.2zM13.7 -68.3H19.4V-66.3H13.7zM22.9 -68.3H24.9V-66.3H22.9zM33.9 -68.3H36.0V-66.3H33.9zM37.6 -68.3H39.6V-66.3H37.6zM44.9 -68.3H47.0V-66.3H44.9zM68.8 -68.3H70.9V-66.3H68.8zM74.3 -68.3H76.4V-66.3H74.3zM79.8 -68.3H85.6V-66.3H79.8zM89.0 -68.3H91.1V-66.3H89.0zM94.6 -68.3H100.3V-66.3H94.6zM114.8 -68.3H120.5V-66.3H114.8zM124.0 -68.3H126.0V-66.3H124.0zM129.5 -68.3H131.6V-66.3H129.5zM-123.6 -70.1H-121.6V-68.1H-123.6zM-111.0 -70.1H-108.9V-68.1H-111.0zM-105.6 -70.1H-94.5V-68.1H-105.6zM-78.5 -70.1H-76.5V-68.1H-78.5zM-69.5 -70.1H-67.5V-68.1H-69.5zM-56.9 -70.1H-53.1V-68.1H-56.9zM-51.5 -70.1H-49.5V-68.1H-51.5zM-46.1 -70.1H-44.0V-68.1H-46.1zM-40.7 -70.1H-38.6V-68.1H-40.7zM-37.1 -70.1H-35.0V-68.1H-37.1zM-26.3 -70.1H-22.4V-68.1H-26.3zM-17.2 -70.1H-15.2V-68.1H-17.2zM-11.8 -70.1H-8.0V-68.1H-11.8zM8.0 -70.1H11.8V-68.1H8.0zM15.2 -70.1H20.8V-68.1H15.2zM26.0 -70.1H28.1V-68.1H26.0zM29.6 -70.1H33.5V-68.1H29.6zM35.0 -70.1H37.1V-68.1H35.0zM40.4 -70.1H42.5V-68.1H40.4zM47.6 -70.1H51.5V-68.1H47.6zM53.1 -70.1H55.1V-68.1H53.1zM56.7 -70.1H58.7V-68.1H56.7zM60.3 -70.1H62.3V-68.1H60.3zM71.1 -70.1H74.9V-68.1H71.1zM76.5 -70.1H78.5V-68.1H76.5zM80.1 -70.1H83.9V-68.1H80.1zM85.5 -70.1H89.3V-68.1H85.5zM94.5 -70.1H100.2V-68.1H94.5zM116.1 -70.1H118.2V-68.1H116.1zM121.6 -70.1H125.4V-68.1H121.6zM-117.6 -71.9H-115.6V-69.9H-117.6zM-103.4 -71.9H-96.1V-69.9H-103.4zM-92.8 -71.9H-90.8V-69.9H-92.8zM-84.0 -71.9H-82.0V-69.9H-84.0zM-80.5 -71.9H-78.5V-69.9H-80.5zM-59.3 -71.9H-57.3V-69.9H-59.3zM-55.7 -71.9H-52.0V-69.9H-55.7zM-43.4 -71.9H-41.4V-69.9H-43.4zM-38.1 -71.9H-34.3V-69.9H-38.1zM-22.2 -71.9H-9.6V-69.9H-22.2zM6.1 -71.9H9.8V-69.9H6.1zM13.1 -71.9H15.1V-69.9H13.1zM18.4 -71.9H20.4V-69.9H18.4zM25.5 -71.9H27.5V-69.9H25.5zM34.3 -71.9H39.9V-69.9H34.3zM41.4 -71.9H43.4V-69.9H41.4zM46.7 -71.9H52.2V-69.9H46.7zM55.5 -71.9H57.5V-69.9H55.5zM59.0 -71.9H64.6V-69.9H59.0zM69.6 -71.9H71.6V-69.9H69.6zM82.0 -71.9H84.0V-69.9H82.0zM94.4 -71.9H96.4V-69.9H94.4zM112.0 -71.9H114.0V-69.9H112.0zM117.3 -71.9H119.3V-69.9H117.3zM-101.2 -73.6H-92.4V-71.6H-101.2zM-59.8 -73.6H-56.1V-71.6H-59.8zM-45.9 -73.6H-44.0V-71.6H-45.9zM-40.7 -73.6H-38.8V-71.6H-40.7zM-16.5 -73.6H-14.6V-71.6H-16.5zM9.4 -73.6H11.4V-71.6H9.4zM31.9 -73.6H40.7V-71.6H31.9zM44.0 -73.6H45.9V-71.6H44.0zM47.4 -73.6H59.8V-71.6H47.4zM61.2 -73.6H63.2V-71.6H61.2zM66.4 -73.6H68.4V-71.6H66.4zM85.4 -73.6H87.4V-71.6H85.4zM88.9 -73.6H90.9V-71.6H88.9zM94.1 -73.6H96.1V-71.6H94.1zM106.2 -73.6H111.6V-71.6H106.2zM118.3 -73.6H120.3V-71.6H118.3zM-109.1 -75.3H-107.2V-73.4H-109.1zM-100.7 -75.3H-98.8V-73.4H-100.7zM-88.9 -75.3H-86.9V-73.4H-88.9zM-46.6 -75.3H-43.0V-73.4H-46.6zM-39.8 -75.3H-37.9V-73.4H-39.8zM12.6 -75.3H14.5V-73.4H12.6zM31.1 -75.3H33.1V-73.4H31.1zM41.3 -75.3H46.6V-73.4H41.3zM48.0 -75.3H56.7V-73.4H48.0zM61.6 -75.3H63.5V-73.4H61.6zM83.5 -75.3H87.2V-73.4H83.5zM97.1 -75.3H99.0V-73.4H97.1zM105.5 -75.3H109.1V-73.4H105.5zM110.6 -75.3H119.3V-73.4H110.6zM117.8 -76.9H118.9V-75.0H117.8zM-118.9 -76.9H-116.2V-75.0H-118.9zM-104.9 -76.9H-103.0V-75.0H-104.9zM-48.8 -76.9H-43.6V-75.0H-48.8zM-40.5 -76.9H-38.7V-75.0H-40.5zM-14.1 -76.9H-10.6V-75.0H-14.1zM40.3 -76.9H42.2V-75.0H40.3zM43.6 -76.9H48.8V-75.0H43.6zM51.9 -76.9H55.4V-75.0H51.9zM58.5 -76.9H60.3V-75.0H58.5zM61.8 -76.9H63.6V-75.0H61.8zM86.5 -76.9H88.4V-75.0H86.5zM89.8 -76.9H95.0V-75.0H89.8zM101.3 -76.9H106.5V-75.0H101.3zM-49.1 -78.5H-37.6V-76.7H-49.1zM-12.2 -78.5H-10.3V-76.7H-12.2zM8.7 -78.5H10.6V-76.7H8.7zM11.9 -78.5H13.8V-76.7H11.9zM44.1 -78.5H45.9V-76.7H44.1zM48.9 -78.5H50.7V-76.7H48.9zM52.1 -78.5H54.0V-76.7H52.1zM58.5 -78.5H62.0V-76.7H58.5zM81.0 -78.5H82.9V-76.7H81.0zM-79.0 -80.1H-77.2V-78.3H-79.0zM-47.7 -80.1H-44.4V-78.3H-47.7zM-11.8 -80.1H-10.0V-78.3H-11.8zM6.9 -80.1H8.7V-78.3H6.9zM13.2 -80.1H15.0V-78.3H13.2zM33.5 -80.1H35.3V-78.3H33.5zM42.8 -80.1H44.6V-78.3H42.8zM60.0 -80.1H63.4V-78.3H60.0zM83.4 -80.1H85.2V-78.3H83.4zM86.5 -80.1H88.3V-78.3H86.5zM91.2 -80.1H93.0V-78.3H91.2zM-11.5 -81.5H-8.2V-79.8H-11.5zM40.0 -81.5H41.8V-79.8H40.0zM56.7 -81.5H58.4V-79.8H56.7zM64.2 -81.5H66.0V-79.8H64.2zM83.9 -81.5H85.7V-79.8H83.9zM86.9 -81.5H88.7V-79.8H86.9zM-8.2 -82.9H-5.0V-81.3H-8.2zM5.0 -82.9H8.2V-81.3H5.0zM60.8 -82.9H62.5V-81.3H60.8zM-10.8 -84.1H-9.1V-82.6H-10.8zM6.3 -84.1H7.9V-82.6H6.3zM33.3 -84.1H34.9V-82.6H33.3zM54.6 -84.1H59.1V-82.6H54.6zM-49.0 -85.2H-46.0V-83.9H-49.0zM-44.9 -85.2H-43.3V-83.9H-44.9zM-40.8 -85.2H-36.4V-83.9H-40.8zM-33.9 -85.2H-32.3V-83.9H-33.9zM-29.7 -85.2H-26.7V-83.9H-29.7zM-25.6 -85.2H-24.0V-83.9H-25.6zM-22.9 -85.2H-19.9V-83.9H-22.9zM-14.6 -85.2H-10.2V-83.9H-14.6z"/></g></g><use href="#coast"/></g><use href="#frame"/></g>
<rect x="23.20" y="327.3" width="33.74" height="15.10" fill="#4010F0" stroke="#000" stroke-width="0.7"/><rect x="56.94" y="327.3" width="33.74" height="15.10" fill="#3C5FE1" stroke="#000" stroke-width="0.7"/><rect x="90.69" y="327.3" width="33.74" height="15.10" fill="#1E96FF" stroke="#000" stroke-width="0.7"/><rect x="124.43" y="327.3" width="33.74" height="15.10" fill="#50BEF0" stroke="#000" stroke-width="0.7"/><rect x="158.18" y="327.3" width="33.74" height="15.10" fill="#C8E6F8" stroke="#000" stroke-width="0.7"/><rect x="191.92" y="327.3" width="33.74" height="15.10" fill="#FFD728" stroke="#000" stroke-width="0.7"/><rect x="225.67" y="327.3" width="33.74" height="15.10" fill="#FF8C00" stroke="#000" stroke-width="0.7"/><rect x="259.41" y="327.3" width="33.74" height="15.10" fill="#FF0000" stroke="#000" stroke-width="0.7"/><rect x="293.16" y="327.3" width="33.74" height="15.10" fill="#D72828" stroke="#000" stroke-width="0.7"/>
<rect x="373.20" y="327.3" width="33.74" height="15.10" fill="#4010F0" stroke="#000" stroke-width="0.7"/><rect x="406.94" y="327.3" width="33.74" height="15.10" fill="#3C5FE1" stroke="#000" stroke-width="0.7"/><rect x="440.69" y="327.3" width="33.74" height="15.10" fill="#1E96FF" stroke="#000" stroke-width="0.7"/><rect x="474.43" y="327.3" width="33.74" height="15.10" fill="#50BEF0" stroke="#000" stroke-width="0.7"/><rect x="508.18" y="327.3" width="33.74" height="15.10" fill="#C8E6F8" stroke="#000" stroke-width="0.7"/><rect x="541.92" y="327.3" width="33.74" height="15.10" fill="#FFD728" stroke="#000" stroke-width="0.7"/><rect x="575.67" y="327.3" width="33.74" height="15.10" fill="#FF8C00" stroke="#000" stroke-width="0.7"/><rect x="609.41" y="327.3" width="33.74" height="15.10" fill="#FF0000" stroke="#000" stroke-width="0.7"/><rect x="643.16" y="327.3" width="33.74" height="15.10" fill="#D72828" stroke="#000" stroke-width="0.7"/>
<rect x="35.50" y="604.0" width="23.38" height="15.70" fill="#4010F0" stroke="#000" stroke-width="0.7"/><rect x="58.88" y="604.0" width="23.38" height="15.70" fill="#2841E6" stroke="#000" stroke-width="0.7"/><rect x="82.25" y="604.0" width="23.38" height="15.70" fill="#3278F0" stroke="#000" stroke-width="0.7"/><rect x="105.62" y="604.0" width="23.38" height="15.70" fill="#14A0FF" stroke="#000" stroke-width="0.7"/><rect x="129.00" y="604.0" width="23.38" height="15.70" fill="#46BEF5" stroke="#000" stroke-width="0.7"/><rect x="152.38" y="604.0" width="23.38" height="15.70" fill="#AADCF0" stroke="#000" stroke-width="0.7"/><rect x="175.75" y="604.0" width="23.38" height="15.70" fill="#FFF587" stroke="#000" stroke-width="0.7"/><rect x="199.12" y="604.0" width="23.38" height="15.70" fill="#FFD228" stroke="#000" stroke-width="0.7"/><rect x="222.50" y="604.0" width="23.38" height="15.70" fill="#FF9B0A" stroke="#000" stroke-width="0.7"/><rect x="245.88" y="604.0" width="23.38" height="15.70" fill="#FF500A" stroke="#000" stroke-width="0.7"/><rect x="269.25" y="604.0" width="23.38" height="15.70" fill="#F00000" stroke="#000" stroke-width="0.7"/><rect x="292.62" y="604.0" width="23.38" height="15.70" fill="#D72828" stroke="#000" stroke-width="0.7"/>
<g font-family="'Liberation Sans', sans-serif" fill="#000" stroke="#fff" stroke-width="0.18"><text x="350" y="82.0" font-size="19.45" text-anchor="middle">JJA TOTSOMN_1m (gN/m^2)</text>
<text transform="translate(174.6 109.5) scale(1 0.95)" font-size="15.72" text-anchor="middle">Myccost_I2000Clm50BgcCrop_kparams</text>
<text transform="translate(175 127.0) scale(1 0.95)" font-size="15.78" text-anchor="middle">(yrs 1-14)</text>
<text transform="translate(524.6 109.5) scale(1 0.95)" font-size="15.72" text-anchor="middle">Myccost_I2000Clm50BgcCrop_control</text>
<text transform="translate(525 127.0) scale(1 0.95)" font-size="15.78" text-anchor="middle">(yrs 1-14)</text>
<text transform="translate(174.6 386.8) scale(1 0.95)" font-size="15.72" text-anchor="middle">Myccost_I2000Clm50BgcCrop_kparams</text>
<text transform="translate(175.1 404.2) scale(1 0.95)" font-size="15.72" text-anchor="middle">- Myccost_I2000Clm50BgcCrop_control</text>
<text transform="translate(525.2 396.4) scale(1 0.95)" font-size="15.78" text-anchor="middle">T-Test of two Case means at each grid point</text></g>
<g font-family="'Liberation Sans', sans-serif" fill="#000" stroke="#fff" stroke-width="0.1"><text x="523.5" y="624.9" font-size="12.6" text-anchor="middle">Cells are significant at 0.1 level</text>
<text x="56.9" y="356.7" font-size="12.5" text-anchor="middle">0</text>
<text x="406.9" y="356.7" font-size="12.5" text-anchor="middle">0</text>
<text x="90.7" y="356.7" font-size="12.5" text-anchor="middle">500</text>
<text x="440.7" y="356.7" font-size="12.5" text-anchor="middle">500</text>
<text x="124.4" y="356.7" font-size="12.5" text-anchor="middle">1000</text>
<text x="474.4" y="356.7" font-size="12.5" text-anchor="middle">1000</text>
<text x="158.2" y="356.7" font-size="12.5" text-anchor="middle">1500</text>
<text x="508.2" y="356.7" font-size="12.5" text-anchor="middle">1500</text>
<text x="191.9" y="356.7" font-size="12.5" text-anchor="middle">2000</text>
<text x="541.9" y="356.7" font-size="12.5" text-anchor="middle">2000</text>
<text x="225.7" y="356.7" font-size="12.5" text-anchor="middle">2500</text>
<text x="575.7" y="356.7" font-size="12.5" text-anchor="middle">2500</text>
<text x="259.4" y="356.7" font-size="12.5" text-anchor="middle">3000</text>
<text x="609.4" y="356.7" font-size="12.5" text-anchor="middle">3000</text>
<text x="293.2" y="356.7" font-size="12.5" text-anchor="middle">3500</text>
<text x="643.2" y="356.7" font-size="12.5" text-anchor="middle">3500</text>
<text x="35.5" y="633.0" font-size="12.5" text-anchor="middle">-210.46</text>
<text x="82.2" y="633.0" font-size="12.5" text-anchor="middle">-40</text>
<text x="105.6" y="633.0" font-size="12.5" text-anchor="middle">-30</text>
<text x="129.0" y="633.0" font-size="12.5" text-anchor="middle">-20</text>
<text x="152.4" y="633.0" font-size="12.5" text-anchor="middle">-10</text>
<text x="175.8" y="633.0" font-size="12.5" text-anchor="middle">0</text>
<text x="199.1" y="633.0" font-size="12.5" text-anchor="middle">10</text>
<text x="222.5" y="633.0" font-size="12.5" text-anchor="middle">20</text>
<text x="245.9" y="633.0" font-size="12.5" text-anchor="middle">30</text>
<text x="269.2" y="633.0" font-size="12.5" text-anchor="middle">40</text>
<text x="316.0" y="633.0" font-size="12.5" text-anchor="middle">422.79</text></g>
</svg></body></html>
